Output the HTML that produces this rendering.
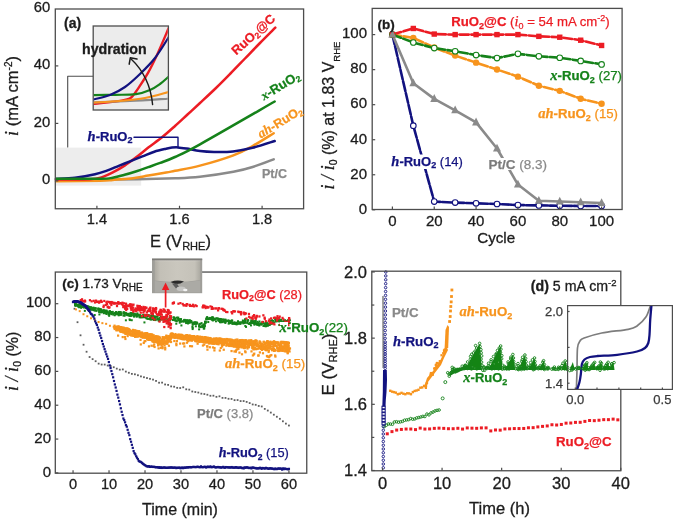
<!DOCTYPE html>
<html><head><meta charset="utf-8"><style>html,body{margin:0;padding:0;background:#fff;overflow:hidden}svg{display:block;will-change:transform} </style></head>
<body><svg width="675" height="521" viewBox="0 0 675 521">
<rect width="675" height="521" fill="#fff"/>
<rect x="56" y="147.6" width="85.2" height="38" fill="#ededed"/>
<path d="M67.7,147 V76.2 H93" fill="none" stroke="#4d4d4d" stroke-width="1.1" stroke-linejoin="round" stroke-linecap="round" stroke-linecap="butt"/>
<path d="M56,180 C65.33,179.93 92.17,179.88 112,179.6 C131.83,179.32 160.33,178.77 175,178.3 C189.67,177.83 190.27,177.88 200,176.8 C209.73,175.72 224.63,173.43 233.4,171.8 C242.17,170.17 245.88,169.08 252.6,167 C259.32,164.92 270.18,160.58 273.7,159.3" fill="none" stroke="#8a8a8a" stroke-width="2.5" stroke-linejoin="round" stroke-linecap="round" />
<path d="M56,181.2 C63.33,181.13 90.53,181.02 100,180.8 C109.47,180.58 107.7,180.3 112.8,179.9 C117.9,179.5 124.68,179.12 130.6,178.4 C136.52,177.68 142.38,176.57 148.3,175.6 C154.22,174.63 161.65,173.4 166.1,172.6 C170.55,171.8 169.35,171.97 175,170.8 C180.65,169.63 190.27,168.18 200,165.6 C209.73,163.02 224.63,158.57 233.4,155.3 C242.17,152.03 245.88,149.68 252.6,146 C259.32,142.32 270.18,135.33 273.7,133.2" fill="none" stroke="#f7941d" stroke-width="2.5" stroke-linejoin="round" stroke-linecap="round" />
<path d="M56,179.4 C61.67,179.37 82.32,179.58 90,179.2 C97.68,178.82 98.3,178.23 102.1,177.1 C105.9,175.97 109.05,174.32 112.8,172.4 C116.55,170.48 120.65,168.17 124.6,165.6 C128.55,163.03 132.55,160 136.5,157 C140.45,154 143.95,150.97 148.3,147.6 C152.65,144.23 158.15,140.4 162.6,136.8 C167.05,133.2 170.85,129.72 175,126 C179.15,122.28 183.33,118.33 187.5,114.5 C191.67,110.67 195.25,107.42 200,103 C204.75,98.58 211,92.83 216,88 C221,83.17 225.17,78.92 230,74 C234.83,69.08 240,63.67 245,58.5 C250,53.33 254.95,48.13 260,43 C265.05,37.87 272.75,30.25 275.3,27.7" fill="none" stroke="#ec1c24" stroke-width="2.5" stroke-linejoin="round" stroke-linecap="round" />
<path d="M56,179 C59.17,178.8 68.5,178.6 75,177.8 C81.5,177 89.68,175.4 95,174.2 C100.32,173 102.95,171.98 106.9,170.6 C110.85,169.22 114.75,167.48 118.7,165.9 C122.65,164.32 126.65,162.68 130.6,161.1 C134.55,159.52 138.45,157.97 142.4,156.4 C146.35,154.83 150.35,152.98 154.3,151.7 C158.25,150.42 163.15,149.38 166.1,148.7 C169.05,148.02 170.02,147.82 172,147.6 C173.98,147.38 175.55,147.23 178,147.4 C180.45,147.57 183.03,148 186.7,148.6 C190.37,149.2 195.45,150.45 200,151 C204.55,151.55 208.5,151.83 214,151.9 C219.5,151.97 226.57,152.08 233,151.4 C239.43,150.72 245.65,149.53 252.6,147.8 C259.55,146.07 271.02,142.13 274.7,141" fill="none" stroke="#12127f" stroke-width="2.5" stroke-linejoin="round" stroke-linecap="round" />
<path d="M56,178.8 C63.5,178.8 91.53,178.98 101,178.8 C110.47,178.62 108.87,178.37 112.8,177.7 C116.73,177.03 120.65,175.88 124.6,174.8 C128.55,173.72 132.55,172.48 136.5,171.2 C140.45,169.92 144.35,168.48 148.3,167.1 C152.25,165.72 155.75,164.58 160.2,162.9 C164.65,161.22 168.37,160.1 175,157 C181.63,153.9 183.38,153.55 200,144.3 C216.62,135.05 262.25,108.63 274.7,101.5" fill="none" stroke="#15821a" stroke-width="2.5" stroke-linejoin="round" stroke-linecap="round" />
<path d="M134,137.3 H178 V147" fill="none" stroke="#12127f" stroke-width="1.4" stroke-linejoin="round" stroke-linecap="round" stroke-linecap="butt"/>
<rect x="93.2" y="26" width="75.2" height="84" fill="#ececec" stroke="#4d4d4d" stroke-width="1.3"/>
<clipPath id="ci"><rect x="93.8" y="26.6" width="74" height="82.8"/></clipPath>
<g clip-path="url(#ci)">
<path d="M93,103.9 C96.67,103.52 109.33,102.35 115,101.6 C120.67,100.85 124.23,100.13 127,99.4 C129.77,98.67 129.62,99.22 131.6,97.2 C133.58,95.18 136.17,91.35 138.9,87.3 C141.63,83.25 144.97,78.33 148,72.9 C151.03,67.47 153.68,62.1 157.1,54.7 C160.52,47.3 166.6,32.87 168.5,28.5" fill="none" stroke="#ec1c24" stroke-width="2.4" stroke-linejoin="round" stroke-linecap="round" />
<path d="M93,102.3 C99.17,102.08 117.42,101.6 130,101 C142.58,100.4 162.08,99.08 168.5,98.7" fill="none" stroke="#8a8a8a" stroke-width="2.2" stroke-linejoin="round" stroke-linecap="round" />
<path d="M93,102.5 C97.5,102.25 111.33,101.75 120,101 C128.67,100.25 136.92,99.5 145,98 C153.08,96.5 164.58,93 168.5,92" fill="none" stroke="#f7941d" stroke-width="2.2" stroke-linejoin="round" stroke-linecap="round" />
<path d="M93,95.2 C96.67,95.13 107.83,94.97 115,94.8 C122.17,94.63 130.17,95 136,94.2 C141.83,93.4 146,91.7 150,90 C154,88.3 156.92,86.2 160,84 C163.08,81.8 167.08,78 168.5,76.8" fill="none" stroke="#15821a" stroke-width="2.2" stroke-linejoin="round" stroke-linecap="round" />
<path d="M93,99.5 C95.83,98.75 104.67,97.08 110,95 C115.33,92.92 120,90.5 125,87 C130,83.5 135,78.83 140,74 C145,69.17 150.25,64.08 155,58 C159.75,51.92 166.25,40.92 168.5,37.5" fill="none" stroke="#12127f" stroke-width="2.2" stroke-linejoin="round" stroke-linecap="round" />
</g>
<path d="M152.6,104.6 C151,88 145,72 130.6,58.6" fill="none" stroke="#1c1c1c" stroke-width="1.4" stroke-linejoin="round" stroke-linecap="round" />
<path d="M129.2,64.2 L130.3,57.8 L137,59" fill="none" stroke="#1c1c1c" stroke-width="1.5" stroke-linejoin="round" stroke-linecap="round" />
<text x="82" y="53.5" font-size="14.2" text-anchor="start" fill="#1c1c1c" stroke="#1c1c1c" stroke-width="0.3" font-weight="bold" font-family="Liberation Sans, sans-serif" >hydration</text>
<rect x="55.3" y="9" width="248.3" height="199.75" fill="none" stroke="#4d4d4d" stroke-width="1.3"/>
<line x1="96.9" y1="208.75" x2="96.9" y2="205.75" stroke="#4d4d4d" stroke-width="1.2" />
<line x1="179.5" y1="208.75" x2="179.5" y2="205.75" stroke="#4d4d4d" stroke-width="1.2" />
<line x1="262.1" y1="208.75" x2="262.1" y2="205.75" stroke="#4d4d4d" stroke-width="1.2" />
<line x1="55.3" y1="180.9" x2="58.3" y2="180.9" stroke="#4d4d4d" stroke-width="1.2" />
<line x1="55.3" y1="123.4" x2="58.3" y2="123.4" stroke="#4d4d4d" stroke-width="1.2" />
<line x1="55.3" y1="65.9" x2="58.3" y2="65.9" stroke="#4d4d4d" stroke-width="1.2" />
<text x="96.9" y="224.4" font-size="14.6" text-anchor="middle" fill="#1c1c1c" stroke="#1c1c1c" stroke-width="0.3" font-weight="normal" font-family="Liberation Sans, sans-serif" >1.4</text>
<text x="179.5" y="224.4" font-size="14.6" text-anchor="middle" fill="#1c1c1c" stroke="#1c1c1c" stroke-width="0.3" font-weight="normal" font-family="Liberation Sans, sans-serif" >1.6</text>
<text x="262.1" y="224.4" font-size="14.6" text-anchor="middle" fill="#1c1c1c" stroke="#1c1c1c" stroke-width="0.3" font-weight="normal" font-family="Liberation Sans, sans-serif" >1.8</text>
<text x="50.2" y="184.3" font-size="14.8" text-anchor="end" fill="#1c1c1c" stroke="#1c1c1c" stroke-width="0.3" font-weight="normal" font-family="Liberation Sans, sans-serif" >0</text>
<text x="50.2" y="126.8" font-size="14.8" text-anchor="end" fill="#1c1c1c" stroke="#1c1c1c" stroke-width="0.3" font-weight="normal" font-family="Liberation Sans, sans-serif" >20</text>
<text x="50.2" y="69.3" font-size="14.8" text-anchor="end" fill="#1c1c1c" stroke="#1c1c1c" stroke-width="0.3" font-weight="normal" font-family="Liberation Sans, sans-serif" >40</text>
<text x="50.2" y="11.8" font-size="14.8" text-anchor="end" fill="#1c1c1c" stroke="#1c1c1c" stroke-width="0.3" font-weight="normal" font-family="Liberation Sans, sans-serif" >60</text>
<text x="64" y="28" font-size="14" text-anchor="start" fill="#1c1c1c" stroke="#1c1c1c" stroke-width="0.3" font-weight="bold" font-family="Liberation Sans, sans-serif" >(a)</text>
<text transform="translate(17.5,96) rotate(-90)" font-size="16.5" text-anchor="middle" fill="#1c1c1c" stroke="#1c1c1c" stroke-width="0.3" font-family="Liberation Sans, sans-serif"><tspan font-family="Liberation Serif, serif" font-style="italic" font-weight="normal" font-size="18">i</tspan> (mA cm<tspan font-size="10" dy="-6">-2</tspan><tspan dy="6">)</tspan></text>
<text x="180.5" y="246.5" font-size="16.5" text-anchor="middle" fill="#1c1c1c" stroke="#1c1c1c" stroke-width="0.3" font-family="Liberation Sans, sans-serif">E (V<tspan font-size="11" dy="3">RHE</tspan><tspan dy="-3">)</tspan></text>
<text transform="translate(236.3,55.6) rotate(-42)" font-size="12.8" text-anchor="start" fill="#ec1c24" stroke="#ec1c24" stroke-width="0.25" font-weight="bold" font-family="Liberation Sans, sans-serif"><tspan font-weight="bold">RuO</tspan><tspan font-weight="bold" font-size="8.5" dy="2.2">2</tspan><tspan font-weight="bold" dy="-2.2">@C</tspan></text>
<text transform="translate(264,100.5) rotate(-31)" font-size="13" text-anchor="start" fill="#15821a" stroke="#15821a" stroke-width="0.25" font-weight="bold" font-family="Liberation Sans, sans-serif"><tspan font-family="Liberation Serif, serif" font-style="italic" font-weight="bold" font-size="13">x</tspan>-<tspan font-weight="bold">RuO</tspan><tspan font-weight="bold" font-size="8.5" dy="2.2">2</tspan></text>
<text transform="translate(260.8,138.5) rotate(-31)" font-size="12.6" text-anchor="start" fill="#f7941d" stroke="#f7941d" stroke-width="0.25" font-weight="bold" font-family="Liberation Sans, sans-serif"><tspan font-family="Liberation Serif, serif" font-style="italic" font-weight="bold" font-size="13.5">ah</tspan>-<tspan font-weight="bold">RuO</tspan><tspan font-weight="bold" font-size="8.5" dy="2.2">2</tspan></text>
<text transform="translate(132.5,140.6)" font-size="13" text-anchor="end" fill="#12127f" stroke="#12127f" stroke-width="0.25" font-weight="bold" font-family="Liberation Sans, sans-serif"><tspan font-family="Liberation Serif, serif" font-style="italic" font-weight="bold" font-size="14.5">h</tspan>-<tspan font-weight="bold">RuO</tspan><tspan font-weight="bold" font-size="9" dy="2.5">2</tspan></text>
<text transform="translate(262,178.3)" font-size="12.5" text-anchor="start" fill="#8a8a8a" stroke="#8a8a8a" stroke-width="0.25" font-weight="bold" font-family="Liberation Sans, sans-serif">Pt/C</text>
<path d="M392.4,34.6 L413.32,125.7 L434.24,201.57 L455.16,202.62 L476.08,203.32 L497,204.02 L517.92,205.07 L538.84,205.42 L559.76,205.77 L580.68,205.95 L601.6,205.95" fill="none" stroke="#12127f" stroke-width="2.6" stroke-linejoin="round" stroke-linecap="round" stroke-dasharray="10 2"/>
<circle cx="392.4" cy="34.6" r="2.8" fill="#fff" stroke="#12127f" stroke-width="1.1"/>
<circle cx="413.32" cy="125.7" r="2.8" fill="#fff" stroke="#12127f" stroke-width="1.1"/>
<circle cx="434.24" cy="201.57" r="2.8" fill="#fff" stroke="#12127f" stroke-width="1.1"/>
<circle cx="455.16" cy="202.62" r="2.8" fill="#fff" stroke="#12127f" stroke-width="1.1"/>
<circle cx="476.08" cy="203.32" r="2.8" fill="#fff" stroke="#12127f" stroke-width="1.1"/>
<circle cx="497" cy="204.02" r="2.8" fill="#fff" stroke="#12127f" stroke-width="1.1"/>
<circle cx="517.92" cy="205.07" r="2.8" fill="#fff" stroke="#12127f" stroke-width="1.1"/>
<circle cx="538.84" cy="205.42" r="2.8" fill="#fff" stroke="#12127f" stroke-width="1.1"/>
<circle cx="559.76" cy="205.77" r="2.8" fill="#fff" stroke="#12127f" stroke-width="1.1"/>
<circle cx="580.68" cy="205.95" r="2.8" fill="#fff" stroke="#12127f" stroke-width="1.1"/>
<circle cx="601.6" cy="205.95" r="2.8" fill="#fff" stroke="#12127f" stroke-width="1.1"/>
<path d="M392.4,34.6 L413.32,83.31 L434.24,98.9 L455.16,110.29 L476.08,122.38 L497,148.48 L517.92,184.57 L538.84,200.69 L559.76,201.57 L580.68,202.27 L601.6,202.97" fill="none" stroke="#8a8a8a" stroke-width="2.6" stroke-linejoin="round" stroke-linecap="round" />
<path d="M392.4,29.8 L388.4,37.6 L396.4,37.6 Z" fill="#8a8a8a"/>
<path d="M413.32,78.51 L409.32,86.31 L417.32,86.31 Z" fill="#8a8a8a"/>
<path d="M434.24,94.1 L430.24,101.9 L438.24,101.9 Z" fill="#8a8a8a"/>
<path d="M455.16,105.49 L451.16,113.29 L459.16,113.29 Z" fill="#8a8a8a"/>
<path d="M476.08,117.58 L472.08,125.38 L480.08,125.38 Z" fill="#8a8a8a"/>
<path d="M497,143.68 L493,151.48 L501,151.48 Z" fill="#8a8a8a"/>
<path d="M517.92,179.77 L513.92,187.57 L521.92,187.57 Z" fill="#8a8a8a"/>
<path d="M538.84,195.89 L534.84,203.69 L542.84,203.69 Z" fill="#8a8a8a"/>
<path d="M559.76,196.77 L555.76,204.57 L563.76,204.57 Z" fill="#8a8a8a"/>
<path d="M580.68,197.47 L576.68,205.27 L584.68,205.27 Z" fill="#8a8a8a"/>
<path d="M601.6,198.17 L597.6,205.97 L605.6,205.97 Z" fill="#8a8a8a"/>
<path d="M392.4,34.6 L413.32,37.93 L434.24,47.56 L455.16,55.62 L476.08,62.63 L497,69.46 L517.92,76.65 L538.84,85.76 L559.76,90.84 L580.68,98.72 L601.6,103.8" fill="none" stroke="#f7941d" stroke-width="2.6" stroke-linejoin="round" stroke-linecap="round" stroke-dasharray="9 2.5"/>
<path d="M392.4,34.6 L413.32,42.48 L434.24,48.09 L455.16,51.24 L476.08,55.1 L497,58.08 L517.92,53.87 L538.84,56.32 L559.76,57.73 L580.68,60.88 L601.6,64.38" fill="none" stroke="#15821a" stroke-width="2.6" stroke-linejoin="round" stroke-linecap="round" stroke-dasharray="9 2.5"/>
<path d="M392.4,34.6 L413.32,28.47 L434.24,34.07 L455.16,34.6 L476.08,34.6 L497,34.6 L517.92,34.6 L538.84,36.35 L559.76,37.23 L580.68,40.21 L601.6,45.46" fill="none" stroke="#ec1c24" stroke-width="2.6" stroke-linejoin="round" stroke-linecap="round" stroke-dasharray="9 2.5"/>
<circle cx="392.4" cy="34.6" r="3.2" fill="#f7941d"/>
<circle cx="413.32" cy="37.93" r="3.2" fill="#f7941d"/>
<circle cx="434.24" cy="47.56" r="3.2" fill="#f7941d"/>
<circle cx="455.16" cy="55.62" r="3.2" fill="#f7941d"/>
<circle cx="476.08" cy="62.63" r="3.2" fill="#f7941d"/>
<circle cx="497" cy="69.46" r="3.2" fill="#f7941d"/>
<circle cx="517.92" cy="76.65" r="3.2" fill="#f7941d"/>
<circle cx="538.84" cy="85.76" r="3.2" fill="#f7941d"/>
<circle cx="559.76" cy="90.84" r="3.2" fill="#f7941d"/>
<circle cx="580.68" cy="98.72" r="3.2" fill="#f7941d"/>
<circle cx="601.6" cy="103.8" r="3.2" fill="#f7941d"/>
<circle cx="392.4" cy="34.6" r="2.8" fill="#fff" stroke="#15821a" stroke-width="1.1"/>
<circle cx="413.32" cy="42.48" r="2.8" fill="#fff" stroke="#15821a" stroke-width="1.1"/>
<circle cx="434.24" cy="48.09" r="2.8" fill="#fff" stroke="#15821a" stroke-width="1.1"/>
<circle cx="455.16" cy="51.24" r="2.8" fill="#fff" stroke="#15821a" stroke-width="1.1"/>
<circle cx="476.08" cy="55.1" r="2.8" fill="#fff" stroke="#15821a" stroke-width="1.1"/>
<circle cx="497" cy="58.08" r="2.8" fill="#fff" stroke="#15821a" stroke-width="1.1"/>
<circle cx="517.92" cy="53.87" r="2.8" fill="#fff" stroke="#15821a" stroke-width="1.1"/>
<circle cx="538.84" cy="56.32" r="2.8" fill="#fff" stroke="#15821a" stroke-width="1.1"/>
<circle cx="559.76" cy="57.73" r="2.8" fill="#fff" stroke="#15821a" stroke-width="1.1"/>
<circle cx="580.68" cy="60.88" r="2.8" fill="#fff" stroke="#15821a" stroke-width="1.1"/>
<circle cx="601.6" cy="64.38" r="2.8" fill="#fff" stroke="#15821a" stroke-width="1.1"/>
<rect x="389.7" y="31.9" width="5.4" height="5.4" fill="#ec1c24"/>
<rect x="410.62" y="25.77" width="5.4" height="5.4" fill="#ec1c24"/>
<rect x="431.54" y="31.37" width="5.4" height="5.4" fill="#ec1c24"/>
<rect x="452.46" y="31.9" width="5.4" height="5.4" fill="#ec1c24"/>
<rect x="473.38" y="31.9" width="5.4" height="5.4" fill="#ec1c24"/>
<rect x="494.3" y="31.9" width="5.4" height="5.4" fill="#ec1c24"/>
<rect x="515.22" y="31.9" width="5.4" height="5.4" fill="#ec1c24"/>
<rect x="536.14" y="33.65" width="5.4" height="5.4" fill="#ec1c24"/>
<rect x="557.06" y="34.53" width="5.4" height="5.4" fill="#ec1c24"/>
<rect x="577.98" y="37.51" width="5.4" height="5.4" fill="#ec1c24"/>
<rect x="598.9" y="42.76" width="5.4" height="5.4" fill="#ec1c24"/>
<path d="M392.4,30 L388.6,37.6 L396.2,37.6 Z" fill="#8a8a8a"/>
<rect x="372.2" y="8.4" width="249.9" height="201.1" fill="none" stroke="#4d4d4d" stroke-width="1.3"/>
<line x1="392.4" y1="209.5" x2="392.4" y2="206.5" stroke="#4d4d4d" stroke-width="1.2" />
<text x="392.4" y="225.5" font-size="15" text-anchor="middle" fill="#1c1c1c" stroke="#1c1c1c" stroke-width="0.3" font-weight="normal" font-family="Liberation Sans, sans-serif" >0</text>
<line x1="434.24" y1="209.5" x2="434.24" y2="206.5" stroke="#4d4d4d" stroke-width="1.2" />
<text x="434.24" y="225.5" font-size="15" text-anchor="middle" fill="#1c1c1c" stroke="#1c1c1c" stroke-width="0.3" font-weight="normal" font-family="Liberation Sans, sans-serif" >20</text>
<line x1="476.08" y1="209.5" x2="476.08" y2="206.5" stroke="#4d4d4d" stroke-width="1.2" />
<text x="476.08" y="225.5" font-size="15" text-anchor="middle" fill="#1c1c1c" stroke="#1c1c1c" stroke-width="0.3" font-weight="normal" font-family="Liberation Sans, sans-serif" >40</text>
<line x1="517.92" y1="209.5" x2="517.92" y2="206.5" stroke="#4d4d4d" stroke-width="1.2" />
<text x="517.92" y="225.5" font-size="15" text-anchor="middle" fill="#1c1c1c" stroke="#1c1c1c" stroke-width="0.3" font-weight="normal" font-family="Liberation Sans, sans-serif" >60</text>
<line x1="559.76" y1="209.5" x2="559.76" y2="206.5" stroke="#4d4d4d" stroke-width="1.2" />
<text x="559.76" y="225.5" font-size="15" text-anchor="middle" fill="#1c1c1c" stroke="#1c1c1c" stroke-width="0.3" font-weight="normal" font-family="Liberation Sans, sans-serif" >80</text>
<line x1="601.6" y1="209.5" x2="601.6" y2="206.5" stroke="#4d4d4d" stroke-width="1.2" />
<text x="601.6" y="225.5" font-size="15" text-anchor="middle" fill="#1c1c1c" stroke="#1c1c1c" stroke-width="0.3" font-weight="normal" font-family="Liberation Sans, sans-serif" >100</text>
<line x1="372.2" y1="209.8" x2="375.2" y2="209.8" stroke="#4d4d4d" stroke-width="1.2" />
<text x="367" y="213.6" font-size="15" text-anchor="end" fill="#1c1c1c" stroke="#1c1c1c" stroke-width="0.3" font-weight="normal" font-family="Liberation Sans, sans-serif" >0</text>
<line x1="372.2" y1="174.76" x2="375.2" y2="174.76" stroke="#4d4d4d" stroke-width="1.2" />
<text x="367" y="178.56" font-size="15" text-anchor="end" fill="#1c1c1c" stroke="#1c1c1c" stroke-width="0.3" font-weight="normal" font-family="Liberation Sans, sans-serif" >20</text>
<line x1="372.2" y1="139.72" x2="375.2" y2="139.72" stroke="#4d4d4d" stroke-width="1.2" />
<text x="367" y="143.52" font-size="15" text-anchor="end" fill="#1c1c1c" stroke="#1c1c1c" stroke-width="0.3" font-weight="normal" font-family="Liberation Sans, sans-serif" >40</text>
<line x1="372.2" y1="104.68" x2="375.2" y2="104.68" stroke="#4d4d4d" stroke-width="1.2" />
<text x="367" y="108.48" font-size="15" text-anchor="end" fill="#1c1c1c" stroke="#1c1c1c" stroke-width="0.3" font-weight="normal" font-family="Liberation Sans, sans-serif" >60</text>
<line x1="372.2" y1="69.64" x2="375.2" y2="69.64" stroke="#4d4d4d" stroke-width="1.2" />
<text x="367" y="73.44" font-size="15" text-anchor="end" fill="#1c1c1c" stroke="#1c1c1c" stroke-width="0.3" font-weight="normal" font-family="Liberation Sans, sans-serif" >80</text>
<line x1="372.2" y1="34.6" x2="375.2" y2="34.6" stroke="#4d4d4d" stroke-width="1.2" />
<text x="367" y="38.4" font-size="15" text-anchor="end" fill="#1c1c1c" stroke="#1c1c1c" stroke-width="0.3" font-weight="normal" font-family="Liberation Sans, sans-serif" >100</text>
<text x="377.5" y="28.5" font-size="13.5" text-anchor="start" fill="#1c1c1c" stroke="#1c1c1c" stroke-width="0.3" font-weight="bold" font-family="Liberation Sans, sans-serif" >(b)</text>
<text x="496.2" y="243" font-size="15.2" text-anchor="middle" fill="#1c1c1c" stroke="#1c1c1c" stroke-width="0.3" font-weight="normal" font-family="Liberation Sans, sans-serif" >Cycle</text>
<text transform="translate(333.5,115.5) rotate(-90)" font-size="16" text-anchor="middle" fill="#1c1c1c" stroke="#1c1c1c" stroke-width="0.3" font-family="Liberation Sans, sans-serif"><tspan font-family="Liberation Serif, serif" font-style="italic" font-weight="normal" font-size="18">i</tspan><tspan font-family="Liberation Serif, serif" font-style="italic" font-size="18"> / </tspan><tspan font-family="Liberation Serif, serif" font-style="italic" font-weight="normal" font-size="18">i</tspan><tspan font-size="10.5" dy="3">0</tspan><tspan dy="-3"> (%) at 1.83 V</tspan><tspan font-size="9.5" dy="6">RHE</tspan></text>
<text transform="translate(451.2,26.3)" font-size="13.2" text-anchor="start" fill="#ec1c24" stroke="#ec1c24" stroke-width="0.25" font-weight="normal" font-family="Liberation Sans, sans-serif"><tspan font-weight="bold">RuO</tspan><tspan font-weight="bold" font-size="9" dy="2.5">2</tspan><tspan font-weight="bold" dy="-2.5">@C</tspan> (<tspan font-family="Liberation Serif, serif" font-style="italic" font-weight="normal" font-size="14.5">i</tspan><tspan font-size="9" dy="2.5">0</tspan><tspan dy="-2.5"> = 54 mA cm</tspan><tspan font-size="9" dy="-5">-2</tspan><tspan dy="5">)</tspan></text>
<text transform="translate(622,80)" font-size="13.2" text-anchor="end" fill="#15821a" stroke="#15821a" stroke-width="0.25" font-weight="normal" font-family="Liberation Sans, sans-serif"><tspan font-family="Liberation Serif, serif" font-style="italic" font-weight="bold" font-size="14.5">x</tspan><tspan font-weight="bold">-</tspan><tspan font-weight="bold">RuO</tspan><tspan font-weight="bold" font-size="9" dy="2.5">2</tspan><tspan dy="-2.5"> (27)</tspan></text>
<text transform="translate(618,118)" font-size="13.2" text-anchor="end" fill="#f7941d" stroke="#f7941d" stroke-width="0.25" font-weight="normal" font-family="Liberation Sans, sans-serif"><tspan font-family="Liberation Serif, serif" font-style="italic" font-weight="bold" font-size="14.5">ah</tspan><tspan font-weight="bold">-</tspan><tspan font-weight="bold">RuO</tspan><tspan font-weight="bold" font-size="9" dy="2.5">2</tspan><tspan dy="-2.5"> (15)</tspan></text>
<rect x="391" y="154.5" width="70" height="14.5" fill="#fff"/>
<text transform="translate(391.3,165.5)" font-size="13" text-anchor="start" fill="#12127f" stroke="#12127f" stroke-width="0.25" font-weight="normal" font-family="Liberation Sans, sans-serif"><tspan font-family="Liberation Serif, serif" font-style="italic" font-weight="bold" font-size="14.5">h</tspan><tspan font-weight="bold">-</tspan><tspan font-weight="bold">RuO</tspan><tspan font-weight="bold" font-size="9" dy="2.5">2</tspan><tspan dy="-2.5"> (14)</tspan></text>
<rect x="489" y="158" width="31" height="12" fill="#fff"/>
<text transform="translate(488.5,169)" font-size="13.5" text-anchor="start" fill="#8a8a8a" stroke="#8a8a8a" stroke-width="0.25" font-weight="normal" font-family="Liberation Sans, sans-serif"><tspan font-weight="bold" fill="#7a7a7a">Pt/C</tspan> (8.3)</text>
<rect x="73.59" y="307.83" width="1.8" height="1.8" fill="#5e5e5e"/>
<rect x="76.61" y="321.31" width="1.8" height="1.8" fill="#5e5e5e"/>
<rect x="79.63" y="334.41" width="1.8" height="1.8" fill="#5e5e5e"/>
<rect x="82.65" y="343.83" width="1.8" height="1.8" fill="#5e5e5e"/>
<rect x="85.67" y="350.85" width="1.8" height="1.8" fill="#5e5e5e"/>
<rect x="88.69" y="356.11" width="1.8" height="1.8" fill="#5e5e5e"/>
<rect x="91.71" y="358.23" width="1.8" height="1.8" fill="#5e5e5e"/>
<rect x="94.73" y="360.31" width="1.8" height="1.8" fill="#5e5e5e"/>
<rect x="97.75" y="362.73" width="1.8" height="1.8" fill="#5e5e5e"/>
<rect x="100.77" y="363.64" width="1.8" height="1.8" fill="#5e5e5e"/>
<rect x="103.79" y="363.68" width="1.8" height="1.8" fill="#5e5e5e"/>
<rect x="106.81" y="364.65" width="1.8" height="1.8" fill="#5e5e5e"/>
<rect x="109.83" y="365.13" width="1.8" height="1.8" fill="#5e5e5e"/>
<rect x="112.85" y="366.32" width="1.8" height="1.8" fill="#5e5e5e"/>
<rect x="115.87" y="367.74" width="1.8" height="1.8" fill="#5e5e5e"/>
<rect x="118.89" y="368.77" width="1.8" height="1.8" fill="#5e5e5e"/>
<rect x="121.91" y="368.52" width="1.8" height="1.8" fill="#5e5e5e"/>
<rect x="124.93" y="370.69" width="1.8" height="1.8" fill="#5e5e5e"/>
<rect x="127.95" y="371.86" width="1.8" height="1.8" fill="#5e5e5e"/>
<rect x="130.97" y="372.97" width="1.8" height="1.8" fill="#5e5e5e"/>
<rect x="134" y="373.4" width="1.8" height="1.8" fill="#5e5e5e"/>
<rect x="137.02" y="374.34" width="1.8" height="1.8" fill="#5e5e5e"/>
<rect x="140.04" y="375.5" width="1.8" height="1.8" fill="#5e5e5e"/>
<rect x="143.06" y="376.33" width="1.8" height="1.8" fill="#5e5e5e"/>
<rect x="146.08" y="377.14" width="1.8" height="1.8" fill="#5e5e5e"/>
<rect x="149.1" y="377.92" width="1.8" height="1.8" fill="#5e5e5e"/>
<rect x="152.12" y="378.7" width="1.8" height="1.8" fill="#5e5e5e"/>
<rect x="155.14" y="380.02" width="1.8" height="1.8" fill="#5e5e5e"/>
<rect x="158.16" y="381.82" width="1.8" height="1.8" fill="#5e5e5e"/>
<rect x="161.18" y="381.72" width="1.8" height="1.8" fill="#5e5e5e"/>
<rect x="164.2" y="383.57" width="1.8" height="1.8" fill="#5e5e5e"/>
<rect x="167.22" y="383.99" width="1.8" height="1.8" fill="#5e5e5e"/>
<rect x="170.24" y="385.49" width="1.8" height="1.8" fill="#5e5e5e"/>
<rect x="173.26" y="385.82" width="1.8" height="1.8" fill="#5e5e5e"/>
<rect x="176.28" y="386.95" width="1.8" height="1.8" fill="#5e5e5e"/>
<rect x="179.3" y="387.12" width="1.8" height="1.8" fill="#5e5e5e"/>
<rect x="182.32" y="386.4" width="1.8" height="1.8" fill="#5e5e5e"/>
<rect x="185.34" y="388.4" width="1.8" height="1.8" fill="#5e5e5e"/>
<rect x="188.36" y="388.73" width="1.8" height="1.8" fill="#5e5e5e"/>
<rect x="191.38" y="390.6" width="1.8" height="1.8" fill="#5e5e5e"/>
<rect x="194.4" y="391.11" width="1.8" height="1.8" fill="#5e5e5e"/>
<rect x="197.42" y="391.65" width="1.8" height="1.8" fill="#5e5e5e"/>
<rect x="200.44" y="392.76" width="1.8" height="1.8" fill="#5e5e5e"/>
<rect x="203.46" y="393.14" width="1.8" height="1.8" fill="#5e5e5e"/>
<rect x="206.48" y="393.83" width="1.8" height="1.8" fill="#5e5e5e"/>
<rect x="209.5" y="394.88" width="1.8" height="1.8" fill="#5e5e5e"/>
<rect x="212.52" y="394.79" width="1.8" height="1.8" fill="#5e5e5e"/>
<rect x="215.54" y="395.95" width="1.8" height="1.8" fill="#5e5e5e"/>
<rect x="218.56" y="395.39" width="1.8" height="1.8" fill="#5e5e5e"/>
<rect x="221.58" y="396.97" width="1.8" height="1.8" fill="#5e5e5e"/>
<rect x="224.6" y="397.04" width="1.8" height="1.8" fill="#5e5e5e"/>
<rect x="227.62" y="397.89" width="1.8" height="1.8" fill="#5e5e5e"/>
<rect x="230.64" y="398.04" width="1.8" height="1.8" fill="#5e5e5e"/>
<rect x="233.66" y="399.26" width="1.8" height="1.8" fill="#5e5e5e"/>
<rect x="236.69" y="399.14" width="1.8" height="1.8" fill="#5e5e5e"/>
<rect x="239.71" y="400.17" width="1.8" height="1.8" fill="#5e5e5e"/>
<rect x="242.73" y="400.15" width="1.8" height="1.8" fill="#5e5e5e"/>
<rect x="245.75" y="400.98" width="1.8" height="1.8" fill="#5e5e5e"/>
<rect x="248.77" y="402.16" width="1.8" height="1.8" fill="#5e5e5e"/>
<rect x="251.79" y="403.56" width="1.8" height="1.8" fill="#5e5e5e"/>
<rect x="254.81" y="403.92" width="1.8" height="1.8" fill="#5e5e5e"/>
<rect x="257.83" y="405.05" width="1.8" height="1.8" fill="#5e5e5e"/>
<rect x="260.85" y="405.57" width="1.8" height="1.8" fill="#5e5e5e"/>
<rect x="263.87" y="408.01" width="1.8" height="1.8" fill="#5e5e5e"/>
<rect x="266.89" y="409.64" width="1.8" height="1.8" fill="#5e5e5e"/>
<rect x="269.91" y="411.68" width="1.8" height="1.8" fill="#5e5e5e"/>
<rect x="272.93" y="413.8" width="1.8" height="1.8" fill="#5e5e5e"/>
<rect x="275.95" y="415.85" width="1.8" height="1.8" fill="#5e5e5e"/>
<rect x="278.97" y="417.91" width="1.8" height="1.8" fill="#5e5e5e"/>
<rect x="281.99" y="420.39" width="1.8" height="1.8" fill="#5e5e5e"/>
<rect x="285.01" y="422.73" width="1.8" height="1.8" fill="#5e5e5e"/>
<rect x="288.03" y="424.62" width="1.8" height="1.8" fill="#5e5e5e"/>
<rect x="74.93" y="308.41" width="2" height="2" fill="#f7941d"/>
<rect x="78.71" y="310.13" width="2" height="2" fill="#f7941d"/>
<rect x="82.48" y="313.25" width="2" height="2" fill="#f7941d"/>
<rect x="86.26" y="315.27" width="2" height="2" fill="#f7941d"/>
<rect x="90.04" y="317.27" width="2" height="2" fill="#f7941d"/>
<rect x="93.82" y="319.16" width="2" height="2" fill="#f7941d"/>
<rect x="97.6" y="320.98" width="2" height="2" fill="#f7941d"/>
<rect x="101.37" y="322.15" width="2" height="2" fill="#f7941d"/>
<rect x="105.15" y="322.82" width="2" height="2" fill="#f7941d"/>
<rect x="108.93" y="324.78" width="2" height="2" fill="#f7941d"/>
<rect x="112.71" y="325.75" width="2" height="2" fill="#f7941d"/>
<rect x="150.32" y="335.71" width="2.2" height="2.2" fill="#f7941d"/>
<rect x="263.34" y="345.7" width="2.2" height="2.2" fill="#f7941d"/>
<rect x="130.94" y="334.24" width="2.2" height="2.2" fill="#f7941d"/>
<rect x="150.77" y="334.94" width="2.2" height="2.2" fill="#f7941d"/>
<rect x="249" y="341.82" width="2.2" height="2.2" fill="#f7941d"/>
<rect x="165.36" y="334.98" width="2.2" height="2.2" fill="#f7941d"/>
<rect x="129.15" y="331.32" width="2.2" height="2.2" fill="#f7941d"/>
<rect x="156" y="339.2" width="2.2" height="2.2" fill="#f7941d"/>
<rect x="178.59" y="335.41" width="2.2" height="2.2" fill="#f7941d"/>
<rect x="281.73" y="345.39" width="2.2" height="2.2" fill="#f7941d"/>
<rect x="214.21" y="342.19" width="2.2" height="2.2" fill="#f7941d"/>
<rect x="145.43" y="332.86" width="2.2" height="2.2" fill="#f7941d"/>
<rect x="272.83" y="347.99" width="2.2" height="2.2" fill="#f7941d"/>
<rect x="157.13" y="336.74" width="2.2" height="2.2" fill="#f7941d"/>
<rect x="243.16" y="346.55" width="2.2" height="2.2" fill="#f7941d"/>
<rect x="147.84" y="338.77" width="2.2" height="2.2" fill="#f7941d"/>
<rect x="268.22" y="345.66" width="2.2" height="2.2" fill="#f7941d"/>
<rect x="187.33" y="334.75" width="2.2" height="2.2" fill="#f7941d"/>
<rect x="120.12" y="330.62" width="2.2" height="2.2" fill="#f7941d"/>
<rect x="155.19" y="339.61" width="2.2" height="2.2" fill="#f7941d"/>
<rect x="158.45" y="341.67" width="2.2" height="2.2" fill="#f7941d"/>
<rect x="218.06" y="339.19" width="2.2" height="2.2" fill="#f7941d"/>
<rect x="144.13" y="336.23" width="2.2" height="2.2" fill="#f7941d"/>
<rect x="125.4" y="328.28" width="2.2" height="2.2" fill="#f7941d"/>
<rect x="211.54" y="341.75" width="2.2" height="2.2" fill="#f7941d"/>
<rect x="221.19" y="339.34" width="2.2" height="2.2" fill="#f7941d"/>
<rect x="274.4" y="342.26" width="2.2" height="2.2" fill="#f7941d"/>
<rect x="116.24" y="326.12" width="2.2" height="2.2" fill="#f7941d"/>
<rect x="191.59" y="335" width="2.2" height="2.2" fill="#f7941d"/>
<rect x="144.27" y="333.97" width="2.2" height="2.2" fill="#f7941d"/>
<rect x="213.79" y="337.83" width="2.2" height="2.2" fill="#f7941d"/>
<rect x="176.91" y="337.21" width="2.2" height="2.2" fill="#f7941d"/>
<rect x="285.48" y="347.29" width="2.2" height="2.2" fill="#f7941d"/>
<rect x="234.69" y="342.67" width="2.2" height="2.2" fill="#f7941d"/>
<rect x="137.97" y="330.26" width="2.2" height="2.2" fill="#f7941d"/>
<rect x="116.47" y="329.18" width="2.2" height="2.2" fill="#f7941d"/>
<rect x="236.4" y="345.81" width="2.2" height="2.2" fill="#f7941d"/>
<rect x="117.06" y="328.07" width="2.2" height="2.2" fill="#f7941d"/>
<rect x="198" y="339.26" width="2.2" height="2.2" fill="#f7941d"/>
<rect x="169.32" y="338.6" width="2.2" height="2.2" fill="#f7941d"/>
<rect x="126.54" y="330.36" width="2.2" height="2.2" fill="#f7941d"/>
<rect x="242.73" y="346.15" width="2.2" height="2.2" fill="#f7941d"/>
<rect x="242.75" y="344.5" width="2.2" height="2.2" fill="#f7941d"/>
<rect x="252.61" y="347.54" width="2.2" height="2.2" fill="#f7941d"/>
<rect x="175.1" y="335.95" width="2.2" height="2.2" fill="#f7941d"/>
<rect x="271.5" y="348.41" width="2.2" height="2.2" fill="#f7941d"/>
<rect x="186.57" y="338.04" width="2.2" height="2.2" fill="#f7941d"/>
<rect x="264.94" y="345.15" width="2.2" height="2.2" fill="#f7941d"/>
<rect x="223.06" y="340.15" width="2.2" height="2.2" fill="#f7941d"/>
<rect x="215.64" y="340.86" width="2.2" height="2.2" fill="#f7941d"/>
<rect x="127.41" y="331.14" width="2.2" height="2.2" fill="#f7941d"/>
<rect x="287.74" y="349.58" width="2.2" height="2.2" fill="#f7941d"/>
<rect x="241.19" y="341.7" width="2.2" height="2.2" fill="#f7941d"/>
<rect x="242.39" y="343.42" width="2.2" height="2.2" fill="#f7941d"/>
<rect x="190.67" y="338.84" width="2.2" height="2.2" fill="#f7941d"/>
<rect x="128.04" y="331.97" width="2.2" height="2.2" fill="#f7941d"/>
<rect x="118.56" y="328.34" width="2.2" height="2.2" fill="#f7941d"/>
<rect x="197.77" y="336.57" width="2.2" height="2.2" fill="#f7941d"/>
<rect x="235.94" y="342.11" width="2.2" height="2.2" fill="#f7941d"/>
<rect x="221.22" y="343.45" width="2.2" height="2.2" fill="#f7941d"/>
<rect x="158.25" y="335.87" width="2.2" height="2.2" fill="#f7941d"/>
<rect x="166.18" y="339.74" width="2.2" height="2.2" fill="#f7941d"/>
<rect x="148.9" y="333.83" width="2.2" height="2.2" fill="#f7941d"/>
<rect x="272.36" y="346.46" width="2.2" height="2.2" fill="#f7941d"/>
<rect x="190.92" y="339.14" width="2.2" height="2.2" fill="#f7941d"/>
<rect x="170.74" y="335.19" width="2.2" height="2.2" fill="#f7941d"/>
<rect x="148.18" y="335.4" width="2.2" height="2.2" fill="#f7941d"/>
<rect x="254.84" y="347.69" width="2.2" height="2.2" fill="#f7941d"/>
<rect x="267.89" y="343.56" width="2.2" height="2.2" fill="#f7941d"/>
<rect x="215.71" y="339.14" width="2.2" height="2.2" fill="#f7941d"/>
<rect x="137.24" y="332.95" width="2.2" height="2.2" fill="#f7941d"/>
<rect x="260.31" y="347.44" width="2.2" height="2.2" fill="#f7941d"/>
<rect x="238.2" y="345.96" width="2.2" height="2.2" fill="#f7941d"/>
<rect x="161.93" y="336.99" width="2.2" height="2.2" fill="#f7941d"/>
<rect x="192.45" y="336.19" width="2.2" height="2.2" fill="#f7941d"/>
<rect x="150.92" y="336.05" width="2.2" height="2.2" fill="#f7941d"/>
<rect x="223.19" y="340.9" width="2.2" height="2.2" fill="#f7941d"/>
<rect x="168.7" y="338.42" width="2.2" height="2.2" fill="#f7941d"/>
<rect x="285.76" y="345.34" width="2.2" height="2.2" fill="#f7941d"/>
<rect x="126.44" y="327.43" width="2.2" height="2.2" fill="#f7941d"/>
<rect x="266.58" y="340.24" width="2.2" height="2.2" fill="#f7941d"/>
<rect x="237.75" y="342.87" width="2.2" height="2.2" fill="#f7941d"/>
<rect x="167.59" y="339.42" width="2.2" height="2.2" fill="#f7941d"/>
<rect x="116.68" y="325.6" width="2.2" height="2.2" fill="#f7941d"/>
<rect x="193.19" y="334.99" width="2.2" height="2.2" fill="#f7941d"/>
<rect x="259" y="341.63" width="2.2" height="2.2" fill="#f7941d"/>
<rect x="138.06" y="330.35" width="2.2" height="2.2" fill="#f7941d"/>
<rect x="223.8" y="340.64" width="2.2" height="2.2" fill="#f7941d"/>
<rect x="223.94" y="342.04" width="2.2" height="2.2" fill="#f7941d"/>
<rect x="255.09" y="348.12" width="2.2" height="2.2" fill="#f7941d"/>
<rect x="233.51" y="339.63" width="2.2" height="2.2" fill="#f7941d"/>
<rect x="196.75" y="336.18" width="2.2" height="2.2" fill="#f7941d"/>
<rect x="115.22" y="326.78" width="2.2" height="2.2" fill="#f7941d"/>
<rect x="238.72" y="339.81" width="2.2" height="2.2" fill="#f7941d"/>
<rect x="161.15" y="338.56" width="2.2" height="2.2" fill="#f7941d"/>
<rect x="235.76" y="342.28" width="2.2" height="2.2" fill="#f7941d"/>
<rect x="221.21" y="342.4" width="2.2" height="2.2" fill="#f7941d"/>
<rect x="182.42" y="337.49" width="2.2" height="2.2" fill="#f7941d"/>
<rect x="272.45" y="341.03" width="2.2" height="2.2" fill="#f7941d"/>
<rect x="277.08" y="347.36" width="2.2" height="2.2" fill="#f7941d"/>
<rect x="136.14" y="332.4" width="2.2" height="2.2" fill="#f7941d"/>
<rect x="223.16" y="343.64" width="2.2" height="2.2" fill="#f7941d"/>
<rect x="179.49" y="336.06" width="2.2" height="2.2" fill="#f7941d"/>
<rect x="267.72" y="347.45" width="2.2" height="2.2" fill="#f7941d"/>
<rect x="279.12" y="345.03" width="2.2" height="2.2" fill="#f7941d"/>
<rect x="227.69" y="339.28" width="2.2" height="2.2" fill="#f7941d"/>
<rect x="240.09" y="345.13" width="2.2" height="2.2" fill="#f7941d"/>
<rect x="225.98" y="342.69" width="2.2" height="2.2" fill="#f7941d"/>
<rect x="150.78" y="339.3" width="2.2" height="2.2" fill="#f7941d"/>
<rect x="285.48" y="350.37" width="2.2" height="2.2" fill="#f7941d"/>
<rect x="207.61" y="340.86" width="2.2" height="2.2" fill="#f7941d"/>
<rect x="169.58" y="337.74" width="2.2" height="2.2" fill="#f7941d"/>
<rect x="263.59" y="342.96" width="2.2" height="2.2" fill="#f7941d"/>
<rect x="127.86" y="330.13" width="2.2" height="2.2" fill="#f7941d"/>
<rect x="209.95" y="341.05" width="2.2" height="2.2" fill="#f7941d"/>
<rect x="198.91" y="335.63" width="2.2" height="2.2" fill="#f7941d"/>
<rect x="255.4" y="339.79" width="2.2" height="2.2" fill="#f7941d"/>
<rect x="253.77" y="340.7" width="2.2" height="2.2" fill="#f7941d"/>
<rect x="172.15" y="335.8" width="2.2" height="2.2" fill="#f7941d"/>
<rect x="138" y="330.97" width="2.2" height="2.2" fill="#f7941d"/>
<rect x="204.02" y="340.01" width="2.2" height="2.2" fill="#f7941d"/>
<rect x="260.81" y="345.98" width="2.2" height="2.2" fill="#f7941d"/>
<rect x="279.38" y="345.32" width="2.2" height="2.2" fill="#f7941d"/>
<rect x="279.98" y="341.47" width="2.2" height="2.2" fill="#f7941d"/>
<rect x="152.2" y="337.29" width="2.2" height="2.2" fill="#f7941d"/>
<rect x="164.28" y="340.62" width="2.2" height="2.2" fill="#f7941d"/>
<rect x="225.5" y="341.31" width="2.2" height="2.2" fill="#f7941d"/>
<rect x="261.45" y="344.81" width="2.2" height="2.2" fill="#f7941d"/>
<rect x="168.06" y="336" width="2.2" height="2.2" fill="#f7941d"/>
<rect x="261.74" y="348.03" width="2.2" height="2.2" fill="#f7941d"/>
<rect x="149.89" y="338.68" width="2.2" height="2.2" fill="#f7941d"/>
<rect x="283.37" y="345.88" width="2.2" height="2.2" fill="#f7941d"/>
<rect x="213.93" y="338.26" width="2.2" height="2.2" fill="#f7941d"/>
<rect x="207.42" y="339.22" width="2.2" height="2.2" fill="#f7941d"/>
<rect x="219.59" y="337.64" width="2.2" height="2.2" fill="#f7941d"/>
<rect x="283.54" y="345.81" width="2.2" height="2.2" fill="#f7941d"/>
<rect x="183.66" y="337.71" width="2.2" height="2.2" fill="#f7941d"/>
<rect x="212.16" y="339.73" width="2.2" height="2.2" fill="#f7941d"/>
<rect x="234.65" y="338.68" width="2.2" height="2.2" fill="#f7941d"/>
<rect x="207.92" y="338.77" width="2.2" height="2.2" fill="#f7941d"/>
<rect x="281.34" y="349.57" width="2.2" height="2.2" fill="#f7941d"/>
<rect x="160.6" y="339.66" width="2.2" height="2.2" fill="#f7941d"/>
<rect x="135.62" y="332.14" width="2.2" height="2.2" fill="#f7941d"/>
<rect x="256.55" y="347.68" width="2.2" height="2.2" fill="#f7941d"/>
<rect x="197" y="336.94" width="2.2" height="2.2" fill="#f7941d"/>
<rect x="146.94" y="336.31" width="2.2" height="2.2" fill="#f7941d"/>
<rect x="275.79" y="341.63" width="2.2" height="2.2" fill="#f7941d"/>
<rect x="250.16" y="339.11" width="2.2" height="2.2" fill="#f7941d"/>
<rect x="147.41" y="333.84" width="2.2" height="2.2" fill="#f7941d"/>
<rect x="233.96" y="340.59" width="2.2" height="2.2" fill="#f7941d"/>
<rect x="175.72" y="335.78" width="2.2" height="2.2" fill="#f7941d"/>
<rect x="131.74" y="332.92" width="2.2" height="2.2" fill="#f7941d"/>
<rect x="134.89" y="332.42" width="2.2" height="2.2" fill="#f7941d"/>
<rect x="157.32" y="336.86" width="2.2" height="2.2" fill="#f7941d"/>
<rect x="206.45" y="338.72" width="2.2" height="2.2" fill="#f7941d"/>
<rect x="179.3" y="335.31" width="2.2" height="2.2" fill="#f7941d"/>
<rect x="206.27" y="337.15" width="2.2" height="2.2" fill="#f7941d"/>
<rect x="149.19" y="337.01" width="2.2" height="2.2" fill="#f7941d"/>
<rect x="225.43" y="341.35" width="2.2" height="2.2" fill="#f7941d"/>
<rect x="262.79" y="345.38" width="2.2" height="2.2" fill="#f7941d"/>
<rect x="263.76" y="341.88" width="2.2" height="2.2" fill="#f7941d"/>
<rect x="243.39" y="345.48" width="2.2" height="2.2" fill="#f7941d"/>
<rect x="271.82" y="343.16" width="2.2" height="2.2" fill="#f7941d"/>
<rect x="168.63" y="339.04" width="2.2" height="2.2" fill="#f7941d"/>
<rect x="151.63" y="340.29" width="2.2" height="2.2" fill="#f7941d"/>
<rect x="269.16" y="341.27" width="2.2" height="2.2" fill="#f7941d"/>
<rect x="155.35" y="339.83" width="2.2" height="2.2" fill="#f7941d"/>
<rect x="158.89" y="336.7" width="2.2" height="2.2" fill="#f7941d"/>
<rect x="259.44" y="343.38" width="2.2" height="2.2" fill="#f7941d"/>
<rect x="252.03" y="340.16" width="2.2" height="2.2" fill="#f7941d"/>
<rect x="184.05" y="337.2" width="2.2" height="2.2" fill="#f7941d"/>
<rect x="116.45" y="325.85" width="2.2" height="2.2" fill="#f7941d"/>
<rect x="233.14" y="344.98" width="2.2" height="2.2" fill="#f7941d"/>
<rect x="283.36" y="341.96" width="2.2" height="2.2" fill="#f7941d"/>
<rect x="202.12" y="339.95" width="2.2" height="2.2" fill="#f7941d"/>
<rect x="201.61" y="339.49" width="2.2" height="2.2" fill="#f7941d"/>
<rect x="146.51" y="332.58" width="2.2" height="2.2" fill="#f7941d"/>
<rect x="131.97" y="328.8" width="2.2" height="2.2" fill="#f7941d"/>
<rect x="210.19" y="339.63" width="2.2" height="2.2" fill="#f7941d"/>
<rect x="213.19" y="337.85" width="2.2" height="2.2" fill="#f7941d"/>
<rect x="145.73" y="333.26" width="2.2" height="2.2" fill="#f7941d"/>
<rect x="260.85" y="348.81" width="2.2" height="2.2" fill="#f7941d"/>
<rect x="276.07" y="341.32" width="2.2" height="2.2" fill="#f7941d"/>
<rect x="124.2" y="331.89" width="2.2" height="2.2" fill="#f7941d"/>
<rect x="194.46" y="338.97" width="2.2" height="2.2" fill="#f7941d"/>
<rect x="170.71" y="334.34" width="2.2" height="2.2" fill="#f7941d"/>
<rect x="203.8" y="338.37" width="2.2" height="2.2" fill="#f7941d"/>
<rect x="218.84" y="337.51" width="2.2" height="2.2" fill="#f7941d"/>
<rect x="236.42" y="344.88" width="2.2" height="2.2" fill="#f7941d"/>
<rect x="145.15" y="334.76" width="2.2" height="2.2" fill="#f7941d"/>
<rect x="243.14" y="342.01" width="2.2" height="2.2" fill="#f7941d"/>
<rect x="147.59" y="333.47" width="2.2" height="2.2" fill="#f7941d"/>
<rect x="203.32" y="336.03" width="2.2" height="2.2" fill="#f7941d"/>
<rect x="270.15" y="347.66" width="2.2" height="2.2" fill="#f7941d"/>
<rect x="237.05" y="345.09" width="2.2" height="2.2" fill="#f7941d"/>
<rect x="223.84" y="340.36" width="2.2" height="2.2" fill="#f7941d"/>
<rect x="218.61" y="340.53" width="2.2" height="2.2" fill="#f7941d"/>
<rect x="285.87" y="348.74" width="2.2" height="2.2" fill="#f7941d"/>
<rect x="158.67" y="342.37" width="2.2" height="2.2" fill="#f7941d"/>
<rect x="244.04" y="345.28" width="2.2" height="2.2" fill="#f7941d"/>
<rect x="256.36" y="343.04" width="2.2" height="2.2" fill="#f7941d"/>
<rect x="270.74" y="348.44" width="2.2" height="2.2" fill="#f7941d"/>
<rect x="235.32" y="344.15" width="2.2" height="2.2" fill="#f7941d"/>
<rect x="247.69" y="342.4" width="2.2" height="2.2" fill="#f7941d"/>
<rect x="240.21" y="339.01" width="2.2" height="2.2" fill="#f7941d"/>
<rect x="173.33" y="334.65" width="2.2" height="2.2" fill="#f7941d"/>
<rect x="115.19" y="326.24" width="2.2" height="2.2" fill="#f7941d"/>
<rect x="225.47" y="342" width="2.2" height="2.2" fill="#f7941d"/>
<rect x="154.08" y="340.86" width="2.2" height="2.2" fill="#f7941d"/>
<rect x="230.28" y="340.42" width="2.2" height="2.2" fill="#f7941d"/>
<rect x="229.17" y="342" width="2.2" height="2.2" fill="#f7941d"/>
<rect x="206.93" y="338.52" width="2.2" height="2.2" fill="#f7941d"/>
<rect x="288.89" y="347.37" width="2.2" height="2.2" fill="#f7941d"/>
<rect x="236.45" y="344.24" width="2.2" height="2.2" fill="#f7941d"/>
<rect x="285.41" y="341.19" width="2.2" height="2.2" fill="#f7941d"/>
<rect x="221.38" y="342.3" width="2.2" height="2.2" fill="#f7941d"/>
<rect x="158.39" y="338.67" width="2.2" height="2.2" fill="#f7941d"/>
<rect x="122.19" y="327.28" width="2.2" height="2.2" fill="#f7941d"/>
<rect x="179.29" y="333.84" width="2.2" height="2.2" fill="#f7941d"/>
<rect x="157.38" y="341.84" width="2.2" height="2.2" fill="#f7941d"/>
<rect x="209.91" y="339.55" width="2.2" height="2.2" fill="#f7941d"/>
<rect x="283.14" y="346.28" width="2.2" height="2.2" fill="#f7941d"/>
<rect x="288.05" y="347.27" width="2.2" height="2.2" fill="#f7941d"/>
<rect x="255.47" y="339.9" width="2.2" height="2.2" fill="#f7941d"/>
<rect x="218.24" y="342.06" width="2.2" height="2.2" fill="#f7941d"/>
<rect x="121.25" y="330.82" width="2.2" height="2.2" fill="#f7941d"/>
<rect x="141.41" y="333.89" width="2.2" height="2.2" fill="#f7941d"/>
<rect x="143.02" y="334.47" width="2.2" height="2.2" fill="#f7941d"/>
<rect x="220.64" y="337.88" width="2.2" height="2.2" fill="#f7941d"/>
<rect x="279.3" y="344.63" width="2.2" height="2.2" fill="#f7941d"/>
<rect x="205.82" y="339.55" width="2.2" height="2.2" fill="#f7941d"/>
<rect x="177.52" y="334.5" width="2.2" height="2.2" fill="#f7941d"/>
<rect x="228.35" y="341.85" width="2.2" height="2.2" fill="#f7941d"/>
<rect x="163.11" y="340.8" width="2.2" height="2.2" fill="#f7941d"/>
<rect x="165.31" y="334.51" width="2.2" height="2.2" fill="#f7941d"/>
<rect x="156.35" y="335.43" width="2.2" height="2.2" fill="#f7941d"/>
<rect x="140.82" y="335.54" width="2.2" height="2.2" fill="#f7941d"/>
<rect x="181.8" y="337.91" width="2.2" height="2.2" fill="#f7941d"/>
<rect x="244.73" y="339.08" width="2.2" height="2.2" fill="#f7941d"/>
<rect x="286.94" y="350.15" width="2.2" height="2.2" fill="#f7941d"/>
<rect x="126.23" y="332.29" width="2.2" height="2.2" fill="#f7941d"/>
<rect x="188.74" y="336.77" width="2.2" height="2.2" fill="#f7941d"/>
<rect x="284.2" y="343.24" width="2.2" height="2.2" fill="#f7941d"/>
<rect x="205.22" y="341.36" width="2.2" height="2.2" fill="#f7941d"/>
<rect x="240.23" y="342.28" width="2.2" height="2.2" fill="#f7941d"/>
<rect x="285.19" y="348.81" width="2.2" height="2.2" fill="#f7941d"/>
<rect x="219.31" y="338.17" width="2.2" height="2.2" fill="#f7941d"/>
<rect x="222.93" y="340.62" width="2.2" height="2.2" fill="#f7941d"/>
<rect x="149.09" y="333.09" width="2.2" height="2.2" fill="#f7941d"/>
<rect x="206.05" y="336.93" width="2.2" height="2.2" fill="#f7941d"/>
<rect x="191.09" y="338.03" width="2.2" height="2.2" fill="#f7941d"/>
<rect x="193.31" y="336.23" width="2.2" height="2.2" fill="#f7941d"/>
<rect x="215.56" y="339.73" width="2.2" height="2.2" fill="#f7941d"/>
<rect x="249.92" y="343.73" width="2.2" height="2.2" fill="#f7941d"/>
<rect x="288.49" y="350.34" width="2.2" height="2.2" fill="#f7941d"/>
<rect x="242.25" y="340.53" width="2.2" height="2.2" fill="#f7941d"/>
<rect x="133.32" y="334.33" width="2.2" height="2.2" fill="#f7941d"/>
<rect x="251.04" y="344.71" width="2.2" height="2.2" fill="#f7941d"/>
<rect x="176.39" y="334.31" width="2.2" height="2.2" fill="#f7941d"/>
<rect x="233.61" y="342.41" width="2.2" height="2.2" fill="#f7941d"/>
<rect x="217.21" y="341.18" width="2.2" height="2.2" fill="#f7941d"/>
<rect x="245.6" y="340.34" width="2.2" height="2.2" fill="#f7941d"/>
<rect x="157.04" y="342.23" width="2.2" height="2.2" fill="#f7941d"/>
<rect x="274.11" y="348.66" width="2.2" height="2.2" fill="#f7941d"/>
<rect x="120.26" y="326.11" width="2.2" height="2.2" fill="#f7941d"/>
<rect x="160.9" y="339.22" width="2.2" height="2.2" fill="#f7941d"/>
<rect x="222.78" y="338.28" width="2.2" height="2.2" fill="#f7941d"/>
<rect x="208.43" y="336.9" width="2.2" height="2.2" fill="#f7941d"/>
<rect x="128.5" y="331.68" width="2.2" height="2.2" fill="#f7941d"/>
<rect x="210.01" y="340.27" width="2.2" height="2.2" fill="#f7941d"/>
<rect x="178.85" y="335.56" width="2.2" height="2.2" fill="#f7941d"/>
<rect x="150.31" y="335.36" width="2.2" height="2.2" fill="#f7941d"/>
<rect x="244.11" y="345.81" width="2.2" height="2.2" fill="#f7941d"/>
<rect x="126.38" y="327.92" width="2.2" height="2.2" fill="#f7941d"/>
<rect x="255.41" y="345.01" width="2.2" height="2.2" fill="#f7941d"/>
<rect x="248.31" y="340.72" width="2.2" height="2.2" fill="#f7941d"/>
<rect x="187.84" y="335.57" width="2.2" height="2.2" fill="#f7941d"/>
<rect x="255.53" y="342.64" width="2.2" height="2.2" fill="#f7941d"/>
<rect x="228.1" y="344.86" width="2.2" height="2.2" fill="#f7941d"/>
<rect x="170.46" y="334.94" width="2.2" height="2.2" fill="#f7941d"/>
<rect x="244.33" y="346.54" width="2.2" height="2.2" fill="#f7941d"/>
<rect x="188.42" y="336.19" width="2.2" height="2.2" fill="#f7941d"/>
<rect x="130.36" y="333.4" width="2.2" height="2.2" fill="#f7941d"/>
<rect x="127.11" y="327.89" width="2.2" height="2.2" fill="#f7941d"/>
<rect x="212.39" y="339.73" width="2.2" height="2.2" fill="#f7941d"/>
<rect x="233.66" y="340.39" width="2.2" height="2.2" fill="#f7941d"/>
<rect x="249.49" y="339.56" width="2.2" height="2.2" fill="#f7941d"/>
<rect x="150.77" y="337.68" width="2.2" height="2.2" fill="#f7941d"/>
<rect x="127.67" y="329.29" width="2.2" height="2.2" fill="#f7941d"/>
<rect x="240.62" y="344.18" width="2.2" height="2.2" fill="#f7941d"/>
<rect x="163" y="336.41" width="2.2" height="2.2" fill="#f7941d"/>
<rect x="176.15" y="336.34" width="2.2" height="2.2" fill="#f7941d"/>
<rect x="177.66" y="333.74" width="2.2" height="2.2" fill="#f7941d"/>
<rect x="237.86" y="342.87" width="2.2" height="2.2" fill="#f7941d"/>
<rect x="274.61" y="349.27" width="2.2" height="2.2" fill="#f7941d"/>
<rect x="273.7" y="344.44" width="2.2" height="2.2" fill="#f7941d"/>
<rect x="254.33" y="341.97" width="2.2" height="2.2" fill="#f7941d"/>
<rect x="169.1" y="335.31" width="2.2" height="2.2" fill="#f7941d"/>
<rect x="277.44" y="349.03" width="2.2" height="2.2" fill="#f7941d"/>
<rect x="156.93" y="337.86" width="2.2" height="2.2" fill="#f7941d"/>
<rect x="177.51" y="334.86" width="2.2" height="2.2" fill="#f7941d"/>
<rect x="182.79" y="335.61" width="2.2" height="2.2" fill="#f7941d"/>
<rect x="147.56" y="336.12" width="2.2" height="2.2" fill="#f7941d"/>
<rect x="253.28" y="344.1" width="2.2" height="2.2" fill="#f7941d"/>
<rect x="260.18" y="344.75" width="2.2" height="2.2" fill="#f7941d"/>
<rect x="144.33" y="336.53" width="2.2" height="2.2" fill="#f7941d"/>
<rect x="268" y="342.6" width="2.2" height="2.2" fill="#f7941d"/>
<rect x="117.23" y="327.55" width="2.2" height="2.2" fill="#f7941d"/>
<rect x="208.87" y="339.76" width="2.2" height="2.2" fill="#f7941d"/>
<rect x="283.01" y="347.07" width="2.2" height="2.2" fill="#f7941d"/>
<rect x="254.55" y="339.74" width="2.2" height="2.2" fill="#f7941d"/>
<rect x="209.34" y="341.08" width="2.2" height="2.2" fill="#f7941d"/>
<rect x="128.08" y="328.12" width="2.2" height="2.2" fill="#f7941d"/>
<rect x="242.74" y="346.15" width="2.2" height="2.2" fill="#f7941d"/>
<rect x="128.2" y="331.35" width="2.2" height="2.2" fill="#f7941d"/>
<rect x="138.59" y="334.88" width="2.2" height="2.2" fill="#f7941d"/>
<rect x="227.28" y="339.54" width="2.2" height="2.2" fill="#f7941d"/>
<rect x="152.03" y="338.85" width="2.2" height="2.2" fill="#f7941d"/>
<rect x="204.9" y="340.36" width="2.2" height="2.2" fill="#f7941d"/>
<rect x="182.57" y="335.34" width="2.2" height="2.2" fill="#f7941d"/>
<rect x="283.34" y="347.3" width="2.2" height="2.2" fill="#f7941d"/>
<rect x="200.01" y="338.48" width="2.2" height="2.2" fill="#f7941d"/>
<rect x="239.91" y="344.21" width="2.2" height="2.2" fill="#f7941d"/>
<rect x="273.98" y="344.2" width="2.2" height="2.2" fill="#f7941d"/>
<rect x="258.4" y="345.61" width="2.2" height="2.2" fill="#f7941d"/>
<rect x="263.19" y="347.23" width="2.2" height="2.2" fill="#f7941d"/>
<rect x="259.73" y="347.78" width="2.2" height="2.2" fill="#f7941d"/>
<rect x="281.5" y="346.87" width="2.2" height="2.2" fill="#f7941d"/>
<rect x="205.31" y="340.11" width="2.2" height="2.2" fill="#f7941d"/>
<rect x="254.19" y="343.05" width="2.2" height="2.2" fill="#f7941d"/>
<rect x="187.15" y="334.94" width="2.2" height="2.2" fill="#f7941d"/>
<rect x="243.47" y="347.03" width="2.2" height="2.2" fill="#f7941d"/>
<rect x="179.26" y="334.16" width="2.2" height="2.2" fill="#f7941d"/>
<rect x="149.21" y="335.63" width="2.2" height="2.2" fill="#f7941d"/>
<rect x="164.6" y="342.48" width="2.2" height="2.2" fill="#f7941d"/>
<rect x="123.72" y="328.28" width="2.2" height="2.2" fill="#f7941d"/>
<rect x="133.49" y="332.89" width="2.2" height="2.2" fill="#f7941d"/>
<rect x="249.57" y="340.5" width="2.2" height="2.2" fill="#f7941d"/>
<rect x="124.27" y="329.24" width="2.2" height="2.2" fill="#f7941d"/>
<rect x="215.88" y="342.67" width="2.2" height="2.2" fill="#f7941d"/>
<rect x="119.71" y="326.22" width="2.2" height="2.2" fill="#f7941d"/>
<rect x="145.73" y="333.35" width="2.2" height="2.2" fill="#f7941d"/>
<rect x="154.66" y="339.51" width="2.2" height="2.2" fill="#f7941d"/>
<rect x="217.76" y="338.74" width="2.2" height="2.2" fill="#f7941d"/>
<rect x="145.81" y="333.79" width="2.2" height="2.2" fill="#f7941d"/>
<rect x="143.62" y="336.33" width="2.2" height="2.2" fill="#f7941d"/>
<rect x="168.06" y="337.16" width="2.2" height="2.2" fill="#f7941d"/>
<rect x="256.8" y="343.76" width="2.2" height="2.2" fill="#f7941d"/>
<rect x="159.06" y="342.35" width="2.2" height="2.2" fill="#f7941d"/>
<rect x="273.85" y="343.54" width="2.2" height="2.2" fill="#f7941d"/>
<rect x="209.43" y="342.05" width="2.2" height="2.2" fill="#f7941d"/>
<rect x="198.07" y="336.56" width="2.2" height="2.2" fill="#f7941d"/>
<rect x="122.05" y="331.17" width="2.2" height="2.2" fill="#f7941d"/>
<rect x="254.04" y="342.7" width="2.2" height="2.2" fill="#f7941d"/>
<rect x="205.96" y="339.11" width="2.2" height="2.2" fill="#f7941d"/>
<rect x="161.53" y="343.21" width="2.2" height="2.2" fill="#f7941d"/>
<rect x="228.78" y="339.59" width="2.2" height="2.2" fill="#f7941d"/>
<rect x="115.24" y="326.79" width="2.2" height="2.2" fill="#f7941d"/>
<rect x="178.57" y="337" width="2.2" height="2.2" fill="#f7941d"/>
<rect x="238.57" y="343.24" width="2.2" height="2.2" fill="#f7941d"/>
<rect x="140.94" y="331.76" width="2.2" height="2.2" fill="#f7941d"/>
<rect x="169.83" y="334" width="2.2" height="2.2" fill="#f7941d"/>
<rect x="265.95" y="344.68" width="2.2" height="2.2" fill="#f7941d"/>
<rect x="225.17" y="344.47" width="2.2" height="2.2" fill="#f7941d"/>
<rect x="160.12" y="340.23" width="2.2" height="2.2" fill="#f7941d"/>
<rect x="139.78" y="335.36" width="2.2" height="2.2" fill="#f7941d"/>
<rect x="113.57" y="327.89" width="2.2" height="2.2" fill="#f7941d"/>
<rect x="261.9" y="347.3" width="2.2" height="2.2" fill="#f7941d"/>
<rect x="127.8" y="329.13" width="2.2" height="2.2" fill="#f7941d"/>
<rect x="239.14" y="339.17" width="2.2" height="2.2" fill="#f7941d"/>
<rect x="197.62" y="337.82" width="2.2" height="2.2" fill="#f7941d"/>
<rect x="281.09" y="346.33" width="2.2" height="2.2" fill="#f7941d"/>
<rect x="263.86" y="342.55" width="2.2" height="2.2" fill="#f7941d"/>
<rect x="251.92" y="342.86" width="2.2" height="2.2" fill="#f7941d"/>
<rect x="274.29" y="341.18" width="2.2" height="2.2" fill="#f7941d"/>
<rect x="258.42" y="341.32" width="2.2" height="2.2" fill="#f7941d"/>
<rect x="208.73" y="339.51" width="2.2" height="2.2" fill="#f7941d"/>
<rect x="140.99" y="336.08" width="2.2" height="2.2" fill="#f7941d"/>
<rect x="168" y="335.54" width="2.2" height="2.2" fill="#f7941d"/>
<rect x="126.68" y="329.04" width="2.2" height="2.2" fill="#f7941d"/>
<rect x="195.36" y="338.83" width="2.2" height="2.2" fill="#f7941d"/>
<rect x="176.49" y="336.22" width="2.2" height="2.2" fill="#f7941d"/>
<rect x="131.9" y="330.93" width="2.2" height="2.2" fill="#f7941d"/>
<rect x="194.4" y="340.01" width="2.2" height="2.2" fill="#f7941d"/>
<rect x="259.01" y="345.53" width="2.2" height="2.2" fill="#f7941d"/>
<rect x="115.5" y="326.42" width="2.2" height="2.2" fill="#f7941d"/>
<rect x="237.99" y="340.23" width="2.2" height="2.2" fill="#f7941d"/>
<rect x="212.38" y="339.57" width="2.2" height="2.2" fill="#f7941d"/>
<rect x="115.17" y="329.14" width="2.2" height="2.2" fill="#f7941d"/>
<rect x="253.7" y="341.01" width="2.2" height="2.2" fill="#f7941d"/>
<rect x="221.5" y="339.42" width="2.2" height="2.2" fill="#f7941d"/>
<rect x="179.34" y="335.9" width="2.2" height="2.2" fill="#f7941d"/>
<rect x="165.69" y="337.04" width="2.2" height="2.2" fill="#f7941d"/>
<rect x="182.19" y="336.87" width="2.2" height="2.2" fill="#f7941d"/>
<rect x="158.35" y="337.24" width="2.2" height="2.2" fill="#f7941d"/>
<rect x="241.76" y="341.26" width="2.2" height="2.2" fill="#f7941d"/>
<rect x="279.26" y="345.98" width="2.2" height="2.2" fill="#f7941d"/>
<rect x="240.41" y="341.17" width="2.2" height="2.2" fill="#f7941d"/>
<rect x="258.51" y="340.24" width="2.2" height="2.2" fill="#f7941d"/>
<rect x="138.05" y="330.65" width="2.2" height="2.2" fill="#f7941d"/>
<rect x="232.32" y="343.35" width="2.2" height="2.2" fill="#f7941d"/>
<rect x="144.91" y="334.36" width="2.2" height="2.2" fill="#f7941d"/>
<rect x="260.28" y="345.04" width="2.2" height="2.2" fill="#f7941d"/>
<rect x="129.15" y="329.23" width="2.2" height="2.2" fill="#f7941d"/>
<rect x="140.91" y="331.54" width="2.2" height="2.2" fill="#f7941d"/>
<rect x="184.76" y="334.31" width="2.2" height="2.2" fill="#f7941d"/>
<rect x="274.97" y="344.41" width="2.2" height="2.2" fill="#f7941d"/>
<rect x="203.15" y="339.48" width="2.2" height="2.2" fill="#f7941d"/>
<rect x="247.97" y="346.14" width="2.2" height="2.2" fill="#f7941d"/>
<rect x="181.09" y="335.14" width="2.2" height="2.2" fill="#f7941d"/>
<rect x="185.69" y="334.14" width="2.2" height="2.2" fill="#f7941d"/>
<rect x="183.68" y="337.22" width="2.2" height="2.2" fill="#f7941d"/>
<rect x="285.74" y="348.58" width="2.2" height="2.2" fill="#f7941d"/>
<rect x="229.25" y="342.29" width="2.2" height="2.2" fill="#f7941d"/>
<rect x="116.58" y="326.5" width="2.2" height="2.2" fill="#f7941d"/>
<rect x="173.42" y="335.46" width="2.2" height="2.2" fill="#f7941d"/>
<rect x="131.99" y="330.85" width="2.2" height="2.2" fill="#f7941d"/>
<rect x="202.76" y="340.2" width="2.2" height="2.2" fill="#f7941d"/>
<rect x="258.22" y="345.08" width="2.2" height="2.2" fill="#f7941d"/>
<rect x="141.13" y="335.7" width="2.2" height="2.2" fill="#f7941d"/>
<rect x="271.88" y="345.37" width="2.2" height="2.2" fill="#f7941d"/>
<rect x="175.23" y="335.14" width="2.2" height="2.2" fill="#f7941d"/>
<rect x="138.22" y="334.57" width="2.2" height="2.2" fill="#f7941d"/>
<rect x="286.59" y="346.01" width="2.2" height="2.2" fill="#f7941d"/>
<rect x="238.94" y="345.13" width="2.2" height="2.2" fill="#f7941d"/>
<rect x="147.95" y="338.77" width="2.2" height="2.2" fill="#f7941d"/>
<rect x="223.44" y="338.95" width="2.2" height="2.2" fill="#f7941d"/>
<rect x="127.94" y="329.02" width="2.2" height="2.2" fill="#f7941d"/>
<rect x="214.55" y="341.24" width="2.2" height="2.2" fill="#f7941d"/>
<rect x="171.13" y="336.19" width="2.2" height="2.2" fill="#f7941d"/>
<rect x="176.75" y="335.23" width="2.2" height="2.2" fill="#f7941d"/>
<rect x="135.1" y="335.32" width="2.2" height="2.2" fill="#f7941d"/>
<rect x="137.14" y="335.47" width="2.2" height="2.2" fill="#f7941d"/>
<rect x="208.74" y="339.71" width="2.2" height="2.2" fill="#f7941d"/>
<rect x="211.71" y="338.37" width="2.2" height="2.2" fill="#f7941d"/>
<rect x="272.99" y="349.66" width="2.2" height="2.2" fill="#f7941d"/>
<rect x="256.87" y="344.9" width="2.2" height="2.2" fill="#f7941d"/>
<rect x="134.86" y="334.34" width="2.2" height="2.2" fill="#f7941d"/>
<rect x="164" y="342.02" width="2.2" height="2.2" fill="#f7941d"/>
<rect x="155.62" y="338.86" width="2.2" height="2.2" fill="#f7941d"/>
<rect x="259.19" y="341.15" width="2.2" height="2.2" fill="#f7941d"/>
<rect x="209.52" y="337.04" width="2.2" height="2.2" fill="#f7941d"/>
<rect x="118.95" y="326.38" width="2.2" height="2.2" fill="#f7941d"/>
<rect x="286.63" y="350.08" width="2.2" height="2.2" fill="#f7941d"/>
<rect x="228.93" y="340.1" width="2.2" height="2.2" fill="#f7941d"/>
<rect x="231.18" y="343.44" width="2.2" height="2.2" fill="#f7941d"/>
<rect x="180.34" y="336.27" width="2.2" height="2.2" fill="#f7941d"/>
<rect x="254.46" y="339.29" width="2.2" height="2.2" fill="#f7941d"/>
<rect x="148.36" y="335.69" width="2.2" height="2.2" fill="#f7941d"/>
<rect x="138.43" y="332.58" width="2.2" height="2.2" fill="#f7941d"/>
<rect x="213.32" y="338.03" width="2.2" height="2.2" fill="#f7941d"/>
<rect x="204.59" y="337.54" width="2.2" height="2.2" fill="#f7941d"/>
<rect x="213.06" y="338.92" width="2.2" height="2.2" fill="#f7941d"/>
<rect x="226" y="338.02" width="2.2" height="2.2" fill="#f7941d"/>
<rect x="231.14" y="339.07" width="2.2" height="2.2" fill="#f7941d"/>
<rect x="281.77" y="346.5" width="2.2" height="2.2" fill="#f7941d"/>
<rect x="195.83" y="337.3" width="2.2" height="2.2" fill="#f7941d"/>
<rect x="222.86" y="342.15" width="2.2" height="2.2" fill="#f7941d"/>
<rect x="246.42" y="345.33" width="2.2" height="2.2" fill="#f7941d"/>
<rect x="198.62" y="340.75" width="2.2" height="2.2" fill="#f7941d"/>
<rect x="260.51" y="347.52" width="2.2" height="2.2" fill="#f7941d"/>
<rect x="185.14" y="336.12" width="2.2" height="2.2" fill="#f7941d"/>
<rect x="212.7" y="342.21" width="2.2" height="2.2" fill="#f7941d"/>
<rect x="205.68" y="339.12" width="2.2" height="2.2" fill="#f7941d"/>
<rect x="189.22" y="338.97" width="2.2" height="2.2" fill="#f7941d"/>
<rect x="169.63" y="333" width="2.2" height="2.2" fill="#f7941d"/>
<rect x="240.73" y="345.89" width="2.2" height="2.2" fill="#f7941d"/>
<rect x="241.85" y="343.51" width="2.2" height="2.2" fill="#f7941d"/>
<rect x="245.34" y="341.32" width="2.2" height="2.2" fill="#f7941d"/>
<rect x="217.52" y="337.79" width="2.2" height="2.2" fill="#f7941d"/>
<rect x="135.18" y="332.11" width="2.2" height="2.2" fill="#f7941d"/>
<rect x="201.58" y="337.91" width="2.2" height="2.2" fill="#f7941d"/>
<rect x="122.45" y="329.97" width="2.2" height="2.2" fill="#f7941d"/>
<rect x="205.72" y="337.53" width="2.2" height="2.2" fill="#f7941d"/>
<rect x="167.11" y="336.83" width="2.2" height="2.2" fill="#f7941d"/>
<rect x="154.74" y="335.05" width="2.2" height="2.2" fill="#f7941d"/>
<rect x="273.33" y="349.44" width="2.2" height="2.2" fill="#f7941d"/>
<rect x="230.21" y="344.26" width="2.2" height="2.2" fill="#f7941d"/>
<rect x="187.32" y="338.22" width="2.2" height="2.2" fill="#f7941d"/>
<rect x="152.27" y="338.81" width="2.2" height="2.2" fill="#f7941d"/>
<rect x="212.85" y="342.22" width="2.2" height="2.2" fill="#f7941d"/>
<rect x="130.63" y="332.98" width="2.2" height="2.2" fill="#f7941d"/>
<rect x="135.06" y="332.63" width="2.2" height="2.2" fill="#f7941d"/>
<rect x="280.3" y="340.67" width="2.2" height="2.2" fill="#f7941d"/>
<rect x="156.16" y="337.15" width="2.2" height="2.2" fill="#f7941d"/>
<rect x="170.35" y="332.72" width="2.2" height="2.2" fill="#f7941d"/>
<rect x="270.5" y="347.81" width="2.2" height="2.2" fill="#f7941d"/>
<rect x="183.08" y="335.49" width="2.2" height="2.2" fill="#f7941d"/>
<rect x="216.13" y="337.57" width="2.2" height="2.2" fill="#f7941d"/>
<rect x="118.79" y="329.87" width="2.2" height="2.2" fill="#f7941d"/>
<rect x="167.38" y="337.41" width="2.2" height="2.2" fill="#f7941d"/>
<rect x="277.31" y="349.81" width="2.2" height="2.2" fill="#f7941d"/>
<rect x="196.31" y="336.28" width="2.2" height="2.2" fill="#f7941d"/>
<rect x="165.18" y="341.98" width="2.2" height="2.2" fill="#f7941d"/>
<rect x="270.79" y="341.96" width="2.2" height="2.2" fill="#f7941d"/>
<rect x="260.45" y="342.81" width="2.2" height="2.2" fill="#f7941d"/>
<rect x="196.29" y="336.1" width="2.2" height="2.2" fill="#f7941d"/>
<rect x="267.79" y="349.33" width="2.2" height="2.2" fill="#f7941d"/>
<rect x="148.8" y="336.91" width="2.2" height="2.2" fill="#f7941d"/>
<rect x="146.95" y="338.06" width="2.2" height="2.2" fill="#f7941d"/>
<rect x="122.11" y="326.79" width="2.2" height="2.2" fill="#f7941d"/>
<rect x="240.76" y="341.04" width="2.2" height="2.2" fill="#f7941d"/>
<rect x="271.4" y="348.39" width="2.2" height="2.2" fill="#f7941d"/>
<rect x="238.54" y="339.44" width="2.2" height="2.2" fill="#f7941d"/>
<rect x="235.52" y="345.5" width="2.2" height="2.2" fill="#f7941d"/>
<rect x="191.49" y="335.08" width="2.2" height="2.2" fill="#f7941d"/>
<rect x="152.52" y="335.9" width="2.2" height="2.2" fill="#f7941d"/>
<rect x="238.08" y="339.9" width="2.2" height="2.2" fill="#f7941d"/>
<rect x="145.11" y="333.32" width="2.2" height="2.2" fill="#f7941d"/>
<rect x="230.02" y="343.68" width="2.2" height="2.2" fill="#f7941d"/>
<rect x="178.73" y="336.4" width="2.2" height="2.2" fill="#f7941d"/>
<rect x="268.62" y="345.55" width="2.2" height="2.2" fill="#f7941d"/>
<rect x="153.53" y="336.22" width="2.2" height="2.2" fill="#f7941d"/>
<rect x="276.05" y="346.77" width="2.2" height="2.2" fill="#f7941d"/>
<rect x="161.93" y="340.51" width="2.2" height="2.2" fill="#f7941d"/>
<rect x="129.13" y="333.67" width="2.2" height="2.2" fill="#f7941d"/>
<rect x="190.64" y="337.26" width="2.2" height="2.2" fill="#f7941d"/>
<rect x="206.53" y="336.54" width="2.2" height="2.2" fill="#f7941d"/>
<rect x="218.62" y="339.17" width="2.2" height="2.2" fill="#f7941d"/>
<rect x="157.38" y="341.12" width="2.2" height="2.2" fill="#f7941d"/>
<rect x="128.63" y="329.44" width="2.2" height="2.2" fill="#f7941d"/>
<rect x="246.01" y="340.86" width="2.2" height="2.2" fill="#f7941d"/>
<rect x="162.33" y="339.72" width="2.2" height="2.2" fill="#f7941d"/>
<rect x="146.05" y="337.91" width="2.2" height="2.2" fill="#f7941d"/>
<rect x="286.76" y="341.37" width="2.2" height="2.2" fill="#f7941d"/>
<rect x="194.38" y="338.88" width="2.2" height="2.2" fill="#f7941d"/>
<rect x="180.88" y="337.94" width="2.2" height="2.2" fill="#f7941d"/>
<rect x="201.1" y="336.68" width="2.2" height="2.2" fill="#f7941d"/>
<rect x="210.95" y="340.47" width="2.2" height="2.2" fill="#f7941d"/>
<rect x="176.47" y="336.09" width="2.2" height="2.2" fill="#f7941d"/>
<rect x="250.81" y="343.69" width="2.2" height="2.2" fill="#f7941d"/>
<rect x="202.11" y="340.42" width="2.2" height="2.2" fill="#f7941d"/>
<rect x="233.47" y="342.06" width="2.2" height="2.2" fill="#f7941d"/>
<rect x="280.4" y="342.34" width="2.2" height="2.2" fill="#f7941d"/>
<rect x="250.22" y="340.41" width="2.2" height="2.2" fill="#f7941d"/>
<rect x="220.09" y="338.97" width="2.2" height="2.2" fill="#f7941d"/>
<rect x="190.66" y="338.5" width="2.2" height="2.2" fill="#f7941d"/>
<rect x="251.43" y="346.29" width="2.2" height="2.2" fill="#f7941d"/>
<rect x="154.75" y="337.96" width="2.2" height="2.2" fill="#f7941d"/>
<rect x="152.17" y="337.64" width="2.2" height="2.2" fill="#f7941d"/>
<rect x="200.94" y="335.88" width="2.2" height="2.2" fill="#f7941d"/>
<rect x="218.12" y="341.78" width="2.2" height="2.2" fill="#f7941d"/>
<rect x="213.87" y="342.18" width="2.2" height="2.2" fill="#f7941d"/>
<rect x="144.94" y="332.72" width="2.2" height="2.2" fill="#f7941d"/>
<rect x="116.45" y="327.24" width="2.2" height="2.2" fill="#f7941d"/>
<rect x="189.64" y="336.7" width="2.2" height="2.2" fill="#f7941d"/>
<rect x="159.5" y="341.89" width="2.2" height="2.2" fill="#f7941d"/>
<rect x="126.06" y="332.25" width="2.2" height="2.2" fill="#f7941d"/>
<rect x="213.22" y="340.17" width="2.2" height="2.2" fill="#f7941d"/>
<rect x="252.32" y="341.22" width="2.2" height="2.2" fill="#f7941d"/>
<rect x="139" y="332.25" width="2.2" height="2.2" fill="#f7941d"/>
<rect x="120.76" y="327.52" width="2.2" height="2.2" fill="#f7941d"/>
<rect x="222.4" y="341.03" width="2.2" height="2.2" fill="#f7941d"/>
<rect x="159.81" y="340.52" width="2.2" height="2.2" fill="#f7941d"/>
<rect x="128.86" y="332.63" width="2.2" height="2.2" fill="#f7941d"/>
<rect x="143.46" y="333.02" width="2.2" height="2.2" fill="#f7941d"/>
<rect x="141.39" y="335.29" width="2.2" height="2.2" fill="#f7941d"/>
<rect x="259.22" y="346.79" width="2.2" height="2.2" fill="#f7941d"/>
<rect x="124.06" y="328.92" width="2.2" height="2.2" fill="#f7941d"/>
<rect x="177.31" y="334.16" width="2.2" height="2.2" fill="#f7941d"/>
<rect x="283.74" y="341.27" width="2.2" height="2.2" fill="#f7941d"/>
<rect x="199.28" y="339.59" width="2.2" height="2.2" fill="#f7941d"/>
<rect x="286.48" y="342.42" width="2.2" height="2.2" fill="#f7941d"/>
<rect x="193.27" y="338.71" width="2.2" height="2.2" fill="#f7941d"/>
<rect x="120.21" y="327.01" width="2.2" height="2.2" fill="#f7941d"/>
<rect x="269.61" y="341.37" width="2.2" height="2.2" fill="#f7941d"/>
<rect x="182.32" y="335.12" width="2.2" height="2.2" fill="#f7941d"/>
<rect x="187.85" y="334.67" width="2.2" height="2.2" fill="#f7941d"/>
<rect x="119.34" y="330.53" width="2.2" height="2.2" fill="#f7941d"/>
<rect x="247.35" y="345.29" width="2.2" height="2.2" fill="#f7941d"/>
<rect x="153.69" y="335.95" width="2.2" height="2.2" fill="#f7941d"/>
<rect x="210.23" y="338.07" width="2.2" height="2.2" fill="#f7941d"/>
<rect x="194.37" y="339.82" width="2.2" height="2.2" fill="#f7941d"/>
<rect x="177.24" y="334.71" width="2.2" height="2.2" fill="#f7941d"/>
<rect x="285.62" y="346.86" width="2.2" height="2.2" fill="#f7941d"/>
<rect x="120.29" y="327.85" width="2.2" height="2.2" fill="#f7941d"/>
<rect x="227.42" y="338.24" width="2.2" height="2.2" fill="#f7941d"/>
<rect x="173.59" y="335.69" width="2.2" height="2.2" fill="#f7941d"/>
<rect x="265.1" y="345.33" width="2.2" height="2.2" fill="#f7941d"/>
<rect x="268.96" y="344.37" width="2.2" height="2.2" fill="#f7941d"/>
<rect x="182.32" y="337.73" width="2.2" height="2.2" fill="#f7941d"/>
<rect x="180.25" y="337.15" width="2.2" height="2.2" fill="#f7941d"/>
<rect x="151.15" y="335.68" width="2.2" height="2.2" fill="#f7941d"/>
<rect x="145.57" y="335.5" width="2.2" height="2.2" fill="#f7941d"/>
<rect x="142.1" y="332.35" width="2.2" height="2.2" fill="#f7941d"/>
<rect x="150.98" y="336.44" width="2.2" height="2.2" fill="#f7941d"/>
<rect x="167.5" y="336.92" width="2.2" height="2.2" fill="#f7941d"/>
<rect x="287.74" y="347.65" width="2.2" height="2.2" fill="#f7941d"/>
<rect x="264.81" y="341.68" width="2.2" height="2.2" fill="#f7941d"/>
<rect x="180.57" y="333.86" width="2.2" height="2.2" fill="#f7941d"/>
<rect x="234.72" y="340.96" width="2.2" height="2.2" fill="#f7941d"/>
<rect x="161.53" y="336.02" width="2.2" height="2.2" fill="#f7941d"/>
<rect x="145.29" y="333.54" width="2.2" height="2.2" fill="#f7941d"/>
<rect x="182.32" y="338.11" width="2.2" height="2.2" fill="#f7941d"/>
<rect x="238.9" y="340.54" width="2.2" height="2.2" fill="#f7941d"/>
<rect x="176.73" y="333.81" width="2.2" height="2.2" fill="#f7941d"/>
<rect x="277.78" y="343.95" width="2.2" height="2.2" fill="#f7941d"/>
<rect x="247.77" y="345.24" width="2.2" height="2.2" fill="#f7941d"/>
<rect x="272.59" y="340.4" width="2.2" height="2.2" fill="#f7941d"/>
<rect x="169.88" y="334.62" width="2.2" height="2.2" fill="#f7941d"/>
<rect x="127.93" y="332.7" width="2.2" height="2.2" fill="#f7941d"/>
<rect x="170.44" y="336" width="2.2" height="2.2" fill="#f7941d"/>
<rect x="204.51" y="336.38" width="2.2" height="2.2" fill="#f7941d"/>
<rect x="182.5" y="334.86" width="2.2" height="2.2" fill="#f7941d"/>
<rect x="120.49" y="326.62" width="2.2" height="2.2" fill="#f7941d"/>
<rect x="217.87" y="337.57" width="2.2" height="2.2" fill="#f7941d"/>
<rect x="168.16" y="336.21" width="2.2" height="2.2" fill="#f7941d"/>
<rect x="208.84" y="337.31" width="2.2" height="2.2" fill="#f7941d"/>
<rect x="237.39" y="340.37" width="2.2" height="2.2" fill="#f7941d"/>
<rect x="240.71" y="343.96" width="2.2" height="2.2" fill="#f7941d"/>
<rect x="139.17" y="331.62" width="2.2" height="2.2" fill="#f7941d"/>
<rect x="162.55" y="340.91" width="2.2" height="2.2" fill="#f7941d"/>
<rect x="184.49" y="335.81" width="2.2" height="2.2" fill="#f7941d"/>
<rect x="265.38" y="341.91" width="2.2" height="2.2" fill="#f7941d"/>
<rect x="164.61" y="337.45" width="2.2" height="2.2" fill="#f7941d"/>
<rect x="151.21" y="333.62" width="2.2" height="2.2" fill="#f7941d"/>
<rect x="117.63" y="328.21" width="2.2" height="2.2" fill="#f7941d"/>
<rect x="212.7" y="341.65" width="2.2" height="2.2" fill="#f7941d"/>
<rect x="284.63" y="343.79" width="2.2" height="2.2" fill="#f7941d"/>
<rect x="231.05" y="344.76" width="2.2" height="2.2" fill="#f7941d"/>
<rect x="151.29" y="338.06" width="2.2" height="2.2" fill="#f7941d"/>
<rect x="230.37" y="344.93" width="2.2" height="2.2" fill="#f7941d"/>
<rect x="265.8" y="342.02" width="2.2" height="2.2" fill="#f7941d"/>
<rect x="224.39" y="338.29" width="2.2" height="2.2" fill="#f7941d"/>
<rect x="188.42" y="336.31" width="2.2" height="2.2" fill="#f7941d"/>
<rect x="123.88" y="328.72" width="2.2" height="2.2" fill="#f7941d"/>
<rect x="170.95" y="334.32" width="2.2" height="2.2" fill="#f7941d"/>
<rect x="162.46" y="336.72" width="2.2" height="2.2" fill="#f7941d"/>
<rect x="183.99" y="336.17" width="2.2" height="2.2" fill="#f7941d"/>
<rect x="142.6" y="335.45" width="2.2" height="2.2" fill="#f7941d"/>
<rect x="155.43" y="335.46" width="2.2" height="2.2" fill="#f7941d"/>
<rect x="173.35" y="334.45" width="2.2" height="2.2" fill="#f7941d"/>
<rect x="139.8" y="334.18" width="2.2" height="2.2" fill="#f7941d"/>
<rect x="236.48" y="342.6" width="2.2" height="2.2" fill="#f7941d"/>
<rect x="236.27" y="338.43" width="2.2" height="2.2" fill="#f7941d"/>
<rect x="182.04" y="335.41" width="2.2" height="2.2" fill="#f7941d"/>
<rect x="124.38" y="328.97" width="2.2" height="2.2" fill="#f7941d"/>
<rect x="122.92" y="329.05" width="2.2" height="2.2" fill="#f7941d"/>
<rect x="216.2" y="340.09" width="2.2" height="2.2" fill="#f7941d"/>
<rect x="170.48" y="333.54" width="2.2" height="2.2" fill="#f7941d"/>
<rect x="117.46" y="326.81" width="2.2" height="2.2" fill="#f7941d"/>
<rect x="269.9" y="345.41" width="2.2" height="2.2" fill="#f7941d"/>
<rect x="159.31" y="340.89" width="2.2" height="2.2" fill="#f7941d"/>
<rect x="145.99" y="335.08" width="2.2" height="2.2" fill="#f7941d"/>
<rect x="221.36" y="343.69" width="2.2" height="2.2" fill="#f7941d"/>
<rect x="177" y="335.78" width="2.2" height="2.2" fill="#f7941d"/>
<rect x="278.79" y="347.95" width="2.2" height="2.2" fill="#f7941d"/>
<rect x="223.48" y="341.76" width="2.2" height="2.2" fill="#f7941d"/>
<rect x="185.48" y="336.07" width="2.2" height="2.2" fill="#f7941d"/>
<rect x="161.82" y="341.96" width="2.2" height="2.2" fill="#f7941d"/>
<rect x="267.79" y="343.53" width="2.2" height="2.2" fill="#f7941d"/>
<rect x="273.04" y="340.6" width="2.2" height="2.2" fill="#f7941d"/>
<rect x="137.18" y="333" width="2.2" height="2.2" fill="#f7941d"/>
<rect x="167.51" y="336.25" width="2.2" height="2.2" fill="#f7941d"/>
<rect x="284.87" y="342.38" width="2.2" height="2.2" fill="#f7941d"/>
<rect x="147.12" y="333.78" width="2.2" height="2.2" fill="#f7941d"/>
<rect x="232.75" y="339.84" width="2.2" height="2.2" fill="#f7941d"/>
<rect x="113.49" y="326.66" width="2.2" height="2.2" fill="#f7941d"/>
<rect x="182.49" y="334.86" width="2.2" height="2.2" fill="#f7941d"/>
<rect x="200" y="339.09" width="2.2" height="2.2" fill="#f7941d"/>
<rect x="209.57" y="340.18" width="2.2" height="2.2" fill="#f7941d"/>
<rect x="211.79" y="341.66" width="2.2" height="2.2" fill="#f7941d"/>
<rect x="283.44" y="344.05" width="2.2" height="2.2" fill="#f7941d"/>
<rect x="174.2" y="336.66" width="2.2" height="2.2" fill="#f7941d"/>
<rect x="168.35" y="338.02" width="2.2" height="2.2" fill="#f7941d"/>
<rect x="235.42" y="343.53" width="2.2" height="2.2" fill="#f7941d"/>
<rect x="282.57" y="348.7" width="2.2" height="2.2" fill="#f7941d"/>
<rect x="141.33" y="334.83" width="2.2" height="2.2" fill="#f7941d"/>
<rect x="199.48" y="338.56" width="2.2" height="2.2" fill="#f7941d"/>
<rect x="178.21" y="334.58" width="2.2" height="2.2" fill="#f7941d"/>
<rect x="244.83" y="343.26" width="2.2" height="2.2" fill="#f7941d"/>
<rect x="154.95" y="336.37" width="2.2" height="2.2" fill="#f7941d"/>
<rect x="170.39" y="333.25" width="2.2" height="2.2" fill="#f7941d"/>
<rect x="203.53" y="336.66" width="2.2" height="2.2" fill="#f7941d"/>
<rect x="124.43" y="327.16" width="2.2" height="2.2" fill="#f7941d"/>
<rect x="131.28" y="332.63" width="2.2" height="2.2" fill="#f7941d"/>
<rect x="133.13" y="331.6" width="2.2" height="2.2" fill="#f7941d"/>
<rect x="248.9" y="343.18" width="2.2" height="2.2" fill="#f7941d"/>
<rect x="141.87" y="336.55" width="2.2" height="2.2" fill="#f7941d"/>
<rect x="266.05" y="340.33" width="2.2" height="2.2" fill="#f7941d"/>
<rect x="157.91" y="339.24" width="2.2" height="2.2" fill="#f7941d"/>
<rect x="253.17" y="342.71" width="2.2" height="2.2" fill="#f7941d"/>
<rect x="239.04" y="340.42" width="2.2" height="2.2" fill="#f7941d"/>
<rect x="239" y="341.02" width="2.2" height="2.2" fill="#f7941d"/>
<rect x="171.94" y="335.64" width="2.2" height="2.2" fill="#f7941d"/>
<rect x="261.29" y="347.32" width="2.2" height="2.2" fill="#f7941d"/>
<rect x="212.96" y="339.42" width="2.2" height="2.2" fill="#f7941d"/>
<rect x="237.45" y="343.25" width="2.2" height="2.2" fill="#f7941d"/>
<rect x="259.24" y="346.93" width="2.2" height="2.2" fill="#f7941d"/>
<rect x="135.31" y="331.71" width="2.2" height="2.2" fill="#f7941d"/>
<rect x="230.85" y="339.68" width="2.2" height="2.2" fill="#f7941d"/>
<rect x="145.75" y="332.02" width="2.2" height="2.2" fill="#f7941d"/>
<rect x="216.14" y="342.89" width="2.2" height="2.2" fill="#f7941d"/>
<rect x="283.72" y="342.15" width="2.2" height="2.2" fill="#f7941d"/>
<rect x="234.06" y="341.34" width="2.2" height="2.2" fill="#f7941d"/>
<rect x="224.2" y="340.34" width="2.2" height="2.2" fill="#f7941d"/>
<rect x="277.21" y="349.91" width="2.2" height="2.2" fill="#f7941d"/>
<rect x="121.88" y="329.9" width="2.2" height="2.2" fill="#f7941d"/>
<rect x="134.11" y="329.36" width="2.2" height="2.2" fill="#f7941d"/>
<rect x="163.55" y="340.81" width="2.2" height="2.2" fill="#f7941d"/>
<rect x="287.79" y="342.27" width="2.2" height="2.2" fill="#f7941d"/>
<rect x="171.28" y="332.38" width="2.2" height="2.2" fill="#f7941d"/>
<rect x="208.59" y="339.25" width="2.2" height="2.2" fill="#f7941d"/>
<rect x="178.89" y="334.77" width="2.2" height="2.2" fill="#f7941d"/>
<rect x="253.88" y="346.92" width="2.2" height="2.2" fill="#f7941d"/>
<rect x="163.15" y="338.28" width="2.2" height="2.2" fill="#f7941d"/>
<rect x="221.8" y="342.52" width="2.2" height="2.2" fill="#f7941d"/>
<rect x="285.57" y="344.72" width="2.2" height="2.2" fill="#f7941d"/>
<rect x="235.19" y="342.42" width="2.2" height="2.2" fill="#f7941d"/>
<rect x="253.82" y="340.46" width="2.2" height="2.2" fill="#f7941d"/>
<rect x="144.07" y="332.22" width="2.2" height="2.2" fill="#f7941d"/>
<rect x="277.24" y="342.88" width="2.2" height="2.2" fill="#f7941d"/>
<rect x="199.06" y="336.13" width="2.2" height="2.2" fill="#f7941d"/>
<rect x="170.16" y="332.6" width="2.2" height="2.2" fill="#f7941d"/>
<rect x="212.69" y="337.78" width="2.2" height="2.2" fill="#f7941d"/>
<rect x="223.12" y="339.44" width="2.2" height="2.2" fill="#f7941d"/>
<rect x="153.28" y="337.38" width="2.2" height="2.2" fill="#f7941d"/>
<rect x="177.56" y="334.39" width="2.2" height="2.2" fill="#f7941d"/>
<rect x="122.32" y="326.63" width="2.2" height="2.2" fill="#f7941d"/>
<rect x="270.06" y="342.99" width="2.2" height="2.2" fill="#f7941d"/>
<rect x="127.1" y="328.45" width="2.2" height="2.2" fill="#f7941d"/>
<rect x="198.21" y="340.7" width="2.2" height="2.2" fill="#f7941d"/>
<rect x="148.83" y="338.49" width="2.2" height="2.2" fill="#f7941d"/>
<rect x="198.35" y="337.62" width="2.2" height="2.2" fill="#f7941d"/>
<rect x="255.02" y="342.86" width="2.2" height="2.2" fill="#f7941d"/>
<rect x="123.45" y="329.5" width="2.2" height="2.2" fill="#f7941d"/>
<rect x="228.66" y="342.33" width="2.2" height="2.2" fill="#f7941d"/>
<rect x="161.98" y="342.74" width="2.2" height="2.2" fill="#f7941d"/>
<rect x="265.14" y="349.14" width="2.2" height="2.2" fill="#f7941d"/>
<rect x="191.15" y="338.88" width="2.2" height="2.2" fill="#f7941d"/>
<rect x="240.62" y="339.9" width="2.2" height="2.2" fill="#f7941d"/>
<rect x="118.03" y="326.1" width="2.2" height="2.2" fill="#f7941d"/>
<rect x="134.18" y="329.57" width="2.2" height="2.2" fill="#f7941d"/>
<rect x="176.35" y="336.51" width="2.2" height="2.2" fill="#f7941d"/>
<rect x="167.76" y="337.19" width="2.2" height="2.2" fill="#f7941d"/>
<rect x="115.17" y="325.57" width="2.2" height="2.2" fill="#f7941d"/>
<rect x="281.76" y="340.86" width="2.2" height="2.2" fill="#f7941d"/>
<rect x="205.9" y="340.74" width="2.2" height="2.2" fill="#f7941d"/>
<rect x="252.44" y="345.86" width="2.2" height="2.2" fill="#f7941d"/>
<rect x="183.43" y="337.68" width="2.2" height="2.2" fill="#f7941d"/>
<rect x="258.65" y="346.57" width="2.2" height="2.2" fill="#f7941d"/>
<rect x="286.44" y="342" width="2.2" height="2.2" fill="#f7941d"/>
<rect x="280.2" y="344.51" width="2.2" height="2.2" fill="#f7941d"/>
<rect x="237.16" y="340.27" width="2.2" height="2.2" fill="#f7941d"/>
<rect x="273.04" y="340.46" width="2.2" height="2.2" fill="#f7941d"/>
<rect x="214.6" y="338.49" width="2.2" height="2.2" fill="#f7941d"/>
<rect x="181.52" y="335.37" width="2.2" height="2.2" fill="#f7941d"/>
<rect x="228.68" y="343.67" width="2.2" height="2.2" fill="#f7941d"/>
<rect x="177.36" y="336.11" width="2.2" height="2.2" fill="#f7941d"/>
<rect x="175.49" y="334.19" width="2.2" height="2.2" fill="#f7941d"/>
<rect x="272.25" y="343.24" width="2.2" height="2.2" fill="#f7941d"/>
<rect x="129.86" y="330.05" width="2.2" height="2.2" fill="#f7941d"/>
<rect x="243.54" y="340.39" width="2.2" height="2.2" fill="#f7941d"/>
<rect x="243.82" y="343.27" width="2.2" height="2.2" fill="#f7941d"/>
<rect x="232.76" y="339.41" width="2.2" height="2.2" fill="#f7941d"/>
<rect x="131.91" y="329.42" width="2.2" height="2.2" fill="#f7941d"/>
<rect x="174.84" y="334.76" width="2.2" height="2.2" fill="#f7941d"/>
<rect x="114.98" y="326.86" width="2.2" height="2.2" fill="#f7941d"/>
<rect x="184.15" y="335.45" width="2.2" height="2.2" fill="#f7941d"/>
<rect x="207.64" y="341.78" width="2.2" height="2.2" fill="#f7941d"/>
<rect x="149.27" y="338.7" width="2.2" height="2.2" fill="#f7941d"/>
<rect x="169.67" y="336.78" width="2.2" height="2.2" fill="#f7941d"/>
<rect x="132.35" y="334.63" width="2.2" height="2.2" fill="#f7941d"/>
<rect x="188.85" y="339.21" width="2.2" height="2.2" fill="#f7941d"/>
<rect x="151.89" y="336.36" width="2.2" height="2.2" fill="#f7941d"/>
<rect x="237.3" y="339.7" width="2.2" height="2.2" fill="#f7941d"/>
<rect x="161.33" y="340.95" width="2.2" height="2.2" fill="#f7941d"/>
<rect x="279.72" y="343.71" width="2.2" height="2.2" fill="#f7941d"/>
<rect x="145.54" y="334.22" width="2.2" height="2.2" fill="#f7941d"/>
<rect x="287.06" y="342.49" width="2.2" height="2.2" fill="#f7941d"/>
<rect x="224.77" y="340.26" width="2.2" height="2.2" fill="#f7941d"/>
<rect x="226.38" y="339.25" width="2.2" height="2.2" fill="#f7941d"/>
<rect x="221.53" y="343.28" width="2.2" height="2.2" fill="#f7941d"/>
<rect x="263.69" y="345.6" width="2.2" height="2.2" fill="#f7941d"/>
<rect x="201.97" y="338.89" width="2.2" height="2.2" fill="#f7941d"/>
<rect x="133.37" y="334.01" width="2.2" height="2.2" fill="#f7941d"/>
<rect x="234.45" y="341.64" width="2.2" height="2.2" fill="#f7941d"/>
<rect x="230.17" y="341.01" width="2.2" height="2.2" fill="#f7941d"/>
<rect x="180.86" y="334.63" width="2.2" height="2.2" fill="#f7941d"/>
<rect x="218.79" y="340.97" width="2.2" height="2.2" fill="#f7941d"/>
<rect x="203.79" y="336.17" width="2.2" height="2.2" fill="#f7941d"/>
<rect x="223.48" y="340.61" width="2.2" height="2.2" fill="#f7941d"/>
<rect x="217.51" y="340.98" width="2.2" height="2.2" fill="#f7941d"/>
<rect x="276.9" y="341.91" width="2.2" height="2.2" fill="#f7941d"/>
<rect x="195.62" y="340.31" width="2.2" height="2.2" fill="#f7941d"/>
<rect x="242.91" y="341.21" width="2.2" height="2.2" fill="#f7941d"/>
<rect x="242.69" y="346.9" width="2.2" height="2.2" fill="#f7941d"/>
<rect x="183.93" y="338.06" width="2.2" height="2.2" fill="#f7941d"/>
<rect x="135.57" y="335.56" width="2.2" height="2.2" fill="#f7941d"/>
<rect x="199.55" y="336.8" width="2.2" height="2.2" fill="#f7941d"/>
<rect x="260.85" y="345.61" width="2.2" height="2.2" fill="#f7941d"/>
<rect x="277.97" y="348.44" width="2.2" height="2.2" fill="#f7941d"/>
<rect x="253.38" y="343.84" width="2.2" height="2.2" fill="#f7941d"/>
<rect x="287.8" y="341.74" width="2.2" height="2.2" fill="#f7941d"/>
<rect x="266.1" y="346.54" width="2.2" height="2.2" fill="#f7941d"/>
<rect x="157.35" y="341.14" width="2.2" height="2.2" fill="#f7941d"/>
<rect x="193.05" y="337.6" width="2.2" height="2.2" fill="#f7941d"/>
<rect x="265.3" y="341.62" width="2.2" height="2.2" fill="#f7941d"/>
<rect x="162.42" y="340.42" width="2.2" height="2.2" fill="#f7941d"/>
<rect x="126.24" y="330.33" width="2.2" height="2.2" fill="#f7941d"/>
<rect x="251.53" y="343.52" width="2.2" height="2.2" fill="#f7941d"/>
<rect x="155.78" y="340.5" width="2.2" height="2.2" fill="#f7941d"/>
<rect x="263.46" y="346.92" width="2.2" height="2.2" fill="#f7941d"/>
<rect x="209.77" y="341.81" width="2.2" height="2.2" fill="#f7941d"/>
<rect x="253.22" y="340.47" width="2.2" height="2.2" fill="#f7941d"/>
<rect x="177.56" y="333.65" width="2.2" height="2.2" fill="#f7941d"/>
<rect x="119.79" y="327.42" width="2.2" height="2.2" fill="#f7941d"/>
<rect x="265.18" y="347.63" width="2.2" height="2.2" fill="#f7941d"/>
<rect x="133.94" y="330.16" width="2.2" height="2.2" fill="#f7941d"/>
<rect x="181.56" y="337.65" width="2.2" height="2.2" fill="#f7941d"/>
<rect x="221.67" y="343.39" width="2.2" height="2.2" fill="#f7941d"/>
<rect x="125.95" y="332.66" width="2.2" height="2.2" fill="#f7941d"/>
<rect x="149.63" y="337.11" width="2.2" height="2.2" fill="#f7941d"/>
<rect x="267.24" y="346.77" width="2.2" height="2.2" fill="#f7941d"/>
<rect x="147.93" y="336.92" width="2.2" height="2.2" fill="#f7941d"/>
<rect x="188.96" y="334.49" width="2.2" height="2.2" fill="#f7941d"/>
<rect x="172.95" y="333.91" width="2.2" height="2.2" fill="#f7941d"/>
<rect x="223.89" y="339.52" width="2.2" height="2.2" fill="#f7941d"/>
<rect x="219.22" y="341.78" width="2.2" height="2.2" fill="#f7941d"/>
<rect x="145.05" y="332.6" width="2.2" height="2.2" fill="#f7941d"/>
<rect x="235.14" y="341.8" width="2.2" height="2.2" fill="#f7941d"/>
<rect x="136" y="330.27" width="2.2" height="2.2" fill="#f7941d"/>
<rect x="278.56" y="346.39" width="2.2" height="2.2" fill="#f7941d"/>
<rect x="176.1" y="333.92" width="2.2" height="2.2" fill="#f7941d"/>
<rect x="288" y="347.79" width="2.2" height="2.2" fill="#f7941d"/>
<rect x="242.6" y="341.58" width="2.2" height="2.2" fill="#f7941d"/>
<rect x="167.8" y="336.38" width="2.2" height="2.2" fill="#f7941d"/>
<rect x="139.01" y="334.27" width="2.2" height="2.2" fill="#f7941d"/>
<rect x="187.9" y="338.37" width="2.2" height="2.2" fill="#f7941d"/>
<rect x="185.14" y="336.23" width="2.2" height="2.2" fill="#f7941d"/>
<rect x="202.26" y="340.97" width="2.2" height="2.2" fill="#f7941d"/>
<rect x="174.14" y="335.84" width="2.2" height="2.2" fill="#f7941d"/>
<rect x="154.6" y="338.53" width="2.2" height="2.2" fill="#f7941d"/>
<rect x="163.35" y="341.96" width="2.2" height="2.2" fill="#f7941d"/>
<rect x="163.63" y="341.76" width="2.2" height="2.2" fill="#f7941d"/>
<rect x="232.14" y="341.44" width="2.2" height="2.2" fill="#f7941d"/>
<rect x="277.27" y="344.18" width="2.2" height="2.2" fill="#f7941d"/>
<rect x="243.84" y="343.74" width="2.2" height="2.2" fill="#f7941d"/>
<rect x="192.06" y="335.07" width="2.2" height="2.2" fill="#f7941d"/>
<rect x="186.91" y="335.58" width="2.2" height="2.2" fill="#f7941d"/>
<rect x="190.74" y="339.43" width="2.2" height="2.2" fill="#f7941d"/>
<rect x="164.76" y="340.23" width="2.2" height="2.2" fill="#f7941d"/>
<rect x="231.33" y="339.82" width="2.2" height="2.2" fill="#f7941d"/>
<rect x="185.58" y="334.69" width="2.2" height="2.2" fill="#f7941d"/>
<rect x="270.54" y="342.47" width="2.2" height="2.2" fill="#f7941d"/>
<rect x="187.18" y="335.91" width="2.2" height="2.2" fill="#f7941d"/>
<rect x="257.4" y="347.26" width="2.2" height="2.2" fill="#f7941d"/>
<rect x="217.05" y="340.63" width="2.2" height="2.2" fill="#f7941d"/>
<rect x="130.78" y="333.64" width="2.2" height="2.2" fill="#f7941d"/>
<rect x="128.85" y="329.95" width="2.2" height="2.2" fill="#f7941d"/>
<rect x="179.08" y="336.73" width="2.2" height="2.2" fill="#f7941d"/>
<rect x="230.82" y="340.51" width="2.2" height="2.2" fill="#f7941d"/>
<rect x="270.98" y="349.12" width="2.2" height="2.2" fill="#f7941d"/>
<rect x="117.41" y="328.16" width="2.2" height="2.2" fill="#f7941d"/>
<rect x="195.71" y="337.02" width="2.2" height="2.2" fill="#f7941d"/>
<rect x="194.94" y="336.69" width="2.2" height="2.2" fill="#f7941d"/>
<rect x="231.12" y="342.46" width="2.2" height="2.2" fill="#f7941d"/>
<rect x="283.71" y="350.24" width="2.2" height="2.2" fill="#f7941d"/>
<rect x="287.61" y="344.91" width="2.2" height="2.2" fill="#f7941d"/>
<rect x="258.83" y="345.48" width="2.2" height="2.2" fill="#f7941d"/>
<rect x="236.42" y="346.09" width="2.2" height="2.2" fill="#f7941d"/>
<rect x="125.01" y="329.46" width="2.2" height="2.2" fill="#f7941d"/>
<rect x="183.79" y="337.02" width="2.2" height="2.2" fill="#f7941d"/>
<rect x="151.62" y="340.23" width="2.2" height="2.2" fill="#f7941d"/>
<rect x="150.1" y="335.49" width="2.2" height="2.2" fill="#f7941d"/>
<rect x="138.43" y="332.63" width="2.2" height="2.2" fill="#f7941d"/>
<rect x="243.58" y="339.3" width="2.2" height="2.2" fill="#f7941d"/>
<rect x="142.62" y="335.36" width="2.2" height="2.2" fill="#f7941d"/>
<rect x="222.71" y="342.48" width="2.2" height="2.2" fill="#f7941d"/>
<rect x="157.82" y="341.35" width="2.2" height="2.2" fill="#f7941d"/>
<rect x="241.66" y="344.98" width="2.2" height="2.2" fill="#f7941d"/>
<rect x="134.34" y="332.02" width="2.2" height="2.2" fill="#f7941d"/>
<rect x="116.1" y="328.83" width="2.2" height="2.2" fill="#f7941d"/>
<rect x="279.17" y="349.16" width="2.2" height="2.2" fill="#f7941d"/>
<rect x="117.57" y="326.86" width="2.2" height="2.2" fill="#f7941d"/>
<rect x="207.42" y="339.39" width="2.2" height="2.2" fill="#f7941d"/>
<rect x="132.86" y="333.57" width="2.2" height="2.2" fill="#f7941d"/>
<rect x="166.28" y="338.28" width="2.2" height="2.2" fill="#f7941d"/>
<rect x="135.2" y="332.86" width="2.2" height="2.2" fill="#f7941d"/>
<rect x="136.1" y="330.13" width="2.2" height="2.2" fill="#f7941d"/>
<rect x="203.26" y="337.55" width="2.2" height="2.2" fill="#f7941d"/>
<rect x="249.84" y="341.13" width="2.2" height="2.2" fill="#f7941d"/>
<rect x="186" y="334.36" width="2.2" height="2.2" fill="#f7941d"/>
<rect x="151.54" y="336.53" width="2.2" height="2.2" fill="#f7941d"/>
<rect x="211.32" y="339.45" width="2.2" height="2.2" fill="#f7941d"/>
<rect x="262.7" y="340.6" width="2.2" height="2.2" fill="#f7941d"/>
<rect x="262.59" y="341.07" width="2.2" height="2.2" fill="#f7941d"/>
<rect x="283.7" y="345.91" width="2.2" height="2.2" fill="#f7941d"/>
<rect x="184.69" y="336.93" width="2.2" height="2.2" fill="#f7941d"/>
<rect x="265" y="348.84" width="2.2" height="2.2" fill="#f7941d"/>
<rect x="185.91" y="334.14" width="2.2" height="2.2" fill="#f7941d"/>
<rect x="140.32" y="335.81" width="2.2" height="2.2" fill="#f7941d"/>
<rect x="242.28" y="344.52" width="2.2" height="2.2" fill="#f7941d"/>
<rect x="140.82" y="334.12" width="2.2" height="2.2" fill="#f7941d"/>
<rect x="118.34" y="325.89" width="2.2" height="2.2" fill="#f7941d"/>
<rect x="166.13" y="342.16" width="2.2" height="2.2" fill="#f7941d"/>
<rect x="226.24" y="343.62" width="2.2" height="2.2" fill="#f7941d"/>
<rect x="121.42" y="328.22" width="2.2" height="2.2" fill="#f7941d"/>
<rect x="127.08" y="328.89" width="2.2" height="2.2" fill="#f7941d"/>
<rect x="132.95" y="334.38" width="2.2" height="2.2" fill="#f7941d"/>
<rect x="171.06" y="334.31" width="2.2" height="2.2" fill="#f7941d"/>
<rect x="228.16" y="344.14" width="2.2" height="2.2" fill="#f7941d"/>
<rect x="279.51" y="346.05" width="2.2" height="2.2" fill="#f7941d"/>
<rect x="201.28" y="340.63" width="2.2" height="2.2" fill="#f7941d"/>
<rect x="182.58" y="335.16" width="2.2" height="2.2" fill="#f7941d"/>
<rect x="243.14" y="340.76" width="2.2" height="2.2" fill="#f7941d"/>
<rect x="177.92" y="335.21" width="2.2" height="2.2" fill="#f7941d"/>
<rect x="197.06" y="337.17" width="2.2" height="2.2" fill="#f7941d"/>
<rect x="188.91" y="336.66" width="2.2" height="2.2" fill="#f7941d"/>
<rect x="122.03" y="330.58" width="2.2" height="2.2" fill="#f7941d"/>
<rect x="124.17" y="329.58" width="2.2" height="2.2" fill="#f7941d"/>
<rect x="209.47" y="338.88" width="2.2" height="2.2" fill="#f7941d"/>
<rect x="152.42" y="334.44" width="2.2" height="2.2" fill="#f7941d"/>
<rect x="178.63" y="334.77" width="2.2" height="2.2" fill="#f7941d"/>
<rect x="198.31" y="336.64" width="2.2" height="2.2" fill="#f7941d"/>
<rect x="244.92" y="342.87" width="2.2" height="2.2" fill="#f7941d"/>
<rect x="114.9" y="326.4" width="2.2" height="2.2" fill="#f7941d"/>
<rect x="282.99" y="340.89" width="2.2" height="2.2" fill="#f7941d"/>
<rect x="217.51" y="343.2" width="2.2" height="2.2" fill="#f7941d"/>
<rect x="177.53" y="335.95" width="2.2" height="2.2" fill="#f7941d"/>
<rect x="178.1" y="334.64" width="2.2" height="2.2" fill="#f7941d"/>
<rect x="220.29" y="341.23" width="2.2" height="2.2" fill="#f7941d"/>
<rect x="168.66" y="336.28" width="2.2" height="2.2" fill="#f7941d"/>
<rect x="203.96" y="340.17" width="2.2" height="2.2" fill="#f7941d"/>
<rect x="122.64" y="326.85" width="2.2" height="2.2" fill="#f7941d"/>
<rect x="157.57" y="337.45" width="2.2" height="2.2" fill="#f7941d"/>
<rect x="253.03" y="343.01" width="2.2" height="2.2" fill="#f7941d"/>
<rect x="264.34" y="343.51" width="2.2" height="2.2" fill="#f7941d"/>
<rect x="163.5" y="340.42" width="2.2" height="2.2" fill="#f7941d"/>
<rect x="128.33" y="333.42" width="2.2" height="2.2" fill="#f7941d"/>
<rect x="259.33" y="342.5" width="2.2" height="2.2" fill="#f7941d"/>
<rect x="169.05" y="337.88" width="2.2" height="2.2" fill="#f7941d"/>
<rect x="251.74" y="344.94" width="2.2" height="2.2" fill="#f7941d"/>
<rect x="123.29" y="330.59" width="2.2" height="2.2" fill="#f7941d"/>
<rect x="121.75" y="329.4" width="2.2" height="2.2" fill="#f7941d"/>
<rect x="210.26" y="342" width="2.2" height="2.2" fill="#f7941d"/>
<rect x="225.47" y="337.89" width="2.2" height="2.2" fill="#f7941d"/>
<rect x="277.38" y="347.67" width="2.2" height="2.2" fill="#f7941d"/>
<rect x="215.13" y="337.24" width="2.2" height="2.2" fill="#f7941d"/>
<rect x="242.72" y="342.08" width="2.2" height="2.2" fill="#f7941d"/>
<rect x="232.66" y="345.45" width="2.2" height="2.2" fill="#f7941d"/>
<rect x="274.29" y="341.02" width="2.2" height="2.2" fill="#f7941d"/>
<rect x="250.53" y="342.96" width="2.2" height="2.2" fill="#f7941d"/>
<rect x="245.29" y="341.95" width="2.2" height="2.2" fill="#f7941d"/>
<rect x="191.93" y="336.96" width="2.2" height="2.2" fill="#f7941d"/>
<rect x="134.04" y="331.03" width="2.2" height="2.2" fill="#f7941d"/>
<rect x="242.33" y="339.13" width="2.2" height="2.2" fill="#f7941d"/>
<rect x="133.67" y="334.07" width="2.2" height="2.2" fill="#f7941d"/>
<rect x="230.31" y="341.96" width="2.2" height="2.2" fill="#f7941d"/>
<rect x="133.21" y="329.6" width="2.2" height="2.2" fill="#f7941d"/>
<rect x="167.77" y="340.39" width="2.2" height="2.2" fill="#f7941d"/>
<rect x="211.69" y="342.17" width="2.2" height="2.2" fill="#f7941d"/>
<rect x="150.4" y="335.87" width="2.2" height="2.2" fill="#f7941d"/>
<rect x="207.5" y="341.12" width="2.2" height="2.2" fill="#f7941d"/>
<rect x="134.99" y="334.68" width="2.2" height="2.2" fill="#f7941d"/>
<rect x="196.27" y="335.36" width="2.2" height="2.2" fill="#f7941d"/>
<rect x="189.17" y="336.32" width="2.2" height="2.2" fill="#f7941d"/>
<rect x="231.73" y="344.91" width="2.2" height="2.2" fill="#f7941d"/>
<rect x="200" y="339.3" width="2.2" height="2.2" fill="#f7941d"/>
<rect x="181.45" y="337.3" width="2.2" height="2.2" fill="#f7941d"/>
<rect x="131.8" y="333" width="2.2" height="2.2" fill="#f7941d"/>
<rect x="142.56" y="334.93" width="2.2" height="2.2" fill="#f7941d"/>
<rect x="148.82" y="335" width="2.2" height="2.2" fill="#f7941d"/>
<rect x="142.1" y="333.29" width="2.2" height="2.2" fill="#f7941d"/>
<rect x="217.17" y="340.49" width="2.2" height="2.2" fill="#f7941d"/>
<rect x="181.55" y="336.34" width="2.2" height="2.2" fill="#f7941d"/>
<rect x="261.22" y="342.9" width="2.2" height="2.2" fill="#f7941d"/>
<rect x="215.84" y="340.13" width="2.2" height="2.2" fill="#f7941d"/>
<rect x="285.5" y="344.13" width="2.2" height="2.2" fill="#f7941d"/>
<rect x="235.78" y="340.04" width="2.2" height="2.2" fill="#f7941d"/>
<rect x="159.2" y="341.29" width="2.2" height="2.2" fill="#f7941d"/>
<rect x="214.28" y="338.62" width="2.2" height="2.2" fill="#f7941d"/>
<rect x="124.6" y="331.33" width="2.2" height="2.2" fill="#f7941d"/>
<rect x="179.62" y="336.77" width="2.2" height="2.2" fill="#f7941d"/>
<rect x="189.31" y="337.54" width="2.2" height="2.2" fill="#f7941d"/>
<rect x="211.57" y="342.46" width="2.2" height="2.2" fill="#f7941d"/>
<rect x="273.04" y="344.57" width="2.2" height="2.2" fill="#f7941d"/>
<rect x="198.8" y="336.7" width="2.2" height="2.2" fill="#f7941d"/>
<rect x="245.56" y="339.57" width="2.2" height="2.2" fill="#f7941d"/>
<rect x="167.15" y="340.37" width="2.2" height="2.2" fill="#f7941d"/>
<rect x="119.48" y="329.1" width="2.2" height="2.2" fill="#f7941d"/>
<rect x="213.07" y="340.2" width="2.2" height="2.2" fill="#f7941d"/>
<rect x="171.8" y="333" width="2.2" height="2.2" fill="#f7941d"/>
<rect x="280.28" y="347.98" width="2.2" height="2.2" fill="#f7941d"/>
<rect x="254.8" y="340.06" width="2.2" height="2.2" fill="#f7941d"/>
<rect x="251" y="340.95" width="2.2" height="2.2" fill="#f7941d"/>
<rect x="148.31" y="336.13" width="2.2" height="2.2" fill="#f7941d"/>
<rect x="220.4" y="338.27" width="2.2" height="2.2" fill="#f7941d"/>
<rect x="247.63" y="343.97" width="2.2" height="2.2" fill="#f7941d"/>
<rect x="271.24" y="348.89" width="2.2" height="2.2" fill="#f7941d"/>
<rect x="234.35" y="340.94" width="2.2" height="2.2" fill="#f7941d"/>
<rect x="280.31" y="347.54" width="2.2" height="2.2" fill="#f7941d"/>
<rect x="164.4" y="341.62" width="2.2" height="2.2" fill="#f7941d"/>
<rect x="240.95" y="340.66" width="2.2" height="2.2" fill="#f7941d"/>
<rect x="157.08" y="335.53" width="2.2" height="2.2" fill="#f7941d"/>
<rect x="207.65" y="337.84" width="2.2" height="2.2" fill="#f7941d"/>
<rect x="164.78" y="336.65" width="2.2" height="2.2" fill="#f7941d"/>
<rect x="136.43" y="332.67" width="2.2" height="2.2" fill="#f7941d"/>
<rect x="161.19" y="338.1" width="2.2" height="2.2" fill="#f7941d"/>
<rect x="162.07" y="339.5" width="2.2" height="2.2" fill="#f7941d"/>
<rect x="266.75" y="341.37" width="2.2" height="2.2" fill="#f7941d"/>
<rect x="264.26" y="347.77" width="2.2" height="2.2" fill="#f7941d"/>
<rect x="220.33" y="340.94" width="2.2" height="2.2" fill="#f7941d"/>
<rect x="242.19" y="343.01" width="2.2" height="2.2" fill="#f7941d"/>
<rect x="229.2" y="344.51" width="2.2" height="2.2" fill="#f7941d"/>
<rect x="249.44" y="341.22" width="2.2" height="2.2" fill="#f7941d"/>
<rect x="122.87" y="331.38" width="2.2" height="2.2" fill="#f7941d"/>
<rect x="177.01" y="336.75" width="2.2" height="2.2" fill="#f7941d"/>
<rect x="154.31" y="337.55" width="2.2" height="2.2" fill="#f7941d"/>
<rect x="178.38" y="336.66" width="2.2" height="2.2" fill="#f7941d"/>
<rect x="279.01" y="345.42" width="2.2" height="2.2" fill="#f7941d"/>
<rect x="212.71" y="338.98" width="2.2" height="2.2" fill="#f7941d"/>
<rect x="154.09" y="340.9" width="2.2" height="2.2" fill="#f7941d"/>
<rect x="132.69" y="334.44" width="2.2" height="2.2" fill="#f7941d"/>
<rect x="228.71" y="338.4" width="2.2" height="2.2" fill="#f7941d"/>
<rect x="271.65" y="341.12" width="2.2" height="2.2" fill="#f7941d"/>
<rect x="212.61" y="337.63" width="2.2" height="2.2" fill="#f7941d"/>
<rect x="286.95" y="344.04" width="2.2" height="2.2" fill="#f7941d"/>
<rect x="266.46" y="340.42" width="2.2" height="2.2" fill="#f7941d"/>
<rect x="230.33" y="338.46" width="2.2" height="2.2" fill="#f7941d"/>
<rect x="118.54" y="328.19" width="2.2" height="2.2" fill="#f7941d"/>
<rect x="285.89" y="347.59" width="2.2" height="2.2" fill="#f7941d"/>
<rect x="263.51" y="347.06" width="2.2" height="2.2" fill="#f7941d"/>
<rect x="204.84" y="336.53" width="2.2" height="2.2" fill="#f7941d"/>
<rect x="205.86" y="337.25" width="2.2" height="2.2" fill="#f7941d"/>
<rect x="205.81" y="338.19" width="2.2" height="2.2" fill="#f7941d"/>
<rect x="200.94" y="336.76" width="2.2" height="2.2" fill="#f7941d"/>
<rect x="237.12" y="341.59" width="2.2" height="2.2" fill="#f7941d"/>
<rect x="198.64" y="335.86" width="2.2" height="2.2" fill="#f7941d"/>
<rect x="198.83" y="338.44" width="2.2" height="2.2" fill="#f7941d"/>
<rect x="284.09" y="346.28" width="2.2" height="2.2" fill="#f7941d"/>
<rect x="137.01" y="331.67" width="2.2" height="2.2" fill="#f7941d"/>
<rect x="172.26" y="335.45" width="2.2" height="2.2" fill="#f7941d"/>
<rect x="278.18" y="349.86" width="2.2" height="2.2" fill="#f7941d"/>
<rect x="280.12" y="349.51" width="2.2" height="2.2" fill="#f7941d"/>
<rect x="264.09" y="348.51" width="2.2" height="2.2" fill="#f7941d"/>
<rect x="116.87" y="327.32" width="2.2" height="2.2" fill="#f7941d"/>
<rect x="217.03" y="341.48" width="2.2" height="2.2" fill="#f7941d"/>
<rect x="220.91" y="341.45" width="2.2" height="2.2" fill="#f7941d"/>
<rect x="277.19" y="341.31" width="2.2" height="2.2" fill="#f7941d"/>
<rect x="204.5" y="341.38" width="2.2" height="2.2" fill="#f7941d"/>
<rect x="118.92" y="326.04" width="2.2" height="2.2" fill="#f7941d"/>
<rect x="265.92" y="348.84" width="2.2" height="2.2" fill="#f7941d"/>
<rect x="117.55" y="325.32" width="2.2" height="2.2" fill="#f7941d"/>
<rect x="259.02" y="345.86" width="2.2" height="2.2" fill="#f7941d"/>
<rect x="204.59" y="339.29" width="2.2" height="2.2" fill="#f7941d"/>
<rect x="246.31" y="345.81" width="2.2" height="2.2" fill="#f7941d"/>
<rect x="113.45" y="324.58" width="2.2" height="2.2" fill="#f7941d"/>
<rect x="252.77" y="348.12" width="2.2" height="2.2" fill="#f7941d"/>
<rect x="259.65" y="343.26" width="2.2" height="2.2" fill="#f7941d"/>
<rect x="172.24" y="333.92" width="2.2" height="2.2" fill="#f7941d"/>
<rect x="115.95" y="328.37" width="2.2" height="2.2" fill="#f7941d"/>
<rect x="159.38" y="340.33" width="2.2" height="2.2" fill="#f7941d"/>
<rect x="205.7" y="338.07" width="2.2" height="2.2" fill="#f7941d"/>
<rect x="231.83" y="341.41" width="2.2" height="2.2" fill="#f7941d"/>
<rect x="154.48" y="340.58" width="2.2" height="2.2" fill="#f7941d"/>
<rect x="144.18" y="332.52" width="2.2" height="2.2" fill="#f7941d"/>
<rect x="157.82" y="339.01" width="2.2" height="2.2" fill="#f7941d"/>
<rect x="250.92" y="342" width="2.2" height="2.2" fill="#f7941d"/>
<rect x="155.16" y="339.26" width="2.2" height="2.2" fill="#f7941d"/>
<rect x="159.02" y="339.76" width="2.2" height="2.2" fill="#f7941d"/>
<rect x="158.09" y="341.91" width="2.2" height="2.2" fill="#f7941d"/>
<rect x="145.73" y="333.45" width="2.2" height="2.2" fill="#f7941d"/>
<rect x="166.26" y="336.79" width="2.2" height="2.2" fill="#f7941d"/>
<rect x="240.88" y="344.04" width="2.2" height="2.2" fill="#f7941d"/>
<rect x="252.09" y="344.02" width="2.2" height="2.2" fill="#f7941d"/>
<rect x="127.12" y="331.77" width="2.2" height="2.2" fill="#f7941d"/>
<rect x="156.25" y="336.62" width="2.2" height="2.2" fill="#f7941d"/>
<rect x="186.08" y="338.96" width="2.2" height="2.2" fill="#f7941d"/>
<rect x="178.42" y="334.94" width="2.2" height="2.2" fill="#f7941d"/>
<rect x="273.28" y="349.66" width="2.2" height="2.2" fill="#f7941d"/>
<rect x="181.31" y="334.23" width="2.2" height="2.2" fill="#f7941d"/>
<rect x="251.97" y="346.27" width="2.2" height="2.2" fill="#f7941d"/>
<rect x="172.7" y="335.93" width="2.2" height="2.2" fill="#f7941d"/>
<rect x="179.96" y="334.79" width="2.2" height="2.2" fill="#f7941d"/>
<rect x="217.5" y="341.87" width="2.2" height="2.2" fill="#f7941d"/>
<rect x="196.88" y="339.57" width="2.2" height="2.2" fill="#f7941d"/>
<rect x="115.76" y="327.05" width="2.2" height="2.2" fill="#f7941d"/>
<rect x="180.12" y="333.77" width="2.2" height="2.2" fill="#f7941d"/>
<rect x="273.9" y="341.65" width="2.2" height="2.2" fill="#f7941d"/>
<rect x="149.42" y="338.73" width="2.2" height="2.2" fill="#f7941d"/>
<rect x="281.97" y="349.69" width="2.2" height="2.2" fill="#f7941d"/>
<rect x="173.36" y="336.68" width="2.2" height="2.2" fill="#f7941d"/>
<rect x="138.22" y="334.58" width="2.2" height="2.2" fill="#f7941d"/>
<rect x="279.36" y="342.45" width="2.2" height="2.2" fill="#f7941d"/>
<rect x="137.15" y="334.06" width="2.2" height="2.2" fill="#f7941d"/>
<rect x="268.28" y="346.82" width="2.2" height="2.2" fill="#f7941d"/>
<rect x="280" y="344.99" width="2.2" height="2.2" fill="#f7941d"/>
<rect x="178.7" y="333.87" width="2.2" height="2.2" fill="#f7941d"/>
<rect x="161.26" y="342.88" width="2.2" height="2.2" fill="#f7941d"/>
<rect x="125.91" y="328.16" width="2.2" height="2.2" fill="#f7941d"/>
<rect x="174.35" y="332.97" width="2.2" height="2.2" fill="#f7941d"/>
<rect x="167.22" y="335.08" width="2.2" height="2.2" fill="#f7941d"/>
<rect x="134.89" y="332.52" width="2.2" height="2.2" fill="#f7941d"/>
<rect x="208.2" y="339.68" width="2.2" height="2.2" fill="#f7941d"/>
<rect x="247.17" y="343.43" width="2.2" height="2.2" fill="#f7941d"/>
<rect x="279.63" y="341.41" width="2.2" height="2.2" fill="#f7941d"/>
<rect x="152.47" y="334.31" width="2.2" height="2.2" fill="#f7941d"/>
<rect x="167.65" y="339.11" width="2.2" height="2.2" fill="#f7941d"/>
<rect x="275.6" y="345.19" width="2.2" height="2.2" fill="#f7941d"/>
<rect x="141.48" y="333.01" width="2.2" height="2.2" fill="#f7941d"/>
<rect x="213.13" y="338.71" width="2.2" height="2.2" fill="#f7941d"/>
<rect x="252.53" y="348.08" width="2.2" height="2.2" fill="#f7941d"/>
<rect x="194.05" y="338.08" width="2.2" height="2.2" fill="#f7941d"/>
<rect x="261.87" y="343.94" width="2.2" height="2.2" fill="#f7941d"/>
<rect x="146.83" y="338.44" width="2.2" height="2.2" fill="#f7941d"/>
<rect x="285.03" y="341.18" width="2.2" height="2.2" fill="#f7941d"/>
<rect x="247.24" y="342.32" width="2.2" height="2.2" fill="#f7941d"/>
<rect x="122.44" y="327.17" width="2.2" height="2.2" fill="#f7941d"/>
<rect x="143.71" y="336.22" width="2.2" height="2.2" fill="#f7941d"/>
<rect x="150.48" y="333.22" width="2.2" height="2.2" fill="#f7941d"/>
<rect x="151.91" y="339.04" width="2.2" height="2.2" fill="#f7941d"/>
<rect x="200.97" y="339.23" width="2.2" height="2.2" fill="#f7941d"/>
<rect x="194.99" y="336.01" width="2.2" height="2.2" fill="#f7941d"/>
<rect x="115.99" y="326.21" width="2.2" height="2.2" fill="#f7941d"/>
<rect x="120.62" y="327.21" width="2.2" height="2.2" fill="#f7941d"/>
<rect x="221.97" y="339.97" width="2.2" height="2.2" fill="#f7941d"/>
<rect x="196.37" y="338.48" width="2.2" height="2.2" fill="#f7941d"/>
<rect x="169" y="335.12" width="2.2" height="2.2" fill="#f7941d"/>
<rect x="268.52" y="345.46" width="2.2" height="2.2" fill="#f7941d"/>
<rect x="186.54" y="336.81" width="2.2" height="2.2" fill="#f7941d"/>
<rect x="194.15" y="336.69" width="2.2" height="2.2" fill="#f7941d"/>
<rect x="273.76" y="342.5" width="2.2" height="2.2" fill="#f7941d"/>
<rect x="277.65" y="348.65" width="2.2" height="2.2" fill="#f7941d"/>
<rect x="268.19" y="341.49" width="2.2" height="2.2" fill="#f7941d"/>
<rect x="202.67" y="341.26" width="2.2" height="2.2" fill="#f7941d"/>
<rect x="164.01" y="336.26" width="2.2" height="2.2" fill="#f7941d"/>
<rect x="240.34" y="340.37" width="2.2" height="2.2" fill="#f7941d"/>
<rect x="215.8" y="338.21" width="2.2" height="2.2" fill="#f7941d"/>
<rect x="279.69" y="343.35" width="2.2" height="2.2" fill="#f7941d"/>
<rect x="130.35" y="332.27" width="2.2" height="2.2" fill="#f7941d"/>
<rect x="174.27" y="335.22" width="2.2" height="2.2" fill="#f7941d"/>
<rect x="200.63" y="340.64" width="2.2" height="2.2" fill="#f7941d"/>
<rect x="203.61" y="338.06" width="2.2" height="2.2" fill="#f7941d"/>
<rect x="113.62" y="326.48" width="2.2" height="2.2" fill="#f7941d"/>
<rect x="160.57" y="340.39" width="2.2" height="2.2" fill="#f7941d"/>
<rect x="224.28" y="340.78" width="2.2" height="2.2" fill="#f7941d"/>
<rect x="129.12" y="330.81" width="2.2" height="2.2" fill="#f7941d"/>
<rect x="197.92" y="338.77" width="2.2" height="2.2" fill="#f7941d"/>
<rect x="283.66" y="343.55" width="2.2" height="2.2" fill="#f7941d"/>
<rect x="191.06" y="335.06" width="2.2" height="2.2" fill="#f7941d"/>
<rect x="253.78" y="341.28" width="2.2" height="2.2" fill="#f7941d"/>
<rect x="258.9" y="346.87" width="2.2" height="2.2" fill="#f7941d"/>
<rect x="158.04" y="342.07" width="2.2" height="2.2" fill="#f7941d"/>
<rect x="201.81" y="338.1" width="2.2" height="2.2" fill="#f7941d"/>
<rect x="210.81" y="342.18" width="2.2" height="2.2" fill="#f7941d"/>
<rect x="199.34" y="338.1" width="2.2" height="2.2" fill="#f7941d"/>
<rect x="164.35" y="341.5" width="2.2" height="2.2" fill="#f7941d"/>
<rect x="201.65" y="337.63" width="2.2" height="2.2" fill="#f7941d"/>
<rect x="147.83" y="333.87" width="2.2" height="2.2" fill="#f7941d"/>
<rect x="259.79" y="346.98" width="2.2" height="2.2" fill="#f7941d"/>
<rect x="285.17" y="349.77" width="2.2" height="2.2" fill="#f7941d"/>
<rect x="233.62" y="344.17" width="2.2" height="2.2" fill="#f7941d"/>
<rect x="238.28" y="344.84" width="2.2" height="2.2" fill="#f7941d"/>
<rect x="254.02" y="340.75" width="2.2" height="2.2" fill="#f7941d"/>
<rect x="256.38" y="342.08" width="2.2" height="2.2" fill="#f7941d"/>
<rect x="156.18" y="341.48" width="2.2" height="2.2" fill="#f7941d"/>
<rect x="117.34" y="327.56" width="2.2" height="2.2" fill="#f7941d"/>
<rect x="173.58" y="336.11" width="2.2" height="2.2" fill="#f7941d"/>
<rect x="220.52" y="343.3" width="2.2" height="2.2" fill="#f7941d"/>
<rect x="277.06" y="346.62" width="2.2" height="2.2" fill="#f7941d"/>
<rect x="124.65" y="330.48" width="2.2" height="2.2" fill="#f7941d"/>
<rect x="132.53" y="334.65" width="2.2" height="2.2" fill="#f7941d"/>
<rect x="266.32" y="342.77" width="2.2" height="2.2" fill="#f7941d"/>
<rect x="145.97" y="336.56" width="2.2" height="2.2" fill="#f7941d"/>
<rect x="246.44" y="347.39" width="2.2" height="2.2" fill="#f7941d"/>
<rect x="222.69" y="338.43" width="2.2" height="2.2" fill="#f7941d"/>
<rect x="240.92" y="338.95" width="2.2" height="2.2" fill="#f7941d"/>
<rect x="265.68" y="347.05" width="2.2" height="2.2" fill="#f7941d"/>
<rect x="251.22" y="347.03" width="2.2" height="2.2" fill="#f7941d"/>
<rect x="213.26" y="342.51" width="2.2" height="2.2" fill="#f7941d"/>
<rect x="225.55" y="341.1" width="2.2" height="2.2" fill="#f7941d"/>
<rect x="180.83" y="335.21" width="2.2" height="2.2" fill="#f7941d"/>
<rect x="117.35" y="325.89" width="2.2" height="2.2" fill="#f7941d"/>
<rect x="253.03" y="341.18" width="2.2" height="2.2" fill="#f7941d"/>
<rect x="228.09" y="343.34" width="2.2" height="2.2" fill="#f7941d"/>
<rect x="235.26" y="342.19" width="2.2" height="2.2" fill="#f7941d"/>
<rect x="168.81" y="334.74" width="2.2" height="2.2" fill="#f7941d"/>
<rect x="146.22" y="336.32" width="2.2" height="2.2" fill="#f7941d"/>
<rect x="233.83" y="345.3" width="2.2" height="2.2" fill="#f7941d"/>
<rect x="171.37" y="336.23" width="2.2" height="2.2" fill="#f7941d"/>
<rect x="273.37" y="343.02" width="2.2" height="2.2" fill="#f7941d"/>
<rect x="280.49" y="346.6" width="2.2" height="2.2" fill="#f7941d"/>
<rect x="282.33" y="348.21" width="2.2" height="2.2" fill="#f7941d"/>
<rect x="171.84" y="333.56" width="2.2" height="2.2" fill="#f7941d"/>
<rect x="205.08" y="338.84" width="2.2" height="2.2" fill="#f7941d"/>
<rect x="119.54" y="329.93" width="2.2" height="2.2" fill="#f7941d"/>
<rect x="207.34" y="339.04" width="2.2" height="2.2" fill="#f7941d"/>
<rect x="244.06" y="340.75" width="2.2" height="2.2" fill="#f7941d"/>
<rect x="148.31" y="336.43" width="2.2" height="2.2" fill="#f7941d"/>
<rect x="155.7" y="337.18" width="2.2" height="2.2" fill="#f7941d"/>
<rect x="125.61" y="327.35" width="2.2" height="2.2" fill="#f7941d"/>
<rect x="175.71" y="335.35" width="2.2" height="2.2" fill="#f7941d"/>
<rect x="279.94" y="346.76" width="2.2" height="2.2" fill="#f7941d"/>
<rect x="186.09" y="336.1" width="2.2" height="2.2" fill="#f7941d"/>
<rect x="154.66" y="337.82" width="2.2" height="2.2" fill="#f7941d"/>
<rect x="281.72" y="341.92" width="2.2" height="2.2" fill="#f7941d"/>
<rect x="189.35" y="337.89" width="2.2" height="2.2" fill="#f7941d"/>
<rect x="247.19" y="343.68" width="2.2" height="2.2" fill="#f7941d"/>
<rect x="225.9" y="344.2" width="2.2" height="2.2" fill="#f7941d"/>
<rect x="271.8" y="342.55" width="2.2" height="2.2" fill="#f7941d"/>
<rect x="208.35" y="342.13" width="2.2" height="2.2" fill="#f7941d"/>
<rect x="205.99" y="337.29" width="2.2" height="2.2" fill="#f7941d"/>
<rect x="247.84" y="339.3" width="2.2" height="2.2" fill="#f7941d"/>
<rect x="139.72" y="333.95" width="2.2" height="2.2" fill="#f7941d"/>
<rect x="161.19" y="341.29" width="2.2" height="2.2" fill="#f7941d"/>
<rect x="240.94" y="341.11" width="2.2" height="2.2" fill="#f7941d"/>
<rect x="247.99" y="344.59" width="2.2" height="2.2" fill="#f7941d"/>
<rect x="237.28" y="341.92" width="2.2" height="2.2" fill="#f7941d"/>
<rect x="189.26" y="334.98" width="2.2" height="2.2" fill="#f7941d"/>
<rect x="196.7" y="340.27" width="2.2" height="2.2" fill="#f7941d"/>
<rect x="269.32" y="340.55" width="2.2" height="2.2" fill="#f7941d"/>
<rect x="125.8" y="328.61" width="2.2" height="2.2" fill="#f7941d"/>
<rect x="235.27" y="341.59" width="2.2" height="2.2" fill="#f7941d"/>
<rect x="135.77" y="332.13" width="2.2" height="2.2" fill="#f7941d"/>
<rect x="213.97" y="341.44" width="2.2" height="2.2" fill="#f7941d"/>
<rect x="184.09" y="337.03" width="2.2" height="2.2" fill="#f7941d"/>
<rect x="232.95" y="342.72" width="2.2" height="2.2" fill="#f7941d"/>
<rect x="121.48" y="329.76" width="2.2" height="2.2" fill="#f7941d"/>
<rect x="135.9" y="329.87" width="2.2" height="2.2" fill="#f7941d"/>
<rect x="196.49" y="335.3" width="2.2" height="2.2" fill="#f7941d"/>
<rect x="126.12" y="329.37" width="2.2" height="2.2" fill="#f7941d"/>
<rect x="195.6" y="335.67" width="2.2" height="2.2" fill="#f7941d"/>
<rect x="280.78" y="348.85" width="2.2" height="2.2" fill="#f7941d"/>
<rect x="198.77" y="338.6" width="2.2" height="2.2" fill="#f7941d"/>
<rect x="168.74" y="339.29" width="2.2" height="2.2" fill="#f7941d"/>
<rect x="134.38" y="331.02" width="2.2" height="2.2" fill="#f7941d"/>
<rect x="152.12" y="339.57" width="2.2" height="2.2" fill="#f7941d"/>
<rect x="202.67" y="338.12" width="2.2" height="2.2" fill="#f7941d"/>
<rect x="183.35" y="338.08" width="2.2" height="2.2" fill="#f7941d"/>
<rect x="158.53" y="341.47" width="2.2" height="2.2" fill="#f7941d"/>
<rect x="237.65" y="341.88" width="2.2" height="2.2" fill="#f7941d"/>
<rect x="177.55" y="335.21" width="2.2" height="2.2" fill="#f7941d"/>
<rect x="192.87" y="336.45" width="2.2" height="2.2" fill="#f7941d"/>
<rect x="222.86" y="340.32" width="2.2" height="2.2" fill="#f7941d"/>
<rect x="166.65" y="340.35" width="2.2" height="2.2" fill="#f7941d"/>
<rect x="193.24" y="337.31" width="2.2" height="2.2" fill="#f7941d"/>
<rect x="267.76" y="344.22" width="2.2" height="2.2" fill="#f7941d"/>
<rect x="179.35" y="337.58" width="2.2" height="2.2" fill="#f7941d"/>
<rect x="284.76" y="348.48" width="2.2" height="2.2" fill="#f7941d"/>
<rect x="183.81" y="337.1" width="2.2" height="2.2" fill="#f7941d"/>
<rect x="243.42" y="341.1" width="2.2" height="2.2" fill="#f7941d"/>
<rect x="240.45" y="346.26" width="2.2" height="2.2" fill="#f7941d"/>
<rect x="228.47" y="342.63" width="2.2" height="2.2" fill="#f7941d"/>
<rect x="189.72" y="337.78" width="2.2" height="2.2" fill="#f7941d"/>
<rect x="153.01" y="339.25" width="2.2" height="2.2" fill="#f7941d"/>
<rect x="207.99" y="341.98" width="2.2" height="2.2" fill="#f7941d"/>
<rect x="173.32" y="335.71" width="2.2" height="2.2" fill="#f7941d"/>
<rect x="116.26" y="326.81" width="2.2" height="2.2" fill="#f7941d"/>
<rect x="247.89" y="341.11" width="2.2" height="2.2" fill="#f7941d"/>
<rect x="221.05" y="345.43" width="2.2" height="2.2" fill="#f7941d"/>
<rect x="183.27" y="345.33" width="2.2" height="2.2" fill="#f7941d"/>
<rect x="147.85" y="345.28" width="2.2" height="2.2" fill="#f7941d"/>
<rect x="123.82" y="335.97" width="2.2" height="2.2" fill="#f7941d"/>
<rect x="257.53" y="354.34" width="2.2" height="2.2" fill="#f7941d"/>
<rect x="182.02" y="342.43" width="2.2" height="2.2" fill="#f7941d"/>
<rect x="238.36" y="351.54" width="2.2" height="2.2" fill="#f7941d"/>
<rect x="244.42" y="351.15" width="2.2" height="2.2" fill="#f7941d"/>
<rect x="157.5" y="347.32" width="2.2" height="2.2" fill="#f7941d"/>
<rect x="211.88" y="346.33" width="2.2" height="2.2" fill="#f7941d"/>
<rect x="286.64" y="351.59" width="2.2" height="2.2" fill="#f7941d"/>
<rect x="250.4" y="350.28" width="2.2" height="2.2" fill="#f7941d"/>
<rect x="240.9" y="353.17" width="2.2" height="2.2" fill="#f7941d"/>
<rect x="161.51" y="347.13" width="2.2" height="2.2" fill="#f7941d"/>
<rect x="206.09" y="345.18" width="2.2" height="2.2" fill="#f7941d"/>
<rect x="142.66" y="341.86" width="2.2" height="2.2" fill="#f7941d"/>
<rect x="270.2" y="354.03" width="2.2" height="2.2" fill="#f7941d"/>
<rect x="164.1" y="348.27" width="2.2" height="2.2" fill="#f7941d"/>
<rect x="187.07" y="340.13" width="2.2" height="2.2" fill="#f7941d"/>
<rect x="219.7" y="346.86" width="2.2" height="2.2" fill="#f7941d"/>
<rect x="206.35" y="348.57" width="2.2" height="2.2" fill="#f7941d"/>
<rect x="213.31" y="349.3" width="2.2" height="2.2" fill="#f7941d"/>
<rect x="175.24" y="342.53" width="2.2" height="2.2" fill="#f7941d"/>
<rect x="126.55" y="334.96" width="2.2" height="2.2" fill="#f7941d"/>
<rect x="234.82" y="350.55" width="2.2" height="2.2" fill="#f7941d"/>
<rect x="258.78" y="351.33" width="2.2" height="2.2" fill="#f7941d"/>
<rect x="161.37" y="345.74" width="2.2" height="2.2" fill="#f7941d"/>
<rect x="207.67" y="342.21" width="2.2" height="2.2" fill="#f7941d"/>
<rect x="179.09" y="342.47" width="2.2" height="2.2" fill="#f7941d"/>
<rect x="139.42" y="338.82" width="2.2" height="2.2" fill="#f7941d"/>
<rect x="266.54" y="355.61" width="2.2" height="2.2" fill="#f7941d"/>
<rect x="157.17" y="343.63" width="2.2" height="2.2" fill="#f7941d"/>
<rect x="134" y="335.75" width="2.2" height="2.2" fill="#f7941d"/>
<rect x="252.75" y="353.35" width="2.2" height="2.2" fill="#f7941d"/>
<rect x="159.75" y="346.72" width="2.2" height="2.2" fill="#f7941d"/>
<rect x="235.42" y="346.16" width="2.2" height="2.2" fill="#f7941d"/>
<rect x="257.11" y="354.46" width="2.2" height="2.2" fill="#f7941d"/>
<rect x="150.43" y="344.6" width="2.2" height="2.2" fill="#f7941d"/>
<rect x="236.11" y="348.34" width="2.2" height="2.2" fill="#f7941d"/>
<rect x="267.56" y="350.84" width="2.2" height="2.2" fill="#f7941d"/>
<rect x="196.54" y="342.6" width="2.2" height="2.2" fill="#f7941d"/>
<rect x="190.91" y="345.18" width="2.2" height="2.2" fill="#f7941d"/>
<rect x="213.4" y="346.98" width="2.2" height="2.2" fill="#f7941d"/>
<rect x="286.63" y="352.18" width="2.2" height="2.2" fill="#f7941d"/>
<rect x="152.43" y="344.8" width="2.2" height="2.2" fill="#f7941d"/>
<rect x="139.7" y="343.32" width="2.2" height="2.2" fill="#f7941d"/>
<rect x="173.24" y="339.93" width="2.2" height="2.2" fill="#f7941d"/>
<rect x="189.03" y="345.02" width="2.2" height="2.2" fill="#f7941d"/>
<rect x="274.04" y="354.39" width="2.2" height="2.2" fill="#f7941d"/>
<rect x="143.42" y="340.25" width="2.2" height="2.2" fill="#f7941d"/>
<rect x="237.36" y="347.7" width="2.2" height="2.2" fill="#f7941d"/>
<rect x="268.31" y="355.32" width="2.2" height="2.2" fill="#f7941d"/>
<rect x="153.1" y="343.33" width="2.2" height="2.2" fill="#f7941d"/>
<rect x="153.49" y="345.88" width="2.2" height="2.2" fill="#f7941d"/>
<rect x="121.6" y="336" width="2.2" height="2.2" fill="#f7941d"/>
<rect x="124.33" y="337.89" width="2.2" height="2.2" fill="#f7941d"/>
<rect x="208.71" y="346.14" width="2.2" height="2.2" fill="#f7941d"/>
<rect x="130.05" y="334.35" width="2.2" height="2.2" fill="#f7941d"/>
<rect x="175.32" y="344.08" width="2.2" height="2.2" fill="#f7941d"/>
<rect x="218.69" y="349.44" width="2.2" height="2.2" fill="#f7941d"/>
<rect x="124.33" y="332.88" width="2.2" height="2.2" fill="#f7941d"/>
<rect x="117" y="334.5" width="2.2" height="2.2" fill="#f7941d"/>
<rect x="144.3" y="339.94" width="2.2" height="2.2" fill="#f7941d"/>
<rect x="230.45" y="349.97" width="2.2" height="2.2" fill="#f7941d"/>
<rect x="169.94" y="340.92" width="2.2" height="2.2" fill="#f7941d"/>
<rect x="164.08" y="346.62" width="2.2" height="2.2" fill="#f7941d"/>
<rect x="175.81" y="339.96" width="2.2" height="2.2" fill="#f7941d"/>
<rect x="157.03" y="344.35" width="2.2" height="2.2" fill="#f7941d"/>
<rect x="159.14" y="343.29" width="2.2" height="2.2" fill="#f7941d"/>
<rect x="167.83" y="344.65" width="2.2" height="2.2" fill="#f7941d"/>
<rect x="160.5" y="344.24" width="2.2" height="2.2" fill="#f7941d"/>
<rect x="261.87" y="352.15" width="2.2" height="2.2" fill="#f7941d"/>
<rect x="203.19" y="343.53" width="2.2" height="2.2" fill="#f7941d"/>
<rect x="269.08" y="354.57" width="2.2" height="2.2" fill="#f7941d"/>
<rect x="222.65" y="348.63" width="2.2" height="2.2" fill="#f7941d"/>
<rect x="234.9" y="349.28" width="2.2" height="2.2" fill="#f7941d"/>
<rect x="185.87" y="341.62" width="2.2" height="2.2" fill="#f7941d"/>
<rect x="201.84" y="344.4" width="2.2" height="2.2" fill="#f7941d"/>
<rect x="206.2" y="345.45" width="2.2" height="2.2" fill="#f7941d"/>
<rect x="251.79" y="354.32" width="2.2" height="2.2" fill="#f7941d"/>
<rect x="152.65" y="340.84" width="2.2" height="2.2" fill="#f7941d"/>
<rect x="166.18" y="342.65" width="2.2" height="2.2" fill="#f7941d"/>
<rect x="253.16" y="352.57" width="2.2" height="2.2" fill="#f7941d"/>
<rect x="163.46" y="344.23" width="2.2" height="2.2" fill="#f7941d"/>
<rect x="265.84" y="354.9" width="2.2" height="2.2" fill="#f7941d"/>
<rect x="233.37" y="350.36" width="2.2" height="2.2" fill="#f7941d"/>
<rect x="244.06" y="350.26" width="2.2" height="2.2" fill="#f7941d"/>
<rect x="183.1" y="342.33" width="2.2" height="2.2" fill="#f7941d"/>
<rect x="267.92" y="356.09" width="2.2" height="2.2" fill="#f7941d"/>
<rect x="274.33" y="355.48" width="2.2" height="2.2" fill="#f7941d"/>
<rect x="89.85" y="306.6" width="2" height="2" fill="#15821a"/>
<rect x="282.77" y="320.24" width="2" height="2" fill="#15821a"/>
<rect x="184.62" y="319.37" width="2" height="2" fill="#15821a"/>
<rect x="259.31" y="322.57" width="2" height="2" fill="#15821a"/>
<rect x="286.93" y="319.38" width="2" height="2" fill="#15821a"/>
<rect x="287.56" y="319.16" width="2" height="2" fill="#15821a"/>
<rect x="105.75" y="310.92" width="2" height="2" fill="#15821a"/>
<rect x="211.45" y="316.69" width="2" height="2" fill="#15821a"/>
<rect x="194.86" y="325.29" width="2" height="2" fill="#15821a"/>
<rect x="167.55" y="319.22" width="2" height="2" fill="#15821a"/>
<rect x="201.2" y="324.46" width="2" height="2" fill="#15821a"/>
<rect x="111.12" y="312.23" width="2" height="2" fill="#15821a"/>
<rect x="267.57" y="323.27" width="2" height="2" fill="#15821a"/>
<rect x="120.49" y="312.78" width="2" height="2" fill="#15821a"/>
<rect x="190.8" y="321.3" width="2" height="2" fill="#15821a"/>
<rect x="198.16" y="324.45" width="2" height="2" fill="#15821a"/>
<rect x="77.69" y="303.84" width="2" height="2" fill="#15821a"/>
<rect x="215.14" y="317.68" width="2" height="2" fill="#15821a"/>
<rect x="89.51" y="307.99" width="2" height="2" fill="#15821a"/>
<rect x="145.68" y="317.59" width="2" height="2" fill="#15821a"/>
<rect x="194.07" y="321.21" width="2" height="2" fill="#15821a"/>
<rect x="210.87" y="317.12" width="2" height="2" fill="#15821a"/>
<rect x="249.08" y="321.94" width="2" height="2" fill="#15821a"/>
<rect x="237.01" y="320.22" width="2" height="2" fill="#15821a"/>
<rect x="81.21" y="305.91" width="2" height="2" fill="#15821a"/>
<rect x="104.08" y="309.83" width="2" height="2" fill="#15821a"/>
<rect x="80.29" y="304.24" width="2" height="2" fill="#15821a"/>
<rect x="175.75" y="320.22" width="2" height="2" fill="#15821a"/>
<rect x="142.98" y="314.4" width="2" height="2" fill="#15821a"/>
<rect x="251.99" y="320.09" width="2" height="2" fill="#15821a"/>
<rect x="210.5" y="318.29" width="2" height="2" fill="#15821a"/>
<rect x="275.09" y="317.62" width="2" height="2" fill="#15821a"/>
<rect x="195.02" y="322.78" width="2" height="2" fill="#15821a"/>
<rect x="251.07" y="320.24" width="2" height="2" fill="#15821a"/>
<rect x="227.68" y="319.69" width="2" height="2" fill="#15821a"/>
<rect x="180.38" y="320.73" width="2" height="2" fill="#15821a"/>
<rect x="125.47" y="312.48" width="2" height="2" fill="#15821a"/>
<rect x="271.26" y="321.57" width="2" height="2" fill="#15821a"/>
<rect x="88.03" y="306" width="2" height="2" fill="#15821a"/>
<rect x="124.88" y="312.48" width="2" height="2" fill="#15821a"/>
<rect x="255.57" y="322.8" width="2" height="2" fill="#15821a"/>
<rect x="284.65" y="321.06" width="2" height="2" fill="#15821a"/>
<rect x="208.94" y="317.21" width="2" height="2" fill="#15821a"/>
<rect x="228.2" y="320.97" width="2" height="2" fill="#15821a"/>
<rect x="86.52" y="306.47" width="2" height="2" fill="#15821a"/>
<rect x="156.48" y="317.66" width="2" height="2" fill="#15821a"/>
<rect x="84.34" y="304.72" width="2" height="2" fill="#15821a"/>
<rect x="285.32" y="320.14" width="2" height="2" fill="#15821a"/>
<rect x="144.86" y="314.25" width="2" height="2" fill="#15821a"/>
<rect x="201.33" y="325.92" width="2" height="2" fill="#15821a"/>
<rect x="112.66" y="312.47" width="2" height="2" fill="#15821a"/>
<rect x="181.36" y="320.21" width="2" height="2" fill="#15821a"/>
<rect x="195.43" y="322.23" width="2" height="2" fill="#15821a"/>
<rect x="114.66" y="313.47" width="2" height="2" fill="#15821a"/>
<rect x="90.66" y="308.6" width="2" height="2" fill="#15821a"/>
<rect x="81.05" y="304.45" width="2" height="2" fill="#15821a"/>
<rect x="174.5" y="319.74" width="2" height="2" fill="#15821a"/>
<rect x="207.17" y="318.14" width="2" height="2" fill="#15821a"/>
<rect x="237.59" y="322.63" width="2" height="2" fill="#15821a"/>
<rect x="84.96" y="306.96" width="2" height="2" fill="#15821a"/>
<rect x="105.63" y="310.05" width="2" height="2" fill="#15821a"/>
<rect x="81.93" y="304.23" width="2" height="2" fill="#15821a"/>
<rect x="262.53" y="322.47" width="2" height="2" fill="#15821a"/>
<rect x="92.46" y="306.62" width="2" height="2" fill="#15821a"/>
<rect x="255.96" y="322.44" width="2" height="2" fill="#15821a"/>
<rect x="271" y="319.27" width="2" height="2" fill="#15821a"/>
<rect x="98.07" y="308.69" width="2" height="2" fill="#15821a"/>
<rect x="114.95" y="311.12" width="2" height="2" fill="#15821a"/>
<rect x="117" y="313.29" width="2" height="2" fill="#15821a"/>
<rect x="110.02" y="311.01" width="2" height="2" fill="#15821a"/>
<rect x="189.07" y="320.95" width="2" height="2" fill="#15821a"/>
<rect x="106.04" y="311.65" width="2" height="2" fill="#15821a"/>
<rect x="183.14" y="319.26" width="2" height="2" fill="#15821a"/>
<rect x="175.9" y="316.61" width="2" height="2" fill="#15821a"/>
<rect x="206.19" y="316.09" width="2" height="2" fill="#15821a"/>
<rect x="146.09" y="313.89" width="2" height="2" fill="#15821a"/>
<rect x="264.85" y="323.68" width="2" height="2" fill="#15821a"/>
<rect x="158.23" y="317.99" width="2" height="2" fill="#15821a"/>
<rect x="276.07" y="317.53" width="2" height="2" fill="#15821a"/>
<rect x="156.35" y="318.38" width="2" height="2" fill="#15821a"/>
<rect x="153.91" y="317.97" width="2" height="2" fill="#15821a"/>
<rect x="269.26" y="320" width="2" height="2" fill="#15821a"/>
<rect x="135.06" y="313.27" width="2" height="2" fill="#15821a"/>
<rect x="235.27" y="322.67" width="2" height="2" fill="#15821a"/>
<rect x="224.35" y="321.93" width="2" height="2" fill="#15821a"/>
<rect x="113.81" y="312.13" width="2" height="2" fill="#15821a"/>
<rect x="257.36" y="323.34" width="2" height="2" fill="#15821a"/>
<rect x="98.09" y="310.99" width="2" height="2" fill="#15821a"/>
<rect x="233.17" y="322.82" width="2" height="2" fill="#15821a"/>
<rect x="151.76" y="317.2" width="2" height="2" fill="#15821a"/>
<rect x="280.13" y="320.94" width="2" height="2" fill="#15821a"/>
<rect x="198.02" y="325.63" width="2" height="2" fill="#15821a"/>
<rect x="288.79" y="322.09" width="2" height="2" fill="#15821a"/>
<rect x="214.96" y="320.32" width="2" height="2" fill="#15821a"/>
<rect x="104.77" y="310.73" width="2" height="2" fill="#15821a"/>
<rect x="195.22" y="321.67" width="2" height="2" fill="#15821a"/>
<rect x="241.84" y="319.5" width="2" height="2" fill="#15821a"/>
<rect x="209.13" y="316.89" width="2" height="2" fill="#15821a"/>
<rect x="143.31" y="315.81" width="2" height="2" fill="#15821a"/>
<rect x="115.04" y="312.42" width="2" height="2" fill="#15821a"/>
<rect x="258.29" y="324.41" width="2" height="2" fill="#15821a"/>
<rect x="130.34" y="313.13" width="2" height="2" fill="#15821a"/>
<rect x="223.12" y="318.93" width="2" height="2" fill="#15821a"/>
<rect x="256.55" y="320.82" width="2" height="2" fill="#15821a"/>
<rect x="193.63" y="322.16" width="2" height="2" fill="#15821a"/>
<rect x="74.08" y="302.74" width="2" height="2" fill="#15821a"/>
<rect x="74.27" y="303.34" width="2" height="2" fill="#15821a"/>
<rect x="133.06" y="315.64" width="2" height="2" fill="#15821a"/>
<rect x="211.05" y="316.46" width="2" height="2" fill="#15821a"/>
<rect x="227.91" y="319.91" width="2" height="2" fill="#15821a"/>
<rect x="177.46" y="319.34" width="2" height="2" fill="#15821a"/>
<rect x="258.17" y="324.17" width="2" height="2" fill="#15821a"/>
<rect x="164.42" y="317.29" width="2" height="2" fill="#15821a"/>
<rect x="159.37" y="317.09" width="2" height="2" fill="#15821a"/>
<rect x="233.42" y="321.35" width="2" height="2" fill="#15821a"/>
<rect x="221.34" y="318.49" width="2" height="2" fill="#15821a"/>
<rect x="242.28" y="322.4" width="2" height="2" fill="#15821a"/>
<rect x="117.53" y="313.24" width="2" height="2" fill="#15821a"/>
<rect x="108.72" y="310.28" width="2" height="2" fill="#15821a"/>
<rect x="162.92" y="316.68" width="2" height="2" fill="#15821a"/>
<rect x="231.07" y="321.55" width="2" height="2" fill="#15821a"/>
<rect x="218.98" y="321.1" width="2" height="2" fill="#15821a"/>
<rect x="86.38" y="305.37" width="2" height="2" fill="#15821a"/>
<rect x="81.54" y="305.19" width="2" height="2" fill="#15821a"/>
<rect x="251.24" y="322.09" width="2" height="2" fill="#15821a"/>
<rect x="191.72" y="323.82" width="2" height="2" fill="#15821a"/>
<rect x="153.92" y="315.51" width="2" height="2" fill="#15821a"/>
<rect x="211.9" y="316.47" width="2" height="2" fill="#15821a"/>
<rect x="123.2" y="311.38" width="2" height="2" fill="#15821a"/>
<rect x="108.62" y="310.37" width="2" height="2" fill="#15821a"/>
<rect x="188.22" y="319.7" width="2" height="2" fill="#15821a"/>
<rect x="203.68" y="324.74" width="2" height="2" fill="#15821a"/>
<rect x="147.95" y="314.62" width="2" height="2" fill="#15821a"/>
<rect x="218.27" y="320.09" width="2" height="2" fill="#15821a"/>
<rect x="264.05" y="323.42" width="2" height="2" fill="#15821a"/>
<rect x="199.08" y="325.57" width="2" height="2" fill="#15821a"/>
<rect x="219.56" y="321.23" width="2" height="2" fill="#15821a"/>
<rect x="135.6" y="315.17" width="2" height="2" fill="#15821a"/>
<rect x="210.01" y="317.69" width="2" height="2" fill="#15821a"/>
<rect x="76.16" y="304.02" width="2" height="2" fill="#15821a"/>
<rect x="130.52" y="314.02" width="2" height="2" fill="#15821a"/>
<rect x="183.46" y="319.81" width="2" height="2" fill="#15821a"/>
<rect x="86.49" y="305.49" width="2" height="2" fill="#15821a"/>
<rect x="204.44" y="321.95" width="2" height="2" fill="#15821a"/>
<rect x="286.97" y="321.93" width="2" height="2" fill="#15821a"/>
<rect x="136.26" y="314.08" width="2" height="2" fill="#15821a"/>
<rect x="182.66" y="320.7" width="2" height="2" fill="#15821a"/>
<rect x="158.73" y="319.63" width="2" height="2" fill="#15821a"/>
<rect x="177.98" y="318.09" width="2" height="2" fill="#15821a"/>
<rect x="177.08" y="317.9" width="2" height="2" fill="#15821a"/>
<rect x="288.93" y="319.28" width="2" height="2" fill="#15821a"/>
<rect x="159.84" y="316.12" width="2" height="2" fill="#15821a"/>
<rect x="219.71" y="318.21" width="2" height="2" fill="#15821a"/>
<rect x="105.94" y="311.09" width="2" height="2" fill="#15821a"/>
<rect x="203.39" y="325.35" width="2" height="2" fill="#15821a"/>
<rect x="169.49" y="317.38" width="2" height="2" fill="#15821a"/>
<rect x="153" y="318.56" width="2" height="2" fill="#15821a"/>
<rect x="119.73" y="311.07" width="2" height="2" fill="#15821a"/>
<rect x="264.44" y="323.18" width="2" height="2" fill="#15821a"/>
<rect x="102.31" y="309.18" width="2" height="2" fill="#15821a"/>
<rect x="265.43" y="324.45" width="2" height="2" fill="#15821a"/>
<rect x="87.71" y="307.28" width="2" height="2" fill="#15821a"/>
<rect x="119.86" y="312.74" width="2" height="2" fill="#15821a"/>
<rect x="204.03" y="320.61" width="2" height="2" fill="#15821a"/>
<rect x="275.13" y="318.62" width="2" height="2" fill="#15821a"/>
<rect x="104.81" y="312.11" width="2" height="2" fill="#15821a"/>
<rect x="97.33" y="307.7" width="2" height="2" fill="#15821a"/>
<rect x="214.13" y="318.42" width="2" height="2" fill="#15821a"/>
<rect x="267.62" y="323.72" width="2" height="2" fill="#15821a"/>
<rect x="118.28" y="311.1" width="2" height="2" fill="#15821a"/>
<rect x="203.68" y="323.3" width="2" height="2" fill="#15821a"/>
<rect x="138.64" y="316.22" width="2" height="2" fill="#15821a"/>
<rect x="118.7" y="313.41" width="2" height="2" fill="#15821a"/>
<rect x="89.67" y="308.5" width="2" height="2" fill="#15821a"/>
<rect x="277.98" y="319.55" width="2" height="2" fill="#15821a"/>
<rect x="142.78" y="316.18" width="2" height="2" fill="#15821a"/>
<rect x="268.24" y="323.44" width="2" height="2" fill="#15821a"/>
<rect x="82.62" y="305.54" width="2" height="2" fill="#15821a"/>
<rect x="103.96" y="311.04" width="2" height="2" fill="#15821a"/>
<rect x="278.26" y="320.45" width="2" height="2" fill="#15821a"/>
<rect x="127.38" y="313.63" width="2" height="2" fill="#15821a"/>
<rect x="142.15" y="313.91" width="2" height="2" fill="#15821a"/>
<rect x="233.87" y="322.48" width="2" height="2" fill="#15821a"/>
<rect x="146.3" y="315.56" width="2" height="2" fill="#15821a"/>
<rect x="223.7" y="321.07" width="2" height="2" fill="#15821a"/>
<rect x="173.59" y="316.83" width="2" height="2" fill="#15821a"/>
<rect x="94.43" y="307.45" width="2" height="2" fill="#15821a"/>
<rect x="251.65" y="321.36" width="2" height="2" fill="#15821a"/>
<rect x="212.51" y="317.76" width="2" height="2" fill="#15821a"/>
<rect x="153.23" y="315.67" width="2" height="2" fill="#15821a"/>
<rect x="283.55" y="320.61" width="2" height="2" fill="#15821a"/>
<rect x="101.53" y="310.97" width="2" height="2" fill="#15821a"/>
<rect x="202.5" y="324.69" width="2" height="2" fill="#15821a"/>
<rect x="239.5" y="322.39" width="2" height="2" fill="#15821a"/>
<rect x="262.43" y="324.94" width="2" height="2" fill="#15821a"/>
<rect x="161.36" y="318.56" width="2" height="2" fill="#15821a"/>
<rect x="154.4" y="316.82" width="2" height="2" fill="#15821a"/>
<rect x="152.63" y="317.51" width="2" height="2" fill="#15821a"/>
<rect x="149.69" y="315.83" width="2" height="2" fill="#15821a"/>
<rect x="256.04" y="323.29" width="2" height="2" fill="#15821a"/>
<rect x="219.35" y="320.71" width="2" height="2" fill="#15821a"/>
<rect x="156.91" y="318.2" width="2" height="2" fill="#15821a"/>
<rect x="127.91" y="312.78" width="2" height="2" fill="#15821a"/>
<rect x="95.5" y="309.7" width="2" height="2" fill="#15821a"/>
<rect x="272.07" y="319.82" width="2" height="2" fill="#15821a"/>
<rect x="155.25" y="315.74" width="2" height="2" fill="#15821a"/>
<rect x="104.45" y="311.5" width="2" height="2" fill="#15821a"/>
<rect x="265.78" y="321.6" width="2" height="2" fill="#15821a"/>
<rect x="128.63" y="314.49" width="2" height="2" fill="#15821a"/>
<rect x="122.45" y="314.55" width="2" height="2" fill="#15821a"/>
<rect x="149.76" y="316.33" width="2" height="2" fill="#15821a"/>
<rect x="117.24" y="311.97" width="2" height="2" fill="#15821a"/>
<rect x="165.19" y="317.15" width="2" height="2" fill="#15821a"/>
<rect x="230.72" y="319.46" width="2" height="2" fill="#15821a"/>
<rect x="211.29" y="319.09" width="2" height="2" fill="#15821a"/>
<rect x="144.02" y="314.29" width="2" height="2" fill="#15821a"/>
<rect x="99.65" y="308.36" width="2" height="2" fill="#15821a"/>
<rect x="244.29" y="320.73" width="2" height="2" fill="#15821a"/>
<rect x="77.1" y="304.19" width="2" height="2" fill="#15821a"/>
<rect x="202.66" y="323.44" width="2" height="2" fill="#15821a"/>
<rect x="81.34" y="305.05" width="2" height="2" fill="#15821a"/>
<rect x="149.93" y="318.38" width="2" height="2" fill="#15821a"/>
<rect x="151.25" y="318.41" width="2" height="2" fill="#15821a"/>
<rect x="260.62" y="323.01" width="2" height="2" fill="#15821a"/>
<rect x="100.95" y="311.18" width="2" height="2" fill="#15821a"/>
<rect x="93.25" y="308.36" width="2" height="2" fill="#15821a"/>
<rect x="94.78" y="307.29" width="2" height="2" fill="#15821a"/>
<rect x="162.18" y="316.54" width="2" height="2" fill="#15821a"/>
<rect x="287.28" y="321.17" width="2" height="2" fill="#15821a"/>
<rect x="266.88" y="324.75" width="2" height="2" fill="#15821a"/>
<rect x="236.92" y="322.31" width="2" height="2" fill="#15821a"/>
<rect x="175.62" y="319.51" width="2" height="2" fill="#15821a"/>
<rect x="217.87" y="317.93" width="2" height="2" fill="#15821a"/>
<rect x="187.89" y="320.74" width="2" height="2" fill="#15821a"/>
<rect x="184.76" y="320.92" width="2" height="2" fill="#15821a"/>
<rect x="222.1" y="320.19" width="2" height="2" fill="#15821a"/>
<rect x="243.57" y="321.56" width="2" height="2" fill="#15821a"/>
<rect x="93.72" y="307.21" width="2" height="2" fill="#15821a"/>
<rect x="84" y="304.99" width="2" height="2" fill="#15821a"/>
<rect x="280.18" y="318.93" width="2" height="2" fill="#15821a"/>
<rect x="168.3" y="318.03" width="2" height="2" fill="#15821a"/>
<rect x="195.29" y="322.37" width="2" height="2" fill="#15821a"/>
<rect x="241.39" y="321.22" width="2" height="2" fill="#15821a"/>
<rect x="255.79" y="323.27" width="2" height="2" fill="#15821a"/>
<rect x="74.09" y="303.68" width="2" height="2" fill="#15821a"/>
<rect x="93.88" y="309.53" width="2" height="2" fill="#15821a"/>
<rect x="88.77" y="306.4" width="2" height="2" fill="#15821a"/>
<rect x="239.25" y="322.31" width="2" height="2" fill="#15821a"/>
<rect x="217.35" y="318.78" width="2" height="2" fill="#15821a"/>
<rect x="185.85" y="319.32" width="2" height="2" fill="#15821a"/>
<rect x="173.33" y="317.37" width="2" height="2" fill="#15821a"/>
<rect x="219.19" y="317.97" width="2" height="2" fill="#15821a"/>
<rect x="103.44" y="309.66" width="2" height="2" fill="#15821a"/>
<rect x="188.51" y="321.6" width="2" height="2" fill="#15821a"/>
<rect x="74.49" y="304.54" width="2" height="2" fill="#15821a"/>
<rect x="253.59" y="321.15" width="2" height="2" fill="#15821a"/>
<rect x="108.02" y="313.14" width="2" height="2" fill="#15821a"/>
<rect x="284.05" y="319.21" width="2" height="2" fill="#15821a"/>
<rect x="236.52" y="322.89" width="2" height="2" fill="#15821a"/>
<rect x="275.5" y="318.02" width="2" height="2" fill="#15821a"/>
<rect x="99.77" y="308.69" width="2" height="2" fill="#15821a"/>
<rect x="123.61" y="314.71" width="2" height="2" fill="#15821a"/>
<rect x="269.63" y="321.54" width="2" height="2" fill="#15821a"/>
<rect x="101.28" y="309.69" width="2" height="2" fill="#15821a"/>
<rect x="125.74" y="313.89" width="2" height="2" fill="#15821a"/>
<rect x="228.77" y="322.15" width="2" height="2" fill="#15821a"/>
<rect x="167.88" y="317.98" width="2" height="2" fill="#15821a"/>
<rect x="174.52" y="317.86" width="2" height="2" fill="#15821a"/>
<rect x="171.77" y="319.03" width="2" height="2" fill="#15821a"/>
<rect x="226.89" y="320.1" width="2" height="2" fill="#15821a"/>
<rect x="195.81" y="321.9" width="2" height="2" fill="#15821a"/>
<rect x="83.58" y="305.47" width="2" height="2" fill="#15821a"/>
<rect x="151.15" y="314.76" width="2" height="2" fill="#15821a"/>
<rect x="90.95" y="307.39" width="2" height="2" fill="#15821a"/>
<rect x="276.59" y="320.02" width="2" height="2" fill="#15821a"/>
<rect x="80.35" y="304.6" width="2" height="2" fill="#15821a"/>
<rect x="153.18" y="316.22" width="2" height="2" fill="#15821a"/>
<rect x="103.34" y="311.04" width="2" height="2" fill="#15821a"/>
<rect x="254.39" y="321.28" width="2" height="2" fill="#15821a"/>
<rect x="111.79" y="310.88" width="2" height="2" fill="#15821a"/>
<rect x="77.11" y="304.81" width="2" height="2" fill="#15821a"/>
<rect x="123.51" y="314.03" width="2" height="2" fill="#15821a"/>
<rect x="243.99" y="318.49" width="2" height="2" fill="#15821a"/>
<rect x="114.5" y="311.88" width="2" height="2" fill="#15821a"/>
<rect x="239.28" y="322.81" width="2" height="2" fill="#15821a"/>
<rect x="139.01" y="314.51" width="2" height="2" fill="#15821a"/>
<rect x="150.25" y="316.4" width="2" height="2" fill="#15821a"/>
<rect x="244.6" y="319.33" width="2" height="2" fill="#15821a"/>
<rect x="248.23" y="322.65" width="2" height="2" fill="#15821a"/>
<rect x="203.16" y="326.2" width="2" height="2" fill="#15821a"/>
<rect x="275.67" y="317.82" width="2" height="2" fill="#15821a"/>
<rect x="287.17" y="319.83" width="2" height="2" fill="#15821a"/>
<rect x="246.98" y="319.08" width="2" height="2" fill="#15821a"/>
<rect x="138.98" y="314.46" width="2" height="2" fill="#15821a"/>
<rect x="254.41" y="322.54" width="2" height="2" fill="#15821a"/>
<rect x="117.71" y="314.33" width="2" height="2" fill="#15821a"/>
<rect x="260.05" y="322.65" width="2" height="2" fill="#15821a"/>
<rect x="84.74" y="305.49" width="2" height="2" fill="#15821a"/>
<rect x="136.77" y="314.02" width="2" height="2" fill="#15821a"/>
<rect x="276.66" y="319.21" width="2" height="2" fill="#15821a"/>
<rect x="250.2" y="319.35" width="2" height="2" fill="#15821a"/>
<rect x="126.67" y="314.26" width="2" height="2" fill="#15821a"/>
<rect x="147.1" y="314.92" width="2" height="2" fill="#15821a"/>
<rect x="87.41" y="305.48" width="2" height="2" fill="#15821a"/>
<rect x="162.57" y="318.17" width="2" height="2" fill="#15821a"/>
<rect x="159.89" y="318.17" width="2" height="2" fill="#15821a"/>
<rect x="136.44" y="312.45" width="2" height="2" fill="#15821a"/>
<rect x="218.95" y="318.77" width="2" height="2" fill="#15821a"/>
<rect x="179.59" y="318.23" width="2" height="2" fill="#15821a"/>
<rect x="131.94" y="312.06" width="2" height="2" fill="#15821a"/>
<rect x="137.66" y="313.71" width="2" height="2" fill="#15821a"/>
<rect x="98.57" y="307.96" width="2" height="2" fill="#15821a"/>
<rect x="177.27" y="316.58" width="2" height="2" fill="#15821a"/>
<rect x="262.96" y="322.45" width="2" height="2" fill="#15821a"/>
<rect x="169.33" y="318.31" width="2" height="2" fill="#15821a"/>
<rect x="79.03" y="303.86" width="2" height="2" fill="#15821a"/>
<rect x="242.82" y="320.32" width="2" height="2" fill="#15821a"/>
<rect x="179.98" y="318.21" width="2" height="2" fill="#15821a"/>
<rect x="235.48" y="321.67" width="2" height="2" fill="#15821a"/>
<rect x="244.33" y="321.72" width="2" height="2" fill="#15821a"/>
<rect x="266.17" y="324.13" width="2" height="2" fill="#15821a"/>
<rect x="218.85" y="319.21" width="2" height="2" fill="#15821a"/>
<rect x="188.61" y="321.63" width="2" height="2" fill="#15821a"/>
<rect x="186.86" y="321.99" width="2" height="2" fill="#15821a"/>
<rect x="258.48" y="320.48" width="2" height="2" fill="#15821a"/>
<rect x="235.66" y="322.1" width="2" height="2" fill="#15821a"/>
<rect x="202.59" y="325.96" width="2" height="2" fill="#15821a"/>
<rect x="84.52" y="305.93" width="2" height="2" fill="#15821a"/>
<rect x="154.61" y="319.09" width="2" height="2" fill="#15821a"/>
<rect x="109.27" y="312.45" width="2" height="2" fill="#15821a"/>
<rect x="104.9" y="312.04" width="2" height="2" fill="#15821a"/>
<rect x="179.08" y="319.48" width="2" height="2" fill="#15821a"/>
<rect x="139.91" y="316.31" width="2" height="2" fill="#15821a"/>
<rect x="75.36" y="303.38" width="2" height="2" fill="#15821a"/>
<rect x="231.65" y="322.75" width="2" height="2" fill="#15821a"/>
<rect x="241.09" y="321.39" width="2" height="2" fill="#15821a"/>
<rect x="91.27" y="308.3" width="2" height="2" fill="#15821a"/>
<rect x="231.23" y="319.63" width="2" height="2" fill="#15821a"/>
<rect x="274.98" y="319.35" width="2" height="2" fill="#15821a"/>
<rect x="81.06" y="305.13" width="2" height="2" fill="#15821a"/>
<rect x="146.61" y="314.35" width="2" height="2" fill="#15821a"/>
<rect x="264.34" y="325.08" width="2" height="2" fill="#15821a"/>
<rect x="100.55" y="309.83" width="2" height="2" fill="#15821a"/>
<rect x="132.67" y="314.43" width="2" height="2" fill="#15821a"/>
<rect x="97.47" y="308.7" width="2" height="2" fill="#15821a"/>
<rect x="162.13" y="317.85" width="2" height="2" fill="#15821a"/>
<rect x="167.48" y="318.53" width="2" height="2" fill="#15821a"/>
<rect x="276.14" y="320.25" width="2" height="2" fill="#15821a"/>
<rect x="269.08" y="323.18" width="2" height="2" fill="#15821a"/>
<rect x="122.98" y="312.18" width="2" height="2" fill="#15821a"/>
<rect x="172.77" y="318.89" width="2" height="2" fill="#15821a"/>
<rect x="204.3" y="321.04" width="2" height="2" fill="#15821a"/>
<rect x="287.24" y="320.22" width="2" height="2" fill="#15821a"/>
<rect x="78.02" y="303.64" width="2" height="2" fill="#15821a"/>
<rect x="118.91" y="313.76" width="2" height="2" fill="#15821a"/>
<rect x="254.75" y="319.89" width="2" height="2" fill="#15821a"/>
<rect x="124.84" y="312.29" width="2" height="2" fill="#15821a"/>
<rect x="243.08" y="321.8" width="2" height="2" fill="#15821a"/>
<rect x="130.51" y="312.15" width="2" height="2" fill="#15821a"/>
<rect x="281.88" y="321.55" width="2" height="2" fill="#15821a"/>
<rect x="228.04" y="320.86" width="2" height="2" fill="#15821a"/>
<rect x="234.53" y="322.56" width="2" height="2" fill="#15821a"/>
<rect x="183.44" y="318.9" width="2" height="2" fill="#15821a"/>
<rect x="186.84" y="321.38" width="2" height="2" fill="#15821a"/>
<rect x="143.63" y="315.99" width="2" height="2" fill="#15821a"/>
<rect x="105.42" y="312.98" width="2" height="2" fill="#15821a"/>
<rect x="119.33" y="311.86" width="2" height="2" fill="#15821a"/>
<rect x="280.47" y="321.19" width="2" height="2" fill="#15821a"/>
<rect x="272.93" y="321.41" width="2" height="2" fill="#15821a"/>
<rect x="256.43" y="323.43" width="2" height="2" fill="#15821a"/>
<rect x="195.78" y="321.55" width="2" height="2" fill="#15821a"/>
<rect x="231.29" y="322.57" width="2" height="2" fill="#15821a"/>
<rect x="254.11" y="319.8" width="2" height="2" fill="#15821a"/>
<rect x="87.04" y="307.26" width="2" height="2" fill="#15821a"/>
<rect x="178.83" y="320.05" width="2" height="2" fill="#15821a"/>
<rect x="287.01" y="320.7" width="2" height="2" fill="#15821a"/>
<rect x="219.19" y="320.02" width="2" height="2" fill="#15821a"/>
<rect x="223.1" y="319.6" width="2" height="2" fill="#15821a"/>
<rect x="211.45" y="316.54" width="2" height="2" fill="#15821a"/>
<rect x="267.51" y="323.5" width="2" height="2" fill="#15821a"/>
<rect x="246.53" y="320.46" width="2" height="2" fill="#15821a"/>
<rect x="117.98" y="312.63" width="2" height="2" fill="#15821a"/>
<rect x="220.28" y="319.78" width="2" height="2" fill="#15821a"/>
<rect x="97.23" y="307.57" width="2" height="2" fill="#15821a"/>
<rect x="159.44" y="316.8" width="2" height="2" fill="#15821a"/>
<rect x="122.64" y="312.07" width="2" height="2" fill="#15821a"/>
<rect x="163.29" y="318.81" width="2" height="2" fill="#15821a"/>
<rect x="270.3" y="322.02" width="2" height="2" fill="#15821a"/>
<rect x="78.3" y="305.32" width="2" height="2" fill="#15821a"/>
<rect x="204.86" y="320.89" width="2" height="2" fill="#15821a"/>
<rect x="205.88" y="316.62" width="2" height="2" fill="#15821a"/>
<rect x="146.84" y="314.25" width="2" height="2" fill="#15821a"/>
<rect x="216.72" y="317.36" width="2" height="2" fill="#15821a"/>
<rect x="220.39" y="321.15" width="2" height="2" fill="#15821a"/>
<rect x="217.55" y="319.51" width="2" height="2" fill="#15821a"/>
<rect x="247.72" y="322.74" width="2" height="2" fill="#15821a"/>
<rect x="248.69" y="323.01" width="2" height="2" fill="#15821a"/>
<rect x="172.74" y="316.38" width="2" height="2" fill="#15821a"/>
<rect x="206.03" y="317.57" width="2" height="2" fill="#15821a"/>
<rect x="259.54" y="323.01" width="2" height="2" fill="#15821a"/>
<rect x="152.03" y="314.78" width="2" height="2" fill="#15821a"/>
<rect x="252.57" y="322.04" width="2" height="2" fill="#15821a"/>
<rect x="285.85" y="321.02" width="2" height="2" fill="#15821a"/>
<rect x="257.32" y="323.36" width="2" height="2" fill="#15821a"/>
<rect x="287.04" y="320.76" width="2" height="2" fill="#15821a"/>
<rect x="266.89" y="322.44" width="2" height="2" fill="#15821a"/>
<rect x="76.27" y="303.76" width="2" height="2" fill="#15821a"/>
<rect x="149.43" y="318.38" width="2" height="2" fill="#15821a"/>
<rect x="158.81" y="316.91" width="2" height="2" fill="#15821a"/>
<rect x="222.47" y="318.48" width="2" height="2" fill="#15821a"/>
<rect x="139.58" y="314.38" width="2" height="2" fill="#15821a"/>
<rect x="100.6" y="310.37" width="2" height="2" fill="#15821a"/>
<rect x="164.85" y="319.3" width="2" height="2" fill="#15821a"/>
<rect x="146.89" y="317.88" width="2" height="2" fill="#15821a"/>
<rect x="115.94" y="312.8" width="2" height="2" fill="#15821a"/>
<rect x="122.53" y="311.27" width="2" height="2" fill="#15821a"/>
<rect x="138.74" y="316.16" width="2" height="2" fill="#15821a"/>
<rect x="136.58" y="314.25" width="2" height="2" fill="#15821a"/>
<rect x="186.59" y="319.78" width="2" height="2" fill="#15821a"/>
<rect x="188.93" y="319.64" width="2" height="2" fill="#15821a"/>
<rect x="149.02" y="315.45" width="2" height="2" fill="#15821a"/>
<rect x="249.3" y="322.17" width="2" height="2" fill="#15821a"/>
<rect x="224.63" y="320.73" width="2" height="2" fill="#15821a"/>
<rect x="260.28" y="323.66" width="2" height="2" fill="#15821a"/>
<rect x="85.74" y="305.31" width="2" height="2" fill="#15821a"/>
<rect x="234.77" y="322.84" width="2" height="2" fill="#15821a"/>
<rect x="286.71" y="321.84" width="2" height="2" fill="#15821a"/>
<rect x="107.8" y="312.1" width="2" height="2" fill="#15821a"/>
<rect x="208.17" y="317.84" width="2" height="2" fill="#15821a"/>
<rect x="102.78" y="312.24" width="2" height="2" fill="#15821a"/>
<rect x="183.66" y="318.95" width="2" height="2" fill="#15821a"/>
<rect x="284.91" y="320.1" width="2" height="2" fill="#15821a"/>
<rect x="88.91" y="307.57" width="2" height="2" fill="#15821a"/>
<rect x="129.73" y="312.53" width="2" height="2" fill="#15821a"/>
<rect x="138.94" y="315.09" width="2" height="2" fill="#15821a"/>
<rect x="142.66" y="315.93" width="2" height="2" fill="#15821a"/>
<rect x="268.64" y="324.04" width="2" height="2" fill="#15821a"/>
<rect x="265.12" y="325.14" width="2" height="2" fill="#15821a"/>
<rect x="128.32" y="314.72" width="2" height="2" fill="#15821a"/>
<rect x="93.16" y="308.41" width="2" height="2" fill="#15821a"/>
<rect x="90.11" y="306.24" width="2" height="2" fill="#15821a"/>
<rect x="277.98" y="317.88" width="2" height="2" fill="#15821a"/>
<rect x="228.16" y="321.09" width="2" height="2" fill="#15821a"/>
<rect x="74.11" y="304.11" width="2" height="2" fill="#15821a"/>
<rect x="86.92" y="307.65" width="2" height="2" fill="#15821a"/>
<rect x="249.97" y="321.11" width="2" height="2" fill="#15821a"/>
<rect x="169.87" y="316.31" width="2" height="2" fill="#15821a"/>
<rect x="224.46" y="318.59" width="2" height="2" fill="#15821a"/>
<rect x="187.04" y="322.46" width="2" height="2" fill="#15821a"/>
<rect x="219.74" y="318.09" width="2" height="2" fill="#15821a"/>
<rect x="228.99" y="321.88" width="2" height="2" fill="#15821a"/>
<rect x="144.69" y="316.69" width="2" height="2" fill="#15821a"/>
<rect x="198.38" y="323.47" width="2" height="2" fill="#15821a"/>
<rect x="186.98" y="319.93" width="2" height="2" fill="#15821a"/>
<rect x="135.64" y="315.6" width="2" height="2" fill="#15821a"/>
<rect x="149.05" y="317.42" width="2" height="2" fill="#15821a"/>
<rect x="152.78" y="315.66" width="2" height="2" fill="#15821a"/>
<rect x="74.15" y="304.41" width="2" height="2" fill="#15821a"/>
<rect x="235.57" y="323.41" width="2" height="2" fill="#15821a"/>
<rect x="200.58" y="322.11" width="2" height="2" fill="#15821a"/>
<rect x="108.98" y="310.39" width="2" height="2" fill="#15821a"/>
<rect x="205.59" y="318.39" width="2" height="2" fill="#15821a"/>
<rect x="279.45" y="318.74" width="2" height="2" fill="#15821a"/>
<rect x="124.04" y="312.16" width="2" height="2" fill="#15821a"/>
<rect x="105.52" y="309.53" width="2" height="2" fill="#15821a"/>
<rect x="180.08" y="318.53" width="2" height="2" fill="#15821a"/>
<rect x="153.04" y="318.83" width="2" height="2" fill="#15821a"/>
<rect x="141.35" y="316.34" width="2" height="2" fill="#15821a"/>
<rect x="188.41" y="319.65" width="2" height="2" fill="#15821a"/>
<rect x="80.22" y="305.23" width="2" height="2" fill="#15821a"/>
<rect x="261.97" y="320.99" width="2" height="2" fill="#15821a"/>
<rect x="224.9" y="319.4" width="2" height="2" fill="#15821a"/>
<rect x="221.69" y="321.1" width="2" height="2" fill="#15821a"/>
<rect x="230.31" y="320.23" width="2" height="2" fill="#15821a"/>
<rect x="107.42" y="313.51" width="2" height="2" fill="#15821a"/>
<rect x="270.87" y="322.7" width="2" height="2" fill="#15821a"/>
<rect x="190.27" y="319.95" width="2" height="2" fill="#15821a"/>
<rect x="153.2" y="318.69" width="2" height="2" fill="#15821a"/>
<rect x="88.26" y="306.36" width="2" height="2" fill="#15821a"/>
<rect x="82.95" y="306.56" width="2" height="2" fill="#15821a"/>
<rect x="149.94" y="314.77" width="2" height="2" fill="#15821a"/>
<rect x="150.48" y="315.35" width="2" height="2" fill="#15821a"/>
<rect x="167.09" y="318.6" width="2" height="2" fill="#15821a"/>
<rect x="215.42" y="317.3" width="2" height="2" fill="#15821a"/>
<rect x="188.83" y="319.58" width="2" height="2" fill="#15821a"/>
<rect x="168.85" y="319.44" width="2" height="2" fill="#15821a"/>
<rect x="130.32" y="314.84" width="2" height="2" fill="#15821a"/>
<rect x="126.36" y="312.97" width="2" height="2" fill="#15821a"/>
<rect x="244.35" y="318.2" width="2" height="2" fill="#15821a"/>
<rect x="193.06" y="322.86" width="2" height="2" fill="#15821a"/>
<rect x="227.65" y="322.63" width="2" height="2" fill="#15821a"/>
<rect x="223.28" y="319.09" width="2" height="2" fill="#15821a"/>
<rect x="116.68" y="312.66" width="2" height="2" fill="#15821a"/>
<rect x="134.39" y="314.14" width="2" height="2" fill="#15821a"/>
<rect x="93.13" y="308.75" width="2" height="2" fill="#15821a"/>
<rect x="163.49" y="316.15" width="2" height="2" fill="#15821a"/>
<rect x="99.81" y="311.31" width="2" height="2" fill="#15821a"/>
<rect x="256.55" y="323.71" width="2" height="2" fill="#15821a"/>
<rect x="157.71" y="319.77" width="2" height="2" fill="#15821a"/>
<rect x="110.44" y="313.2" width="2" height="2" fill="#15821a"/>
<rect x="276.5" y="317.87" width="2" height="2" fill="#15821a"/>
<rect x="74.76" y="303.09" width="2" height="2" fill="#15821a"/>
<rect x="91.83" y="308.73" width="2" height="2" fill="#15821a"/>
<rect x="204.27" y="321.64" width="2" height="2" fill="#15821a"/>
<rect x="98.49" y="309.98" width="2" height="2" fill="#15821a"/>
<rect x="103.3" y="309.4" width="2" height="2" fill="#15821a"/>
<rect x="201.62" y="324.75" width="2" height="2" fill="#15821a"/>
<rect x="246.17" y="321.95" width="2" height="2" fill="#15821a"/>
<rect x="103.37" y="310.03" width="2" height="2" fill="#15821a"/>
<rect x="104.81" y="311.06" width="2" height="2" fill="#15821a"/>
<rect x="79.95" y="305.75" width="2" height="2" fill="#15821a"/>
<rect x="220.52" y="320.79" width="2" height="2" fill="#15821a"/>
<rect x="178.93" y="320.13" width="2" height="2" fill="#15821a"/>
<rect x="253.49" y="323.04" width="2" height="2" fill="#15821a"/>
<rect x="247.25" y="319.53" width="2" height="2" fill="#15821a"/>
<rect x="148.16" y="314.4" width="2" height="2" fill="#15821a"/>
<rect x="238.31" y="321.82" width="2" height="2" fill="#15821a"/>
<rect x="286.08" y="319.99" width="2" height="2" fill="#15821a"/>
<rect x="166.61" y="319.61" width="2" height="2" fill="#15821a"/>
<rect x="282.31" y="320.89" width="2" height="2" fill="#15821a"/>
<rect x="263.74" y="324.94" width="2" height="2" fill="#15821a"/>
<rect x="132.3" y="314.2" width="2" height="2" fill="#15821a"/>
<rect x="87.53" y="307.24" width="2" height="2" fill="#15821a"/>
<rect x="278.79" y="319.33" width="2" height="2" fill="#15821a"/>
<rect x="105.22" y="311.45" width="2" height="2" fill="#15821a"/>
<rect x="87.93" y="306.74" width="2" height="2" fill="#15821a"/>
<rect x="91.09" y="307.4" width="2" height="2" fill="#15821a"/>
<rect x="249.82" y="322.12" width="2" height="2" fill="#15821a"/>
<rect x="257.49" y="322.05" width="2" height="2" fill="#15821a"/>
<rect x="168.75" y="316.38" width="2" height="2" fill="#15821a"/>
<rect x="243.63" y="320.49" width="2" height="2" fill="#15821a"/>
<rect x="161.62" y="316.47" width="2" height="2" fill="#15821a"/>
<rect x="172.51" y="316.56" width="2" height="2" fill="#15821a"/>
<rect x="99.66" y="308.37" width="2" height="2" fill="#15821a"/>
<rect x="165.28" y="316.58" width="2" height="2" fill="#15821a"/>
<rect x="251.85" y="321.87" width="2" height="2" fill="#15821a"/>
<rect x="260.37" y="322.88" width="2" height="2" fill="#15821a"/>
<rect x="108.2" y="311.09" width="2" height="2" fill="#15821a"/>
<rect x="254.49" y="322.15" width="2" height="2" fill="#15821a"/>
<rect x="212.89" y="318.78" width="2" height="2" fill="#15821a"/>
<rect x="84.19" y="305.13" width="2" height="2" fill="#15821a"/>
<rect x="166.69" y="319.53" width="2" height="2" fill="#15821a"/>
<rect x="276.85" y="319.24" width="2" height="2" fill="#15821a"/>
<rect x="129.68" y="311.89" width="2" height="2" fill="#15821a"/>
<rect x="194.08" y="322.61" width="2" height="2" fill="#15821a"/>
<rect x="274.11" y="318.6" width="2" height="2" fill="#15821a"/>
<rect x="117.92" y="310.96" width="2" height="2" fill="#15821a"/>
<rect x="80.02" y="305.63" width="2" height="2" fill="#15821a"/>
<rect x="261.3" y="321.33" width="2" height="2" fill="#15821a"/>
<rect x="77.15" y="304.45" width="2" height="2" fill="#15821a"/>
<rect x="126.88" y="313.84" width="2" height="2" fill="#15821a"/>
<rect x="270.03" y="322.42" width="2" height="2" fill="#15821a"/>
<rect x="134.09" y="314.29" width="2" height="2" fill="#15821a"/>
<rect x="136.15" y="315.2" width="2" height="2" fill="#15821a"/>
<rect x="129.39" y="314.96" width="2" height="2" fill="#15821a"/>
<rect x="219.8" y="320.97" width="2" height="2" fill="#15821a"/>
<rect x="148.23" y="318.02" width="2" height="2" fill="#15821a"/>
<rect x="199.12" y="322.82" width="2" height="2" fill="#15821a"/>
<rect x="213.03" y="317.66" width="2" height="2" fill="#15821a"/>
<rect x="98.24" y="307.91" width="2" height="2" fill="#15821a"/>
<rect x="205.19" y="318.16" width="2" height="2" fill="#15821a"/>
<rect x="95.38" y="309.6" width="2" height="2" fill="#15821a"/>
<rect x="104.4" y="311.91" width="2" height="2" fill="#15821a"/>
<rect x="132.59" y="313.27" width="2" height="2" fill="#15821a"/>
<rect x="274.49" y="320.62" width="2" height="2" fill="#15821a"/>
<rect x="253.42" y="323.67" width="2" height="2" fill="#15821a"/>
<rect x="203.73" y="325.05" width="2" height="2" fill="#15821a"/>
<rect x="207.79" y="317.7" width="2" height="2" fill="#15821a"/>
<rect x="143.53" y="314.95" width="2" height="2" fill="#15821a"/>
<rect x="196.44" y="322.51" width="2" height="2" fill="#15821a"/>
<rect x="211.98" y="319.43" width="2" height="2" fill="#15821a"/>
<rect x="228.84" y="320.02" width="2" height="2" fill="#15821a"/>
<rect x="79.82" y="304.6" width="2" height="2" fill="#15821a"/>
<rect x="167.25" y="319.55" width="2" height="2" fill="#15821a"/>
<rect x="191.55" y="322.31" width="2" height="2" fill="#15821a"/>
<rect x="204.18" y="322.18" width="2" height="2" fill="#15821a"/>
<rect x="219.76" y="319.73" width="2" height="2" fill="#15821a"/>
<rect x="192.76" y="321.44" width="2" height="2" fill="#15821a"/>
<rect x="100.43" y="309.78" width="2" height="2" fill="#15821a"/>
<rect x="264.61" y="325.17" width="2" height="2" fill="#15821a"/>
<rect x="136.93" y="314.64" width="2" height="2" fill="#15821a"/>
<rect x="185.38" y="320.12" width="2" height="2" fill="#15821a"/>
<rect x="112.2" y="313.56" width="2" height="2" fill="#15821a"/>
<rect x="92.2" y="307.11" width="2" height="2" fill="#15821a"/>
<rect x="133.81" y="312.75" width="2" height="2" fill="#15821a"/>
<rect x="115.46" y="311.04" width="2" height="2" fill="#15821a"/>
<rect x="186.49" y="319.39" width="2" height="2" fill="#15821a"/>
<rect x="212.11" y="318.52" width="2" height="2" fill="#15821a"/>
<rect x="208.25" y="317.43" width="2" height="2" fill="#15821a"/>
<rect x="205.62" y="317.15" width="2" height="2" fill="#15821a"/>
<rect x="173.68" y="319.1" width="2" height="2" fill="#15821a"/>
<rect x="120.18" y="313.85" width="2" height="2" fill="#15821a"/>
<rect x="199.81" y="326.11" width="2" height="2" fill="#15821a"/>
<rect x="206.45" y="317.35" width="2" height="2" fill="#15821a"/>
<rect x="239.13" y="321.25" width="2" height="2" fill="#15821a"/>
<rect x="154.01" y="316.85" width="2" height="2" fill="#15821a"/>
<rect x="231.9" y="322.17" width="2" height="2" fill="#15821a"/>
<rect x="113.7" y="314.29" width="2" height="2" fill="#15821a"/>
<rect x="285.15" y="320.54" width="2" height="2" fill="#15821a"/>
<rect x="288.04" y="321.32" width="2" height="2" fill="#15821a"/>
<rect x="156.6" y="315.82" width="2" height="2" fill="#15821a"/>
<rect x="77.58" y="304.58" width="2" height="2" fill="#15821a"/>
<rect x="228.45" y="321.49" width="2" height="2" fill="#15821a"/>
<rect x="242.28" y="320.25" width="2" height="2" fill="#15821a"/>
<rect x="233.51" y="321.87" width="2" height="2" fill="#15821a"/>
<rect x="210.31" y="318.02" width="2" height="2" fill="#15821a"/>
<rect x="217.38" y="319.32" width="2" height="2" fill="#15821a"/>
<rect x="93.33" y="308.74" width="2" height="2" fill="#15821a"/>
<rect x="225.25" y="320.2" width="2" height="2" fill="#15821a"/>
<rect x="282.54" y="319.98" width="2" height="2" fill="#15821a"/>
<rect x="109.64" y="312.32" width="2" height="2" fill="#15821a"/>
<rect x="150.89" y="315.26" width="2" height="2" fill="#15821a"/>
<rect x="265.03" y="321.97" width="2" height="2" fill="#15821a"/>
<rect x="227.1" y="319.53" width="2" height="2" fill="#15821a"/>
<rect x="185.1" y="322.07" width="2" height="2" fill="#15821a"/>
<rect x="92.95" y="309.2" width="2" height="2" fill="#15821a"/>
<rect x="75.13" y="304.7" width="2" height="2" fill="#15821a"/>
<rect x="269.32" y="321.57" width="2" height="2" fill="#15821a"/>
<rect x="211.05" y="317.85" width="2" height="2" fill="#15821a"/>
<rect x="109.08" y="311.6" width="2" height="2" fill="#15821a"/>
<rect x="168.76" y="323.89" width="2" height="2" fill="#15821a"/>
<rect x="98.4" y="313.42" width="2" height="2" fill="#15821a"/>
<rect x="175.29" y="322.71" width="2" height="2" fill="#15821a"/>
<rect x="244.32" y="324.95" width="2" height="2" fill="#15821a"/>
<rect x="143.43" y="321.41" width="2" height="2" fill="#15821a"/>
<rect x="202.71" y="327.5" width="2" height="2" fill="#15821a"/>
<rect x="191.64" y="328.08" width="2" height="2" fill="#15821a"/>
<rect x="83.84" y="309.85" width="2" height="2" fill="#15821a"/>
<rect x="178.76" y="321.68" width="2" height="2" fill="#15821a"/>
<rect x="108.15" y="314.82" width="2" height="2" fill="#15821a"/>
<rect x="167.99" y="321.98" width="2" height="2" fill="#15821a"/>
<rect x="203.25" y="327.53" width="2" height="2" fill="#15821a"/>
<rect x="207.25" y="321.03" width="2" height="2" fill="#15821a"/>
<rect x="245.03" y="325.92" width="2" height="2" fill="#15821a"/>
<rect x="124.88" y="319.3" width="2" height="2" fill="#15821a"/>
<rect x="191.41" y="325.75" width="2" height="2" fill="#15821a"/>
<rect x="128.63" y="318.41" width="2" height="2" fill="#15821a"/>
<rect x="167.82" y="323.08" width="2" height="2" fill="#15821a"/>
<rect x="128.92" y="319.06" width="2" height="2" fill="#15821a"/>
<rect x="130.75" y="319.21" width="2" height="2" fill="#15821a"/>
<rect x="168.19" y="321.9" width="2" height="2" fill="#15821a"/>
<rect x="198.12" y="328.35" width="2" height="2" fill="#15821a"/>
<rect x="191.75" y="326.82" width="2" height="2" fill="#15821a"/>
<rect x="278.25" y="324.05" width="2" height="2" fill="#15821a"/>
<rect x="93.72" y="314.02" width="2" height="2" fill="#15821a"/>
<rect x="77.19" y="305.52" width="2" height="2" fill="#15821a"/>
<rect x="249.95" y="324.4" width="2" height="2" fill="#15821a"/>
<rect x="80.17" y="306.85" width="2" height="2" fill="#15821a"/>
<rect x="180.4" y="324.43" width="2" height="2" fill="#15821a"/>
<rect x="78.11" y="306.25" width="2" height="2" fill="#15821a"/>
<rect x="80.92" y="298.19" width="2.2" height="2.2" fill="#ec1c24"/>
<rect x="144.63" y="307.12" width="2.2" height="2.2" fill="#ec1c24"/>
<rect x="282.31" y="318.23" width="2.2" height="2.2" fill="#ec1c24"/>
<rect x="258.3" y="315.35" width="2.2" height="2.2" fill="#ec1c24"/>
<rect x="270.03" y="317.3" width="2.2" height="2.2" fill="#ec1c24"/>
<rect x="128.8" y="303.99" width="2.2" height="2.2" fill="#ec1c24"/>
<rect x="179.29" y="302.01" width="2.2" height="2.2" fill="#ec1c24"/>
<rect x="272.93" y="316.74" width="2.2" height="2.2" fill="#ec1c24"/>
<rect x="120.43" y="302.83" width="2.2" height="2.2" fill="#ec1c24"/>
<rect x="247.88" y="312.83" width="2.2" height="2.2" fill="#ec1c24"/>
<rect x="202.02" y="304.54" width="2.2" height="2.2" fill="#ec1c24"/>
<rect x="129.09" y="303.47" width="2.2" height="2.2" fill="#ec1c24"/>
<rect x="184.73" y="304.26" width="2.2" height="2.2" fill="#ec1c24"/>
<rect x="126.14" y="304.48" width="2.2" height="2.2" fill="#ec1c24"/>
<rect x="201.7" y="306.18" width="2.2" height="2.2" fill="#ec1c24"/>
<rect x="287.99" y="316.98" width="2.2" height="2.2" fill="#ec1c24"/>
<rect x="288.15" y="317.6" width="2.2" height="2.2" fill="#ec1c24"/>
<rect x="185.61" y="303.08" width="2.2" height="2.2" fill="#ec1c24"/>
<rect x="96.13" y="300.86" width="2.2" height="2.2" fill="#ec1c24"/>
<rect x="99.95" y="299.63" width="2.2" height="2.2" fill="#ec1c24"/>
<rect x="95.98" y="300.59" width="2.2" height="2.2" fill="#ec1c24"/>
<rect x="119.53" y="302" width="2.2" height="2.2" fill="#ec1c24"/>
<rect x="239.84" y="312.13" width="2.2" height="2.2" fill="#ec1c24"/>
<rect x="109.26" y="302.12" width="2.2" height="2.2" fill="#ec1c24"/>
<rect x="287.81" y="318.45" width="2.2" height="2.2" fill="#ec1c24"/>
<rect x="172" y="302.03" width="2.2" height="2.2" fill="#ec1c24"/>
<rect x="226.29" y="310.99" width="2.2" height="2.2" fill="#ec1c24"/>
<rect x="243.75" y="312.11" width="2.2" height="2.2" fill="#ec1c24"/>
<rect x="242.58" y="311.46" width="2.2" height="2.2" fill="#ec1c24"/>
<rect x="105.28" y="301.3" width="2.2" height="2.2" fill="#ec1c24"/>
<rect x="117.13" y="302.48" width="2.2" height="2.2" fill="#ec1c24"/>
<rect x="138.07" y="307.55" width="2.2" height="2.2" fill="#ec1c24"/>
<rect x="169.52" y="311.39" width="2.2" height="2.2" fill="#ec1c24"/>
<rect x="277.28" y="316.91" width="2.2" height="2.2" fill="#ec1c24"/>
<rect x="240.16" y="312.32" width="2.2" height="2.2" fill="#ec1c24"/>
<rect x="162.38" y="308.31" width="2.2" height="2.2" fill="#ec1c24"/>
<rect x="216.99" y="309.27" width="2.2" height="2.2" fill="#ec1c24"/>
<rect x="223.14" y="308.87" width="2.2" height="2.2" fill="#ec1c24"/>
<rect x="188.87" y="303.87" width="2.2" height="2.2" fill="#ec1c24"/>
<rect x="160.68" y="310.02" width="2.2" height="2.2" fill="#ec1c24"/>
<rect x="79.66" y="299.04" width="2.2" height="2.2" fill="#ec1c24"/>
<rect x="186.08" y="303.05" width="2.2" height="2.2" fill="#ec1c24"/>
<rect x="232.49" y="310.38" width="2.2" height="2.2" fill="#ec1c24"/>
<rect x="163.22" y="308.79" width="2.2" height="2.2" fill="#ec1c24"/>
<rect x="204.1" y="305.61" width="2.2" height="2.2" fill="#ec1c24"/>
<rect x="222.3" y="309" width="2.2" height="2.2" fill="#ec1c24"/>
<rect x="243.33" y="313.02" width="2.2" height="2.2" fill="#ec1c24"/>
<rect x="100.37" y="300.84" width="2.2" height="2.2" fill="#ec1c24"/>
<rect x="131.54" y="304.25" width="2.2" height="2.2" fill="#ec1c24"/>
<rect x="277.97" y="317.09" width="2.2" height="2.2" fill="#ec1c24"/>
<rect x="233.89" y="310.31" width="2.2" height="2.2" fill="#ec1c24"/>
<rect x="210.88" y="305.89" width="2.2" height="2.2" fill="#ec1c24"/>
<rect x="124.92" y="302.55" width="2.2" height="2.2" fill="#ec1c24"/>
<rect x="83.47" y="300.34" width="2.2" height="2.2" fill="#ec1c24"/>
<rect x="281.44" y="316.79" width="2.2" height="2.2" fill="#ec1c24"/>
<rect x="80.91" y="299.72" width="2.2" height="2.2" fill="#ec1c24"/>
<rect x="217.88" y="307.08" width="2.2" height="2.2" fill="#ec1c24"/>
<rect x="239.74" y="310.92" width="2.2" height="2.2" fill="#ec1c24"/>
<rect x="127.35" y="304.98" width="2.2" height="2.2" fill="#ec1c24"/>
<rect x="239.87" y="311.46" width="2.2" height="2.2" fill="#ec1c24"/>
<rect x="185.32" y="304.63" width="2.2" height="2.2" fill="#ec1c24"/>
<rect x="205.41" y="305.98" width="2.2" height="2.2" fill="#ec1c24"/>
<rect x="117.2" y="301.07" width="2.2" height="2.2" fill="#ec1c24"/>
<rect x="117.83" y="302.45" width="2.2" height="2.2" fill="#ec1c24"/>
<rect x="203.8" y="305.65" width="2.2" height="2.2" fill="#ec1c24"/>
<rect x="212.24" y="307.33" width="2.2" height="2.2" fill="#ec1c24"/>
<rect x="214.24" y="307.33" width="2.2" height="2.2" fill="#ec1c24"/>
<rect x="255.63" y="314.77" width="2.2" height="2.2" fill="#ec1c24"/>
<rect x="263.71" y="317.71" width="2.2" height="2.2" fill="#ec1c24"/>
<rect x="252.64" y="315.23" width="2.2" height="2.2" fill="#ec1c24"/>
<rect x="223.61" y="309.62" width="2.2" height="2.2" fill="#ec1c24"/>
<rect x="130.41" y="303.44" width="2.2" height="2.2" fill="#ec1c24"/>
<rect x="217.5" y="307.55" width="2.2" height="2.2" fill="#ec1c24"/>
<rect x="207.25" y="306.27" width="2.2" height="2.2" fill="#ec1c24"/>
<rect x="206.16" y="305.82" width="2.2" height="2.2" fill="#ec1c24"/>
<rect x="128.69" y="303.76" width="2.2" height="2.2" fill="#ec1c24"/>
<rect x="225.04" y="310.86" width="2.2" height="2.2" fill="#ec1c24"/>
<rect x="145.41" y="306.63" width="2.2" height="2.2" fill="#ec1c24"/>
<rect x="172.58" y="301.84" width="2.2" height="2.2" fill="#ec1c24"/>
<rect x="211.46" y="307.67" width="2.2" height="2.2" fill="#ec1c24"/>
<rect x="239.97" y="313.29" width="2.2" height="2.2" fill="#ec1c24"/>
<rect x="231.07" y="312.27" width="2.2" height="2.2" fill="#ec1c24"/>
<rect x="172.76" y="301.91" width="2.2" height="2.2" fill="#ec1c24"/>
<rect x="215.48" y="307.32" width="2.2" height="2.2" fill="#ec1c24"/>
<rect x="252.97" y="314.02" width="2.2" height="2.2" fill="#ec1c24"/>
<rect x="195.56" y="304.97" width="2.2" height="2.2" fill="#ec1c24"/>
<rect x="154.96" y="306.95" width="2.2" height="2.2" fill="#ec1c24"/>
<rect x="136.86" y="305.79" width="2.2" height="2.2" fill="#ec1c24"/>
<rect x="278.63" y="315.49" width="2.2" height="2.2" fill="#ec1c24"/>
<rect x="268.44" y="318.39" width="2.2" height="2.2" fill="#ec1c24"/>
<rect x="244.91" y="312.39" width="2.2" height="2.2" fill="#ec1c24"/>
<rect x="82.29" y="300.17" width="2.2" height="2.2" fill="#ec1c24"/>
<rect x="92.66" y="299.71" width="2.2" height="2.2" fill="#ec1c24"/>
<rect x="276.02" y="317.87" width="2.2" height="2.2" fill="#ec1c24"/>
<rect x="251.78" y="315.32" width="2.2" height="2.2" fill="#ec1c24"/>
<rect x="115.79" y="302.2" width="2.2" height="2.2" fill="#ec1c24"/>
<rect x="98.15" y="300.36" width="2.2" height="2.2" fill="#ec1c24"/>
<rect x="182.69" y="304.3" width="2.2" height="2.2" fill="#ec1c24"/>
<rect x="139.18" y="306.85" width="2.2" height="2.2" fill="#ec1c24"/>
<rect x="107.95" y="300.85" width="2.2" height="2.2" fill="#ec1c24"/>
<rect x="90.59" y="300.22" width="2.2" height="2.2" fill="#ec1c24"/>
<rect x="201.74" y="306.09" width="2.2" height="2.2" fill="#ec1c24"/>
<rect x="166.67" y="311.23" width="2.2" height="2.2" fill="#ec1c24"/>
<rect x="230.45" y="310.99" width="2.2" height="2.2" fill="#ec1c24"/>
<rect x="262.26" y="314.22" width="2.2" height="2.2" fill="#ec1c24"/>
<rect x="139.8" y="306.58" width="2.2" height="2.2" fill="#ec1c24"/>
<rect x="204.51" y="306.98" width="2.2" height="2.2" fill="#ec1c24"/>
<rect x="221.32" y="307.76" width="2.2" height="2.2" fill="#ec1c24"/>
<rect x="277.17" y="316.98" width="2.2" height="2.2" fill="#ec1c24"/>
<rect x="121.55" y="303.84" width="2.2" height="2.2" fill="#ec1c24"/>
<rect x="210.59" y="307.75" width="2.2" height="2.2" fill="#ec1c24"/>
<rect x="194.39" y="304.18" width="2.2" height="2.2" fill="#ec1c24"/>
<rect x="177.35" y="302.63" width="2.2" height="2.2" fill="#ec1c24"/>
<rect x="152.39" y="308.4" width="2.2" height="2.2" fill="#ec1c24"/>
<rect x="109.68" y="300.99" width="2.2" height="2.2" fill="#ec1c24"/>
<rect x="103.2" y="299.86" width="2.2" height="2.2" fill="#ec1c24"/>
<rect x="188.91" y="304.84" width="2.2" height="2.2" fill="#ec1c24"/>
<rect x="163.06" y="310.7" width="2.2" height="2.2" fill="#ec1c24"/>
<rect x="206.42" y="306.42" width="2.2" height="2.2" fill="#ec1c24"/>
<rect x="138.54" y="307.5" width="2.2" height="2.2" fill="#ec1c24"/>
<rect x="151.54" y="309.14" width="2.2" height="2.2" fill="#ec1c24"/>
<rect x="129.67" y="305.96" width="2.2" height="2.2" fill="#ec1c24"/>
<rect x="222.14" y="308.29" width="2.2" height="2.2" fill="#ec1c24"/>
<rect x="232.37" y="310.07" width="2.2" height="2.2" fill="#ec1c24"/>
<rect x="159.44" y="308.68" width="2.2" height="2.2" fill="#ec1c24"/>
<rect x="148.76" y="307.23" width="2.2" height="2.2" fill="#ec1c24"/>
<rect x="112.08" y="301.59" width="2.2" height="2.2" fill="#ec1c24"/>
<rect x="97.93" y="301.4" width="2.2" height="2.2" fill="#ec1c24"/>
<rect x="152.78" y="308.87" width="2.2" height="2.2" fill="#ec1c24"/>
<rect x="168.4" y="311.62" width="2.2" height="2.2" fill="#ec1c24"/>
<rect x="263.53" y="316.53" width="2.2" height="2.2" fill="#ec1c24"/>
<rect x="255.4" y="316.15" width="2.2" height="2.2" fill="#ec1c24"/>
<rect x="274.23" y="316.51" width="2.2" height="2.2" fill="#ec1c24"/>
<rect x="203.15" y="304.6" width="2.2" height="2.2" fill="#ec1c24"/>
<rect x="155.01" y="307.94" width="2.2" height="2.2" fill="#ec1c24"/>
<rect x="209.32" y="305.3" width="2.2" height="2.2" fill="#ec1c24"/>
<rect x="237.12" y="310.55" width="2.2" height="2.2" fill="#ec1c24"/>
<rect x="167.32" y="310.07" width="2.2" height="2.2" fill="#ec1c24"/>
<rect x="255.61" y="315.14" width="2.2" height="2.2" fill="#ec1c24"/>
<rect x="109.36" y="302.09" width="2.2" height="2.2" fill="#ec1c24"/>
<rect x="127.77" y="304.56" width="2.2" height="2.2" fill="#ec1c24"/>
<rect x="165.34" y="311.12" width="2.2" height="2.2" fill="#ec1c24"/>
<rect x="172.84" y="301.48" width="2.2" height="2.2" fill="#ec1c24"/>
<rect x="143.57" y="308.55" width="2.2" height="2.2" fill="#ec1c24"/>
<rect x="151.65" y="307.23" width="2.2" height="2.2" fill="#ec1c24"/>
<rect x="190.96" y="304.88" width="2.2" height="2.2" fill="#ec1c24"/>
<rect x="276.39" y="315.09" width="2.2" height="2.2" fill="#ec1c24"/>
<rect x="147.64" y="308.27" width="2.2" height="2.2" fill="#ec1c24"/>
<rect x="182.59" y="303.96" width="2.2" height="2.2" fill="#ec1c24"/>
<rect x="220.34" y="307.69" width="2.2" height="2.2" fill="#ec1c24"/>
<rect x="88.84" y="299.1" width="2.2" height="2.2" fill="#ec1c24"/>
<rect x="142.29" y="305.78" width="2.2" height="2.2" fill="#ec1c24"/>
<rect x="138.68" y="304.92" width="2.2" height="2.2" fill="#ec1c24"/>
<rect x="83.75" y="299.49" width="2.2" height="2.2" fill="#ec1c24"/>
<rect x="237.9" y="310.93" width="2.2" height="2.2" fill="#ec1c24"/>
<rect x="98.09" y="301.25" width="2.2" height="2.2" fill="#ec1c24"/>
<rect x="94.97" y="299.5" width="2.2" height="2.2" fill="#ec1c24"/>
<rect x="181.6" y="302.82" width="2.2" height="2.2" fill="#ec1c24"/>
<rect x="243.61" y="312.92" width="2.2" height="2.2" fill="#ec1c24"/>
<rect x="188.49" y="303.88" width="2.2" height="2.2" fill="#ec1c24"/>
<rect x="84.08" y="300.2" width="2.2" height="2.2" fill="#ec1c24"/>
<rect x="160.3" y="310.14" width="2.2" height="2.2" fill="#ec1c24"/>
<rect x="100.56" y="300.7" width="2.2" height="2.2" fill="#ec1c24"/>
<rect x="191.93" y="303.67" width="2.2" height="2.2" fill="#ec1c24"/>
<rect x="93.89" y="301.38" width="2.2" height="2.2" fill="#ec1c24"/>
<rect x="275.95" y="319.4" width="2.2" height="2.2" fill="#ec1c24"/>
<rect x="192.93" y="305.24" width="2.2" height="2.2" fill="#ec1c24"/>
<rect x="204.93" y="305.81" width="2.2" height="2.2" fill="#ec1c24"/>
<rect x="114.44" y="302.47" width="2.2" height="2.2" fill="#ec1c24"/>
<rect x="171.6" y="302.33" width="2.2" height="2.2" fill="#ec1c24"/>
<rect x="124.33" y="305.19" width="2.2" height="2.2" fill="#ec1c24"/>
<rect x="158.83" y="312.6" width="2.2" height="2.2" fill="#ec1c24"/>
<rect x="159.72" y="312.97" width="2.2" height="2.2" fill="#ec1c24"/>
<rect x="141.1" y="308.33" width="2.2" height="2.2" fill="#ec1c24"/>
<rect x="124.08" y="307.7" width="2.2" height="2.2" fill="#ec1c24"/>
<rect x="148.37" y="315.21" width="2.2" height="2.2" fill="#ec1c24"/>
<rect x="154.94" y="310.67" width="2.2" height="2.2" fill="#ec1c24"/>
<rect x="151.56" y="313.06" width="2.2" height="2.2" fill="#ec1c24"/>
<rect x="138.75" y="309.01" width="2.2" height="2.2" fill="#ec1c24"/>
<rect x="145.75" y="311.38" width="2.2" height="2.2" fill="#ec1c24"/>
<rect x="124.96" y="305.8" width="2.2" height="2.2" fill="#ec1c24"/>
<rect x="130.27" y="308.76" width="2.2" height="2.2" fill="#ec1c24"/>
<rect x="151.5" y="316.88" width="2.2" height="2.2" fill="#ec1c24"/>
<rect x="168.66" y="314.62" width="2.2" height="2.2" fill="#ec1c24"/>
<rect x="158.44" y="310.62" width="2.2" height="2.2" fill="#ec1c24"/>
<rect x="135.31" y="310.11" width="2.2" height="2.2" fill="#ec1c24"/>
<rect x="163.53" y="317.03" width="2.2" height="2.2" fill="#ec1c24"/>
<rect x="126.11" y="307.8" width="2.2" height="2.2" fill="#ec1c24"/>
<rect x="151.77" y="312.89" width="2.2" height="2.2" fill="#ec1c24"/>
<rect x="142.03" y="308.84" width="2.2" height="2.2" fill="#ec1c24"/>
<rect x="160.35" y="310.98" width="2.2" height="2.2" fill="#ec1c24"/>
<rect x="151.75" y="316.64" width="2.2" height="2.2" fill="#ec1c24"/>
<rect x="130.95" y="307.33" width="2.2" height="2.2" fill="#ec1c24"/>
<rect x="146.65" y="309.9" width="2.2" height="2.2" fill="#ec1c24"/>
<rect x="135.09" y="307.38" width="2.2" height="2.2" fill="#ec1c24"/>
<rect x="124.29" y="306.46" width="2.2" height="2.2" fill="#ec1c24"/>
<rect x="134.36" y="309.75" width="2.2" height="2.2" fill="#ec1c24"/>
<rect x="144.16" y="314.93" width="2.2" height="2.2" fill="#ec1c24"/>
<rect x="144.61" y="314.57" width="2.2" height="2.2" fill="#ec1c24"/>
<rect x="137.07" y="307.94" width="2.2" height="2.2" fill="#ec1c24"/>
<rect x="158.11" y="311.47" width="2.2" height="2.2" fill="#ec1c24"/>
<rect x="157.94" y="312.49" width="2.2" height="2.2" fill="#ec1c24"/>
<rect x="152.08" y="310.32" width="2.2" height="2.2" fill="#ec1c24"/>
<rect x="139.79" y="308.78" width="2.2" height="2.2" fill="#ec1c24"/>
<rect x="124.17" y="306.17" width="2.2" height="2.2" fill="#ec1c24"/>
<rect x="152.46" y="309.99" width="2.2" height="2.2" fill="#ec1c24"/>
<rect x="162.37" y="320.75" width="2.2" height="2.2" fill="#ec1c24"/>
<rect x="132.22" y="306.65" width="2.2" height="2.2" fill="#ec1c24"/>
<rect x="130.57" y="307.96" width="2.2" height="2.2" fill="#ec1c24"/>
<rect x="124.02" y="305.39" width="2.2" height="2.2" fill="#ec1c24"/>
<rect x="158.8" y="310.8" width="2.2" height="2.2" fill="#ec1c24"/>
<rect x="163.18" y="325.94" width="2.2" height="2.2" fill="#ec1c24"/>
<rect x="149.41" y="310.14" width="2.2" height="2.2" fill="#ec1c24"/>
<rect x="153.4" y="318.37" width="2.2" height="2.2" fill="#ec1c24"/>
<rect x="146.38" y="314" width="2.2" height="2.2" fill="#ec1c24"/>
<rect x="143.67" y="313.76" width="2.2" height="2.2" fill="#ec1c24"/>
<rect x="150.44" y="312.68" width="2.2" height="2.2" fill="#ec1c24"/>
<rect x="165.22" y="316.61" width="2.2" height="2.2" fill="#ec1c24"/>
<rect x="123.69" y="306.08" width="2.2" height="2.2" fill="#ec1c24"/>
<rect x="168.25" y="319.23" width="2.2" height="2.2" fill="#ec1c24"/>
<rect x="158.67" y="312.19" width="2.2" height="2.2" fill="#ec1c24"/>
<rect x="143.3" y="309.25" width="2.2" height="2.2" fill="#ec1c24"/>
<rect x="139.68" y="311.56" width="2.2" height="2.2" fill="#ec1c24"/>
<rect x="137.66" y="308.01" width="2.2" height="2.2" fill="#ec1c24"/>
<rect x="158.4" y="320.47" width="2.2" height="2.2" fill="#ec1c24"/>
<rect x="125.35" y="305.75" width="2.2" height="2.2" fill="#ec1c24"/>
<rect x="136.53" y="308.71" width="2.2" height="2.2" fill="#ec1c24"/>
<rect x="123.02" y="304.89" width="2.2" height="2.2" fill="#ec1c24"/>
<rect x="123.69" y="306.06" width="2.2" height="2.2" fill="#ec1c24"/>
<rect x="148.27" y="309.71" width="2.2" height="2.2" fill="#ec1c24"/>
<rect x="147.34" y="309.91" width="2.2" height="2.2" fill="#ec1c24"/>
<rect x="129.78" y="307.05" width="2.2" height="2.2" fill="#ec1c24"/>
<rect x="150.34" y="311.8" width="2.2" height="2.2" fill="#ec1c24"/>
<rect x="151.38" y="312.07" width="2.2" height="2.2" fill="#ec1c24"/>
<rect x="132.09" y="309.2" width="2.2" height="2.2" fill="#ec1c24"/>
<rect x="160.58" y="318.45" width="2.2" height="2.2" fill="#ec1c24"/>
<rect x="169.51" y="317.31" width="2.2" height="2.2" fill="#ec1c24"/>
<rect x="135.08" y="307.73" width="2.2" height="2.2" fill="#ec1c24"/>
<rect x="130.79" y="306.67" width="2.2" height="2.2" fill="#ec1c24"/>
<rect x="140.85" y="315.02" width="2.2" height="2.2" fill="#ec1c24"/>
<rect x="137.46" y="306.89" width="2.2" height="2.2" fill="#ec1c24"/>
<rect x="122.87" y="302.19" width="2.2" height="2.2" fill="#ec1c24"/>
<rect x="108.39" y="306.25" width="2.2" height="2.2" fill="#ec1c24"/>
<rect x="121.33" y="301.6" width="2.2" height="2.2" fill="#ec1c24"/>
<rect x="168.44" y="311.64" width="2.2" height="2.2" fill="#ec1c24"/>
<rect x="154.25" y="310.15" width="2.2" height="2.2" fill="#ec1c24"/>
<rect x="167.63" y="309.36" width="2.2" height="2.2" fill="#ec1c24"/>
<rect x="133.43" y="308.45" width="2.2" height="2.2" fill="#ec1c24"/>
<rect x="102.42" y="306.01" width="2.2" height="2.2" fill="#ec1c24"/>
<rect x="124.11" y="306.93" width="2.2" height="2.2" fill="#ec1c24"/>
<rect x="106.19" y="300.56" width="2.2" height="2.2" fill="#ec1c24"/>
<rect x="106.71" y="305.52" width="2.2" height="2.2" fill="#ec1c24"/>
<rect x="165.82" y="314.94" width="2.2" height="2.2" fill="#ec1c24"/>
<rect x="137.39" y="305.01" width="2.2" height="2.2" fill="#ec1c24"/>
<rect x="154.43" y="310.57" width="2.2" height="2.2" fill="#ec1c24"/>
<rect x="154.79" y="311.55" width="2.2" height="2.2" fill="#ec1c24"/>
<rect x="139.85" y="306.04" width="2.2" height="2.2" fill="#ec1c24"/>
<rect x="110.61" y="300.93" width="2.2" height="2.2" fill="#ec1c24"/>
<rect x="130.59" y="305.28" width="2.2" height="2.2" fill="#ec1c24"/>
<rect x="166.65" y="308.89" width="2.2" height="2.2" fill="#ec1c24"/>
<rect x="153.18" y="307.55" width="2.2" height="2.2" fill="#ec1c24"/>
<rect x="107.87" y="306.56" width="2.2" height="2.2" fill="#ec1c24"/>
<rect x="115.91" y="304.98" width="2.2" height="2.2" fill="#ec1c24"/>
<rect x="141.13" y="308" width="2.2" height="2.2" fill="#ec1c24"/>
<rect x="124.91" y="303.18" width="2.2" height="2.2" fill="#ec1c24"/>
<rect x="148.79" y="308.84" width="2.2" height="2.2" fill="#ec1c24"/>
<rect x="142.24" y="311.39" width="2.2" height="2.2" fill="#ec1c24"/>
<rect x="105.98" y="302.93" width="2.2" height="2.2" fill="#ec1c24"/>
<rect x="125.11" y="308.97" width="2.2" height="2.2" fill="#ec1c24"/>
<rect x="143.63" y="306.84" width="2.2" height="2.2" fill="#ec1c24"/>
<rect x="132.41" y="303.57" width="2.2" height="2.2" fill="#ec1c24"/>
<rect x="136.25" y="304.65" width="2.2" height="2.2" fill="#ec1c24"/>
<rect x="110.27" y="303.89" width="2.2" height="2.2" fill="#ec1c24"/>
<rect x="137.9" y="306.01" width="2.2" height="2.2" fill="#ec1c24"/>
<rect x="141.03" y="307.32" width="2.2" height="2.2" fill="#ec1c24"/>
<rect x="149.28" y="306.52" width="2.2" height="2.2" fill="#ec1c24"/>
<rect x="158.86" y="310.72" width="2.2" height="2.2" fill="#ec1c24"/>
<rect x="112.68" y="302.57" width="2.2" height="2.2" fill="#ec1c24"/>
<rect x="144.11" y="306.13" width="2.2" height="2.2" fill="#ec1c24"/>
<rect x="163.76" y="309.72" width="2.2" height="2.2" fill="#ec1c24"/>
<rect x="129.1" y="303.42" width="2.2" height="2.2" fill="#ec1c24"/>
<rect x="132.25" y="310.56" width="2.2" height="2.2" fill="#ec1c24"/>
<rect x="113.64" y="301.85" width="2.2" height="2.2" fill="#ec1c24"/>
<rect x="138.51" y="309.34" width="2.2" height="2.2" fill="#ec1c24"/>
<rect x="110.61" y="301.9" width="2.2" height="2.2" fill="#ec1c24"/>
<rect x="142.47" y="307.01" width="2.2" height="2.2" fill="#ec1c24"/>
<rect x="102.65" y="304.51" width="2.2" height="2.2" fill="#ec1c24"/>
<rect x="160.73" y="313.54" width="2.2" height="2.2" fill="#ec1c24"/>
<rect x="159.81" y="309.13" width="2.2" height="2.2" fill="#ec1c24"/>
<rect x="122.15" y="306.01" width="2.2" height="2.2" fill="#ec1c24"/>
<rect x="143.28" y="310.05" width="2.2" height="2.2" fill="#ec1c24"/>
<rect x="138.94" y="306.35" width="2.2" height="2.2" fill="#ec1c24"/>
<rect x="117.21" y="301.47" width="2.2" height="2.2" fill="#ec1c24"/>
<rect x="104.71" y="303.91" width="2.2" height="2.2" fill="#ec1c24"/>
<rect x="106.7" y="306.13" width="2.2" height="2.2" fill="#ec1c24"/>
<rect x="169.8" y="315.1" width="2.3" height="2.3" fill="#ec1c24"/>
<rect x="169.86" y="322.96" width="2.3" height="2.3" fill="#ec1c24"/>
<rect x="155.82" y="313.19" width="2.3" height="2.3" fill="#ec1c24"/>
<rect x="163.95" y="315.81" width="2.3" height="2.3" fill="#ec1c24"/>
<rect x="158.66" y="313.76" width="2.3" height="2.3" fill="#ec1c24"/>
<rect x="156.69" y="313.69" width="2.3" height="2.3" fill="#ec1c24"/>
<rect x="165.39" y="315.39" width="2.3" height="2.3" fill="#ec1c24"/>
<rect x="169.53" y="326.95" width="2.3" height="2.3" fill="#ec1c24"/>
<rect x="165.59" y="322.18" width="2.3" height="2.3" fill="#ec1c24"/>
<rect x="163.85" y="320.19" width="2.3" height="2.3" fill="#ec1c24"/>
<rect x="168.3" y="317.9" width="2.3" height="2.3" fill="#ec1c24"/>
<rect x="167.97" y="317.76" width="2.3" height="2.3" fill="#ec1c24"/>
<rect x="161.09" y="315.62" width="2.3" height="2.3" fill="#ec1c24"/>
<rect x="159.87" y="316.75" width="2.3" height="2.3" fill="#ec1c24"/>
<rect x="162.42" y="316.88" width="2.3" height="2.3" fill="#ec1c24"/>
<rect x="168.57" y="321.71" width="2.3" height="2.3" fill="#ec1c24"/>
<rect x="169.4" y="324.28" width="2.3" height="2.3" fill="#ec1c24"/>
<rect x="167.53" y="323.02" width="2.3" height="2.3" fill="#ec1c24"/>
<rect x="167.51" y="325.48" width="2.3" height="2.3" fill="#ec1c24"/>
<rect x="166.58" y="321.23" width="2.3" height="2.3" fill="#ec1c24"/>
<rect x="166.13" y="319.33" width="2.3" height="2.3" fill="#ec1c24"/>
<rect x="169.66" y="317.57" width="2.3" height="2.3" fill="#ec1c24"/>
<rect x="161.4" y="316.36" width="2.3" height="2.3" fill="#ec1c24"/>
<rect x="163.29" y="319.37" width="2.3" height="2.3" fill="#ec1c24"/>
<rect x="166.99" y="312.73" width="2.3" height="2.3" fill="#ec1c24"/>
<rect x="161.72" y="317.44" width="2.3" height="2.3" fill="#ec1c24"/>
<rect x="164.39" y="319.86" width="2.3" height="2.3" fill="#ec1c24"/>
<rect x="165.26" y="313.98" width="2.3" height="2.3" fill="#ec1c24"/>
<rect x="273.31" y="323.28" width="2.2" height="2.2" fill="#ec1c24"/>
<rect x="245.35" y="317.42" width="2.2" height="2.2" fill="#ec1c24"/>
<rect x="269.75" y="321.31" width="2.2" height="2.2" fill="#ec1c24"/>
<rect x="264.7" y="320.07" width="2.2" height="2.2" fill="#ec1c24"/>
<rect x="287.33" y="324.05" width="2.2" height="2.2" fill="#ec1c24"/>
<rect x="261.39" y="320.84" width="2.2" height="2.2" fill="#ec1c24"/>
<rect x="272.28" y="322.48" width="2.2" height="2.2" fill="#ec1c24"/>
<rect x="287.73" y="320.67" width="2.2" height="2.2" fill="#ec1c24"/>
<rect x="250.98" y="316.76" width="2.2" height="2.2" fill="#ec1c24"/>
<rect x="279.34" y="323.61" width="2.2" height="2.2" fill="#ec1c24"/>
<rect x="251.64" y="317.93" width="2.2" height="2.2" fill="#ec1c24"/>
<rect x="282.66" y="323.06" width="2.2" height="2.2" fill="#ec1c24"/>
<rect x="268.51" y="322.3" width="2.2" height="2.2" fill="#ec1c24"/>
<rect x="284.26" y="320.53" width="2.2" height="2.2" fill="#ec1c24"/>
<rect x="286.23" y="321.55" width="2.2" height="2.2" fill="#ec1c24"/>
<rect x="269.79" y="321.91" width="2.2" height="2.2" fill="#ec1c24"/>
<rect x="254.8" y="317.67" width="2.2" height="2.2" fill="#ec1c24"/>
<rect x="283.41" y="323.41" width="2.2" height="2.2" fill="#ec1c24"/>
<rect x="286.73" y="320.76" width="2.2" height="2.2" fill="#ec1c24"/>
<rect x="270.35" y="321.94" width="2.2" height="2.2" fill="#ec1c24"/>
<rect x="285.79" y="323.35" width="2.2" height="2.2" fill="#ec1c24"/>
<rect x="254.16" y="316.7" width="2.2" height="2.2" fill="#ec1c24"/>
<rect x="249.15" y="316.57" width="2.2" height="2.2" fill="#ec1c24"/>
<rect x="267.74" y="319.77" width="2.2" height="2.2" fill="#ec1c24"/>
<rect x="248.01" y="315.64" width="2.2" height="2.2" fill="#ec1c24"/>
<rect x="71.9" y="300.86" width="2.3" height="2.3" fill="#12127f"/>
<rect x="72.32" y="300.74" width="2.3" height="2.3" fill="#12127f"/>
<rect x="72.73" y="300.61" width="2.3" height="2.3" fill="#12127f"/>
<rect x="73.15" y="300.49" width="2.3" height="2.3" fill="#12127f"/>
<rect x="73.56" y="300.37" width="2.3" height="2.3" fill="#12127f"/>
<rect x="73.98" y="300.25" width="2.3" height="2.3" fill="#12127f"/>
<rect x="74.39" y="300.13" width="2.3" height="2.3" fill="#12127f"/>
<rect x="74.81" y="300.02" width="2.3" height="2.3" fill="#12127f"/>
<rect x="75.22" y="300.13" width="2.3" height="2.3" fill="#12127f"/>
<rect x="75.64" y="300.25" width="2.3" height="2.3" fill="#12127f"/>
<rect x="76.05" y="300.36" width="2.3" height="2.3" fill="#12127f"/>
<rect x="76.47" y="300.48" width="2.3" height="2.3" fill="#12127f"/>
<rect x="76.88" y="300.59" width="2.3" height="2.3" fill="#12127f"/>
<rect x="77.3" y="300.7" width="2.3" height="2.3" fill="#12127f"/>
<rect x="77.71" y="300.82" width="2.3" height="2.3" fill="#12127f"/>
<rect x="78.13" y="300.93" width="2.3" height="2.3" fill="#12127f"/>
<rect x="78.54" y="301.04" width="2.3" height="2.3" fill="#12127f"/>
<rect x="78.96" y="301.16" width="2.3" height="2.3" fill="#12127f"/>
<rect x="79.37" y="301.39" width="2.3" height="2.3" fill="#12127f"/>
<rect x="79.79" y="301.67" width="2.3" height="2.3" fill="#12127f"/>
<rect x="80.2" y="301.96" width="2.3" height="2.3" fill="#12127f"/>
<rect x="80.62" y="302.25" width="2.3" height="2.3" fill="#12127f"/>
<rect x="81.03" y="302.53" width="2.3" height="2.3" fill="#12127f"/>
<rect x="81.45" y="302.82" width="2.3" height="2.3" fill="#12127f"/>
<rect x="81.86" y="303.1" width="2.3" height="2.3" fill="#12127f"/>
<rect x="82.28" y="303.39" width="2.3" height="2.3" fill="#12127f"/>
<rect x="82.69" y="303.68" width="2.3" height="2.3" fill="#12127f"/>
<rect x="83.11" y="303.96" width="2.3" height="2.3" fill="#12127f"/>
<rect x="83.52" y="304.25" width="2.3" height="2.3" fill="#12127f"/>
<rect x="83.94" y="304.53" width="2.3" height="2.3" fill="#12127f"/>
<rect x="84.35" y="304.82" width="2.3" height="2.3" fill="#12127f"/>
<rect x="84.77" y="305.12" width="2.3" height="2.3" fill="#12127f"/>
<rect x="85.18" y="305.71" width="2.3" height="2.3" fill="#12127f"/>
<rect x="85.6" y="306.3" width="2.3" height="2.3" fill="#12127f"/>
<rect x="86.02" y="306.89" width="2.3" height="2.3" fill="#12127f"/>
<rect x="86.43" y="307.47" width="2.3" height="2.3" fill="#12127f"/>
<rect x="86.85" y="308.06" width="2.3" height="2.3" fill="#12127f"/>
<rect x="87.26" y="308.65" width="2.3" height="2.3" fill="#12127f"/>
<rect x="87.68" y="309.24" width="2.3" height="2.3" fill="#12127f"/>
<rect x="88.09" y="309.82" width="2.3" height="2.3" fill="#12127f"/>
<rect x="88.14" y="309.38" width="2.2" height="2.2" fill="#12127f"/>
<rect x="88.99" y="311.26" width="2.2" height="2.2" fill="#12127f"/>
<rect x="89.85" y="312.72" width="2.2" height="2.2" fill="#12127f"/>
<rect x="90.7" y="313.28" width="2.2" height="2.2" fill="#12127f"/>
<rect x="91.55" y="314.49" width="2.2" height="2.2" fill="#12127f"/>
<rect x="92.41" y="315.67" width="2.2" height="2.2" fill="#12127f"/>
<rect x="93.26" y="317.56" width="2.2" height="2.2" fill="#12127f"/>
<rect x="94.11" y="320.24" width="2.2" height="2.2" fill="#12127f"/>
<rect x="94.97" y="322.14" width="2.2" height="2.2" fill="#12127f"/>
<rect x="95.82" y="323.79" width="2.2" height="2.2" fill="#12127f"/>
<rect x="96.67" y="326.47" width="2.2" height="2.2" fill="#12127f"/>
<rect x="97.53" y="328.74" width="2.2" height="2.2" fill="#12127f"/>
<rect x="98.38" y="331.85" width="2.2" height="2.2" fill="#12127f"/>
<rect x="99.23" y="334.46" width="2.2" height="2.2" fill="#12127f"/>
<rect x="100.09" y="336.91" width="2.2" height="2.2" fill="#12127f"/>
<rect x="100.94" y="339.94" width="2.2" height="2.2" fill="#12127f"/>
<rect x="101.79" y="342.92" width="2.2" height="2.2" fill="#12127f"/>
<rect x="102.65" y="345.43" width="2.2" height="2.2" fill="#12127f"/>
<rect x="103.5" y="348.05" width="2.2" height="2.2" fill="#12127f"/>
<rect x="104.36" y="350.52" width="2.2" height="2.2" fill="#12127f"/>
<rect x="105.21" y="353.13" width="2.2" height="2.2" fill="#12127f"/>
<rect x="106.06" y="355.41" width="2.2" height="2.2" fill="#12127f"/>
<rect x="106.92" y="357.83" width="2.2" height="2.2" fill="#12127f"/>
<rect x="107.77" y="360.96" width="2.2" height="2.2" fill="#12127f"/>
<rect x="108.62" y="364.3" width="2.2" height="2.2" fill="#12127f"/>
<rect x="109.48" y="366.97" width="2.2" height="2.2" fill="#12127f"/>
<rect x="110.33" y="369.94" width="2.2" height="2.2" fill="#12127f"/>
<rect x="111.18" y="373.06" width="2.2" height="2.2" fill="#12127f"/>
<rect x="112.04" y="376.2" width="2.2" height="2.2" fill="#12127f"/>
<rect x="112.89" y="379.9" width="2.2" height="2.2" fill="#12127f"/>
<rect x="113.74" y="383.34" width="2.2" height="2.2" fill="#12127f"/>
<rect x="114.6" y="386.4" width="2.2" height="2.2" fill="#12127f"/>
<rect x="115.45" y="389.83" width="2.2" height="2.2" fill="#12127f"/>
<rect x="116.3" y="393.5" width="2.2" height="2.2" fill="#12127f"/>
<rect x="117.16" y="396.54" width="2.2" height="2.2" fill="#12127f"/>
<rect x="118.01" y="399.97" width="2.2" height="2.2" fill="#12127f"/>
<rect x="118.86" y="403.31" width="2.2" height="2.2" fill="#12127f"/>
<rect x="119.72" y="407.17" width="2.2" height="2.2" fill="#12127f"/>
<rect x="120.57" y="410.68" width="2.2" height="2.2" fill="#12127f"/>
<rect x="121.42" y="413.95" width="2.2" height="2.2" fill="#12127f"/>
<rect x="122.28" y="417.39" width="2.2" height="2.2" fill="#12127f"/>
<rect x="123.13" y="419.01" width="2.2" height="2.2" fill="#12127f"/>
<rect x="123.98" y="421.23" width="2.2" height="2.2" fill="#12127f"/>
<rect x="124.84" y="424.03" width="2.2" height="2.2" fill="#12127f"/>
<rect x="125.69" y="425.56" width="2.2" height="2.2" fill="#12127f"/>
<rect x="126.54" y="428.71" width="2.2" height="2.2" fill="#12127f"/>
<rect x="127.4" y="431.72" width="2.2" height="2.2" fill="#12127f"/>
<rect x="128.25" y="434.07" width="2.2" height="2.2" fill="#12127f"/>
<rect x="129.1" y="438.04" width="2.2" height="2.2" fill="#12127f"/>
<rect x="129.96" y="440.64" width="2.2" height="2.2" fill="#12127f"/>
<rect x="130.81" y="443.71" width="2.2" height="2.2" fill="#12127f"/>
<rect x="131.66" y="446.74" width="2.2" height="2.2" fill="#12127f"/>
<rect x="132.52" y="449.95" width="2.2" height="2.2" fill="#12127f"/>
<rect x="133.37" y="452.02" width="2.2" height="2.2" fill="#12127f"/>
<rect x="134.22" y="453.21" width="2.2" height="2.2" fill="#12127f"/>
<rect x="135.08" y="455.14" width="2.2" height="2.2" fill="#12127f"/>
<rect x="135.93" y="456.61" width="2.2" height="2.2" fill="#12127f"/>
<rect x="136.78" y="458.06" width="2.2" height="2.2" fill="#12127f"/>
<rect x="137.64" y="459.76" width="2.2" height="2.2" fill="#12127f"/>
<rect x="138.49" y="460.45" width="2.2" height="2.2" fill="#12127f"/>
<rect x="139.34" y="460.68" width="2.2" height="2.2" fill="#12127f"/>
<rect x="140.2" y="461.14" width="2.2" height="2.2" fill="#12127f"/>
<rect x="141.05" y="461.96" width="2.2" height="2.2" fill="#12127f"/>
<rect x="141.9" y="462.71" width="2.2" height="2.2" fill="#12127f"/>
<rect x="142.76" y="463.37" width="2.2" height="2.2" fill="#12127f"/>
<rect x="143.61" y="463.91" width="2.2" height="2.2" fill="#12127f"/>
<rect x="144.46" y="464.47" width="2.2" height="2.2" fill="#12127f"/>
<rect x="145.32" y="465.05" width="2.2" height="2.2" fill="#12127f"/>
<rect x="146.17" y="465.26" width="2.2" height="2.2" fill="#12127f"/>
<rect x="147.02" y="465.37" width="2.2" height="2.2" fill="#12127f"/>
<rect x="147.88" y="465.12" width="2.2" height="2.2" fill="#12127f"/>
<rect x="148.73" y="465.82" width="2.2" height="2.2" fill="#12127f"/>
<rect x="149.58" y="465.64" width="2.2" height="2.2" fill="#12127f"/>
<rect x="150.44" y="465.41" width="2.2" height="2.2" fill="#12127f"/>
<rect x="151.29" y="465.79" width="2.2" height="2.2" fill="#12127f"/>
<rect x="152.14" y="465.87" width="2.2" height="2.2" fill="#12127f"/>
<rect x="153" y="465.7" width="2.2" height="2.2" fill="#12127f"/>
<rect x="153.85" y="465.93" width="2.2" height="2.2" fill="#12127f"/>
<rect x="154.7" y="466.23" width="2.2" height="2.2" fill="#12127f"/>
<rect x="155.56" y="466.02" width="2.2" height="2.2" fill="#12127f"/>
<rect x="156.41" y="465.98" width="2.2" height="2.2" fill="#12127f"/>
<rect x="157.26" y="466.64" width="2.2" height="2.2" fill="#12127f"/>
<rect x="158.12" y="466.06" width="2.2" height="2.2" fill="#12127f"/>
<rect x="158.97" y="466.79" width="2.2" height="2.2" fill="#12127f"/>
<rect x="159.82" y="466.26" width="2.2" height="2.2" fill="#12127f"/>
<rect x="160.68" y="466.84" width="2.2" height="2.2" fill="#12127f"/>
<rect x="161.53" y="466.5" width="2.2" height="2.2" fill="#12127f"/>
<rect x="162.38" y="466.57" width="2.2" height="2.2" fill="#12127f"/>
<rect x="163.24" y="466.31" width="2.2" height="2.2" fill="#12127f"/>
<rect x="164.09" y="466.6" width="2.2" height="2.2" fill="#12127f"/>
<rect x="164.94" y="466.69" width="2.2" height="2.2" fill="#12127f"/>
<rect x="165.8" y="466.78" width="2.2" height="2.2" fill="#12127f"/>
<rect x="166.65" y="466.55" width="2.2" height="2.2" fill="#12127f"/>
<rect x="167.5" y="466.67" width="2.2" height="2.2" fill="#12127f"/>
<rect x="168.36" y="466.4" width="2.2" height="2.2" fill="#12127f"/>
<rect x="169.21" y="466.52" width="2.2" height="2.2" fill="#12127f"/>
<rect x="170.06" y="466.32" width="2.2" height="2.2" fill="#12127f"/>
<rect x="170.92" y="466.46" width="2.2" height="2.2" fill="#12127f"/>
<rect x="171.77" y="466.6" width="2.2" height="2.2" fill="#12127f"/>
<rect x="172.62" y="466.67" width="2.2" height="2.2" fill="#12127f"/>
<rect x="173.48" y="466.51" width="2.2" height="2.2" fill="#12127f"/>
<rect x="174.33" y="466.48" width="2.2" height="2.2" fill="#12127f"/>
<rect x="175.18" y="467.01" width="2.2" height="2.2" fill="#12127f"/>
<rect x="176.04" y="466.59" width="2.2" height="2.2" fill="#12127f"/>
<rect x="176.89" y="466.78" width="2.2" height="2.2" fill="#12127f"/>
<rect x="177.75" y="466.62" width="2.2" height="2.2" fill="#12127f"/>
<rect x="178.6" y="466.51" width="2.2" height="2.2" fill="#12127f"/>
<rect x="179.45" y="467.2" width="2.2" height="2.2" fill="#12127f"/>
<rect x="180.31" y="466.73" width="2.2" height="2.2" fill="#12127f"/>
<rect x="181.16" y="466.41" width="2.2" height="2.2" fill="#12127f"/>
<rect x="182.01" y="467.06" width="2.2" height="2.2" fill="#12127f"/>
<rect x="182.87" y="466.53" width="2.2" height="2.2" fill="#12127f"/>
<rect x="183.72" y="466.55" width="2.2" height="2.2" fill="#12127f"/>
<rect x="184.57" y="466.66" width="2.2" height="2.2" fill="#12127f"/>
<rect x="185.43" y="466.25" width="2.2" height="2.2" fill="#12127f"/>
<rect x="186.28" y="466.21" width="2.2" height="2.2" fill="#12127f"/>
<rect x="187.13" y="466.39" width="2.2" height="2.2" fill="#12127f"/>
<rect x="187.99" y="466.01" width="2.2" height="2.2" fill="#12127f"/>
<rect x="188.84" y="465.96" width="2.2" height="2.2" fill="#12127f"/>
<rect x="189.69" y="466.23" width="2.2" height="2.2" fill="#12127f"/>
<rect x="190.55" y="466.04" width="2.2" height="2.2" fill="#12127f"/>
<rect x="191.4" y="465.99" width="2.2" height="2.2" fill="#12127f"/>
<rect x="192.25" y="465.74" width="2.2" height="2.2" fill="#12127f"/>
<rect x="193.11" y="465.93" width="2.2" height="2.2" fill="#12127f"/>
<rect x="193.96" y="465.92" width="2.2" height="2.2" fill="#12127f"/>
<rect x="194.81" y="466.03" width="2.2" height="2.2" fill="#12127f"/>
<rect x="195.67" y="465.84" width="2.2" height="2.2" fill="#12127f"/>
<rect x="196.52" y="465.58" width="2.2" height="2.2" fill="#12127f"/>
<rect x="197.37" y="465.96" width="2.2" height="2.2" fill="#12127f"/>
<rect x="198.23" y="465.93" width="2.2" height="2.2" fill="#12127f"/>
<rect x="199.08" y="466.12" width="2.2" height="2.2" fill="#12127f"/>
<rect x="199.93" y="465.24" width="2.2" height="2.2" fill="#12127f"/>
<rect x="200.79" y="465.99" width="2.2" height="2.2" fill="#12127f"/>
<rect x="201.64" y="466.02" width="2.2" height="2.2" fill="#12127f"/>
<rect x="202.49" y="466.05" width="2.2" height="2.2" fill="#12127f"/>
<rect x="203.35" y="465.62" width="2.2" height="2.2" fill="#12127f"/>
<rect x="204.2" y="465.83" width="2.2" height="2.2" fill="#12127f"/>
<rect x="205.05" y="466.44" width="2.2" height="2.2" fill="#12127f"/>
<rect x="205.91" y="465.9" width="2.2" height="2.2" fill="#12127f"/>
<rect x="206.76" y="465.49" width="2.2" height="2.2" fill="#12127f"/>
<rect x="207.61" y="465.97" width="2.2" height="2.2" fill="#12127f"/>
<rect x="208.47" y="465.94" width="2.2" height="2.2" fill="#12127f"/>
<rect x="209.32" y="465.25" width="2.2" height="2.2" fill="#12127f"/>
<rect x="210.17" y="466.04" width="2.2" height="2.2" fill="#12127f"/>
<rect x="211.03" y="466.04" width="2.2" height="2.2" fill="#12127f"/>
<rect x="211.88" y="465.84" width="2.2" height="2.2" fill="#12127f"/>
<rect x="212.73" y="465.4" width="2.2" height="2.2" fill="#12127f"/>
<rect x="213.59" y="465.91" width="2.2" height="2.2" fill="#12127f"/>
<rect x="214.44" y="466.43" width="2.2" height="2.2" fill="#12127f"/>
<rect x="215.29" y="466.07" width="2.2" height="2.2" fill="#12127f"/>
<rect x="216.15" y="466.1" width="2.2" height="2.2" fill="#12127f"/>
<rect x="217" y="465.88" width="2.2" height="2.2" fill="#12127f"/>
<rect x="217.85" y="466.18" width="2.2" height="2.2" fill="#12127f"/>
<rect x="218.71" y="466.07" width="2.2" height="2.2" fill="#12127f"/>
<rect x="219.56" y="466.45" width="2.2" height="2.2" fill="#12127f"/>
<rect x="220.41" y="466.46" width="2.2" height="2.2" fill="#12127f"/>
<rect x="221.27" y="466.15" width="2.2" height="2.2" fill="#12127f"/>
<rect x="222.12" y="465.77" width="2.2" height="2.2" fill="#12127f"/>
<rect x="222.97" y="466.45" width="2.2" height="2.2" fill="#12127f"/>
<rect x="223.83" y="466.63" width="2.2" height="2.2" fill="#12127f"/>
<rect x="224.68" y="465.95" width="2.2" height="2.2" fill="#12127f"/>
<rect x="225.53" y="466.17" width="2.2" height="2.2" fill="#12127f"/>
<rect x="226.39" y="466.08" width="2.2" height="2.2" fill="#12127f"/>
<rect x="227.24" y="466.35" width="2.2" height="2.2" fill="#12127f"/>
<rect x="228.09" y="466.26" width="2.2" height="2.2" fill="#12127f"/>
<rect x="228.95" y="466.37" width="2.2" height="2.2" fill="#12127f"/>
<rect x="229.8" y="466.37" width="2.2" height="2.2" fill="#12127f"/>
<rect x="230.65" y="465.94" width="2.2" height="2.2" fill="#12127f"/>
<rect x="231.51" y="466.51" width="2.2" height="2.2" fill="#12127f"/>
<rect x="232.36" y="466.52" width="2.2" height="2.2" fill="#12127f"/>
<rect x="233.21" y="466.44" width="2.2" height="2.2" fill="#12127f"/>
<rect x="234.07" y="466.51" width="2.2" height="2.2" fill="#12127f"/>
<rect x="234.92" y="466.06" width="2.2" height="2.2" fill="#12127f"/>
<rect x="235.77" y="466.55" width="2.2" height="2.2" fill="#12127f"/>
<rect x="236.63" y="466.43" width="2.2" height="2.2" fill="#12127f"/>
<rect x="237.48" y="466.85" width="2.2" height="2.2" fill="#12127f"/>
<rect x="238.33" y="466.43" width="2.2" height="2.2" fill="#12127f"/>
<rect x="239.19" y="466.42" width="2.2" height="2.2" fill="#12127f"/>
<rect x="240.04" y="466.44" width="2.2" height="2.2" fill="#12127f"/>
<rect x="240.89" y="467.03" width="2.2" height="2.2" fill="#12127f"/>
<rect x="241.75" y="466.8" width="2.2" height="2.2" fill="#12127f"/>
<rect x="242.6" y="467.33" width="2.2" height="2.2" fill="#12127f"/>
<rect x="243.45" y="466.26" width="2.2" height="2.2" fill="#12127f"/>
<rect x="244.31" y="466.73" width="2.2" height="2.2" fill="#12127f"/>
<rect x="245.16" y="466.31" width="2.2" height="2.2" fill="#12127f"/>
<rect x="246.01" y="466.26" width="2.2" height="2.2" fill="#12127f"/>
<rect x="246.87" y="466.51" width="2.2" height="2.2" fill="#12127f"/>
<rect x="247.72" y="466.95" width="2.2" height="2.2" fill="#12127f"/>
<rect x="248.57" y="466.86" width="2.2" height="2.2" fill="#12127f"/>
<rect x="249.43" y="466.63" width="2.2" height="2.2" fill="#12127f"/>
<rect x="250.28" y="467.34" width="2.2" height="2.2" fill="#12127f"/>
<rect x="251.14" y="466.52" width="2.2" height="2.2" fill="#12127f"/>
<rect x="251.99" y="466.51" width="2.2" height="2.2" fill="#12127f"/>
<rect x="252.84" y="466.69" width="2.2" height="2.2" fill="#12127f"/>
<rect x="253.7" y="467.01" width="2.2" height="2.2" fill="#12127f"/>
<rect x="254.55" y="466.87" width="2.2" height="2.2" fill="#12127f"/>
<rect x="255.4" y="467.39" width="2.2" height="2.2" fill="#12127f"/>
<rect x="256.26" y="467.25" width="2.2" height="2.2" fill="#12127f"/>
<rect x="257.11" y="467.14" width="2.2" height="2.2" fill="#12127f"/>
<rect x="257.96" y="467.25" width="2.2" height="2.2" fill="#12127f"/>
<rect x="258.82" y="466.66" width="2.2" height="2.2" fill="#12127f"/>
<rect x="259.67" y="466.99" width="2.2" height="2.2" fill="#12127f"/>
<rect x="260.52" y="467.74" width="2.2" height="2.2" fill="#12127f"/>
<rect x="261.38" y="466.86" width="2.2" height="2.2" fill="#12127f"/>
<rect x="262.23" y="467.05" width="2.2" height="2.2" fill="#12127f"/>
<rect x="263.08" y="467.26" width="2.2" height="2.2" fill="#12127f"/>
<rect x="263.94" y="467.41" width="2.2" height="2.2" fill="#12127f"/>
<rect x="264.79" y="466.73" width="2.2" height="2.2" fill="#12127f"/>
<rect x="265.64" y="467.21" width="2.2" height="2.2" fill="#12127f"/>
<rect x="266.5" y="467.23" width="2.2" height="2.2" fill="#12127f"/>
<rect x="267.35" y="467.72" width="2.2" height="2.2" fill="#12127f"/>
<rect x="268.2" y="467.49" width="2.2" height="2.2" fill="#12127f"/>
<rect x="269.06" y="467.14" width="2.2" height="2.2" fill="#12127f"/>
<rect x="269.91" y="467.36" width="2.2" height="2.2" fill="#12127f"/>
<rect x="270.76" y="467.53" width="2.2" height="2.2" fill="#12127f"/>
<rect x="271.62" y="467.52" width="2.2" height="2.2" fill="#12127f"/>
<rect x="272.47" y="467.87" width="2.2" height="2.2" fill="#12127f"/>
<rect x="273.32" y="468.11" width="2.2" height="2.2" fill="#12127f"/>
<rect x="274.18" y="467.38" width="2.2" height="2.2" fill="#12127f"/>
<rect x="275.03" y="467.9" width="2.2" height="2.2" fill="#12127f"/>
<rect x="275.88" y="467.96" width="2.2" height="2.2" fill="#12127f"/>
<rect x="276.74" y="467.51" width="2.2" height="2.2" fill="#12127f"/>
<rect x="277.59" y="467.38" width="2.2" height="2.2" fill="#12127f"/>
<rect x="278.44" y="467.72" width="2.2" height="2.2" fill="#12127f"/>
<rect x="279.3" y="467.38" width="2.2" height="2.2" fill="#12127f"/>
<rect x="280.15" y="467.67" width="2.2" height="2.2" fill="#12127f"/>
<rect x="281" y="468.5" width="2.2" height="2.2" fill="#12127f"/>
<rect x="281.86" y="467.32" width="2.2" height="2.2" fill="#12127f"/>
<rect x="282.71" y="468.03" width="2.2" height="2.2" fill="#12127f"/>
<rect x="283.56" y="467.38" width="2.2" height="2.2" fill="#12127f"/>
<rect x="284.42" y="467.88" width="2.2" height="2.2" fill="#12127f"/>
<rect x="285.27" y="467.85" width="2.2" height="2.2" fill="#12127f"/>
<rect x="286.12" y="467.97" width="2.2" height="2.2" fill="#12127f"/>
<rect x="286.98" y="468.13" width="2.2" height="2.2" fill="#12127f"/>
<rect x="287.83" y="467.75" width="2.2" height="2.2" fill="#12127f"/>
<defs><linearGradient id="cyl" x1="0" y1="0" x2="1" y2="0"><stop offset="0" stop-color="#aeaba3"/><stop offset="0.12" stop-color="#c3c0b7"/><stop offset="0.5" stop-color="#cac7be"/><stop offset="0.88" stop-color="#c5c2b9"/><stop offset="1" stop-color="#acaaa2"/></linearGradient><linearGradient id="cylv" x1="0" y1="0" x2="0" y2="1"><stop offset="0" stop-color="#7f7f7a" stop-opacity="0.7"/><stop offset="0.12" stop-color="#ffffff" stop-opacity="0"/><stop offset="1" stop-color="#ffffff" stop-opacity="0"/></linearGradient></defs>
<rect x="55.3" y="272.05" width="251.45" height="201.15" fill="none" stroke="#4d4d4d" stroke-width="1.3"/>
<rect x="152" y="258.6" width="50.2" height="34.6" fill="#9f9e99"/>
<path d="M154.8,259.2 H200.2 V280 Q177.5,283.5 154.8,280.5 Z" fill="url(#cyl)"/>
<rect x="154.8" y="259.2" width="45.4" height="21" fill="url(#cylv)"/>
<rect x="152" y="258.6" width="50.2" height="1.6" fill="#7c7b77"/>
<path d="M154.8,281 Q177.5,284 200.2,280.5 L200.2,292.5 L154.8,292.5 Z" fill="#abaaa5"/>
<path d="M170.5,282 Q177,279.5 184,281.5 Q180,284.5 175,284 Z" fill="#2a2a2a"/>
<path d="M172,283.5 L176,288.5 L179,287 L177,283.5 Z" fill="#5c5c5c"/>
<ellipse cx="181" cy="288.8" rx="4.5" ry="2.3" fill="#c6c6c4"/>
<ellipse cx="185.3" cy="290" rx="2.2" ry="1.3" fill="#f2f2f2"/>
<line x1="165.6" y1="307.5" x2="165.6" y2="289" stroke="#ec1c24" stroke-width="1.7" stroke-linecap="butt"/>
<path d="M161.9,290 L165.6,282.6 L169.3,290 Z" fill="#ec1c24"/>
<line x1="73.05" y1="473.2" x2="73.05" y2="470.2" stroke="#4d4d4d" stroke-width="1.2" />
<text x="73.05" y="489.3" font-size="14.6" text-anchor="middle" fill="#1c1c1c" stroke="#1c1c1c" stroke-width="0.3" font-weight="normal" font-family="Liberation Sans, sans-serif" >0</text>
<line x1="109.03" y1="473.2" x2="109.03" y2="470.2" stroke="#4d4d4d" stroke-width="1.2" />
<text x="109.03" y="489.3" font-size="14.6" text-anchor="middle" fill="#1c1c1c" stroke="#1c1c1c" stroke-width="0.3" font-weight="normal" font-family="Liberation Sans, sans-serif" >10</text>
<line x1="145.01" y1="473.2" x2="145.01" y2="470.2" stroke="#4d4d4d" stroke-width="1.2" />
<text x="145.01" y="489.3" font-size="14.6" text-anchor="middle" fill="#1c1c1c" stroke="#1c1c1c" stroke-width="0.3" font-weight="normal" font-family="Liberation Sans, sans-serif" >20</text>
<line x1="180.99" y1="473.2" x2="180.99" y2="470.2" stroke="#4d4d4d" stroke-width="1.2" />
<text x="180.99" y="489.3" font-size="14.6" text-anchor="middle" fill="#1c1c1c" stroke="#1c1c1c" stroke-width="0.3" font-weight="normal" font-family="Liberation Sans, sans-serif" >30</text>
<line x1="216.97" y1="473.2" x2="216.97" y2="470.2" stroke="#4d4d4d" stroke-width="1.2" />
<text x="216.97" y="489.3" font-size="14.6" text-anchor="middle" fill="#1c1c1c" stroke="#1c1c1c" stroke-width="0.3" font-weight="normal" font-family="Liberation Sans, sans-serif" >40</text>
<line x1="252.95" y1="473.2" x2="252.95" y2="470.2" stroke="#4d4d4d" stroke-width="1.2" />
<text x="252.95" y="489.3" font-size="14.6" text-anchor="middle" fill="#1c1c1c" stroke="#1c1c1c" stroke-width="0.3" font-weight="normal" font-family="Liberation Sans, sans-serif" >50</text>
<line x1="288.93" y1="473.2" x2="288.93" y2="470.2" stroke="#4d4d4d" stroke-width="1.2" />
<text x="288.93" y="489.3" font-size="14.6" text-anchor="middle" fill="#1c1c1c" stroke="#1c1c1c" stroke-width="0.3" font-weight="normal" font-family="Liberation Sans, sans-serif" >60</text>
<line x1="55.3" y1="472.9" x2="58.3" y2="472.9" stroke="#4d4d4d" stroke-width="1.2" />
<text x="51" y="476.5" font-size="15" text-anchor="end" fill="#1c1c1c" stroke="#1c1c1c" stroke-width="0.3" font-weight="normal" font-family="Liberation Sans, sans-serif" >0</text>
<line x1="55.3" y1="439.06" x2="58.3" y2="439.06" stroke="#4d4d4d" stroke-width="1.2" />
<text x="51" y="442.66" font-size="15" text-anchor="end" fill="#1c1c1c" stroke="#1c1c1c" stroke-width="0.3" font-weight="normal" font-family="Liberation Sans, sans-serif" >20</text>
<line x1="55.3" y1="405.22" x2="58.3" y2="405.22" stroke="#4d4d4d" stroke-width="1.2" />
<text x="51" y="408.82" font-size="15" text-anchor="end" fill="#1c1c1c" stroke="#1c1c1c" stroke-width="0.3" font-weight="normal" font-family="Liberation Sans, sans-serif" >40</text>
<line x1="55.3" y1="371.38" x2="58.3" y2="371.38" stroke="#4d4d4d" stroke-width="1.2" />
<text x="51" y="374.98" font-size="15" text-anchor="end" fill="#1c1c1c" stroke="#1c1c1c" stroke-width="0.3" font-weight="normal" font-family="Liberation Sans, sans-serif" >60</text>
<line x1="55.3" y1="337.54" x2="58.3" y2="337.54" stroke="#4d4d4d" stroke-width="1.2" />
<text x="51" y="341.14" font-size="15" text-anchor="end" fill="#1c1c1c" stroke="#1c1c1c" stroke-width="0.3" font-weight="normal" font-family="Liberation Sans, sans-serif" >80</text>
<line x1="55.3" y1="303.7" x2="58.3" y2="303.7" stroke="#4d4d4d" stroke-width="1.2" />
<text x="51" y="307.3" font-size="15" text-anchor="end" fill="#1c1c1c" stroke="#1c1c1c" stroke-width="0.3" font-weight="normal" font-family="Liberation Sans, sans-serif" >100</text>
<text x="62.3" y="288.3" font-size="13.5" fill="#1c1c1c" stroke="#1c1c1c" stroke-width="0.3" font-family="Liberation Sans, sans-serif"><tspan font-weight="bold">(c)</tspan> 1.73 V<tspan font-size="10" dy="3">RHE</tspan></text>
<text x="180" y="515" font-size="16" text-anchor="middle" fill="#1c1c1c" stroke="#1c1c1c" stroke-width="0.3" font-weight="normal" font-family="Liberation Sans, sans-serif" >Time (min)</text>
<text transform="translate(18,361.3) rotate(-90)" font-size="16" text-anchor="middle" fill="#1c1c1c" stroke="#1c1c1c" stroke-width="0.3" font-family="Liberation Sans, sans-serif"><tspan font-family="Liberation Serif, serif" font-style="italic" font-weight="normal" font-size="18">i</tspan><tspan font-family="Liberation Serif, serif" font-style="italic" font-size="18"> / </tspan><tspan font-family="Liberation Serif, serif" font-style="italic" font-weight="normal" font-size="18">i</tspan><tspan font-size="10.5" dy="3">0</tspan><tspan dy="-3"> (%)</tspan></text>
<text transform="translate(222,298.5)" font-size="12.8" text-anchor="start" fill="#ec1c24" stroke="#ec1c24" stroke-width="0.25" font-weight="normal" font-family="Liberation Sans, sans-serif"><tspan font-weight="bold">RuO</tspan><tspan font-weight="bold" font-size="8.8" dy="2.5">2</tspan><tspan font-weight="bold" dy="-2.5">@C</tspan> (28)</text>
<rect x="280" y="322" width="8" height="11" fill="#fff"/>
<text transform="translate(279.5,332.3)" font-size="13.3" text-anchor="start" fill="#15821a" stroke="#15821a" stroke-width="0.25" font-weight="normal" font-family="Liberation Sans, sans-serif"><tspan font-family="Liberation Serif, serif" font-style="italic" font-weight="bold" font-size="14.5">x</tspan><tspan font-weight="bold">-</tspan><tspan font-weight="bold">RuO</tspan><tspan font-weight="bold" font-size="9" dy="2.5">2</tspan><tspan dy="-2.5">(22)</tspan></text>
<text transform="translate(225,368)" font-size="13.3" text-anchor="start" fill="#f7941d" stroke="#f7941d" stroke-width="0.25" font-weight="normal" font-family="Liberation Sans, sans-serif"><tspan font-family="Liberation Serif, serif" font-style="italic" font-weight="bold" font-size="14.5">ah</tspan><tspan font-weight="bold">-</tspan><tspan font-weight="bold">RuO</tspan><tspan font-weight="bold" font-size="9" dy="2.5">2</tspan><tspan dy="-2.5"> (15)</tspan></text>
<text transform="translate(197,418)" font-size="13" text-anchor="start" fill="#8a8a8a" stroke="#8a8a8a" stroke-width="0.25" font-weight="normal" font-family="Liberation Sans, sans-serif"><tspan font-weight="bold" fill="#7a7a7a">Pt/C</tspan> (3.8)</text>
<text transform="translate(218.7,457.3)" font-size="12.8" text-anchor="start" fill="#12127f" stroke="#12127f" stroke-width="0.25" font-weight="normal" font-family="Liberation Sans, sans-serif"><tspan font-family="Liberation Serif, serif" font-style="italic" font-weight="bold" font-size="14">h</tspan><tspan font-weight="bold">-</tspan><tspan font-weight="bold">RuO</tspan><tspan font-weight="bold" font-size="8.5" dy="2.5">2</tspan><tspan dy="-2.5"> (15)</tspan></text>
<line x1="383" y1="296" x2="383.2" y2="368" stroke="#8a8a8a" stroke-width="1.6" />
<rect x="385.77" y="432.32" width="3" height="3" fill="#ec1c24"/>
<rect x="390.47" y="430.12" width="3" height="3" fill="#ec1c24"/>
<rect x="395.18" y="428.57" width="3" height="3" fill="#ec1c24"/>
<rect x="399.88" y="427.92" width="3" height="3" fill="#ec1c24"/>
<rect x="404.59" y="427.53" width="3" height="3" fill="#ec1c24"/>
<rect x="409.29" y="427.54" width="3" height="3" fill="#ec1c24"/>
<rect x="414" y="428.11" width="3" height="3" fill="#ec1c24"/>
<rect x="418.7" y="426.61" width="3" height="3" fill="#ec1c24"/>
<rect x="423.41" y="427.55" width="3" height="3" fill="#ec1c24"/>
<rect x="428.11" y="427.41" width="3" height="3" fill="#ec1c24"/>
<rect x="432.82" y="426.86" width="3" height="3" fill="#ec1c24"/>
<rect x="437.52" y="426.65" width="3" height="3" fill="#ec1c24"/>
<rect x="442.23" y="426.87" width="3" height="3" fill="#ec1c24"/>
<rect x="446.93" y="427.21" width="3" height="3" fill="#ec1c24"/>
<rect x="451.64" y="427.22" width="3" height="3" fill="#ec1c24"/>
<rect x="456.34" y="426.78" width="3" height="3" fill="#ec1c24"/>
<rect x="461.05" y="427.58" width="3" height="3" fill="#ec1c24"/>
<rect x="465.75" y="426.43" width="3" height="3" fill="#ec1c24"/>
<rect x="470.46" y="426.67" width="3" height="3" fill="#ec1c24"/>
<rect x="475.16" y="426.82" width="3" height="3" fill="#ec1c24"/>
<rect x="479.87" y="426.39" width="3" height="3" fill="#ec1c24"/>
<rect x="484.58" y="426.38" width="3" height="3" fill="#ec1c24"/>
<rect x="489.28" y="429.42" width="3" height="3" fill="#ec1c24"/>
<rect x="493.99" y="428.47" width="3" height="3" fill="#ec1c24"/>
<rect x="498.69" y="428.65" width="3" height="3" fill="#ec1c24"/>
<rect x="503.4" y="427.45" width="3" height="3" fill="#ec1c24"/>
<rect x="508.1" y="427.3" width="3" height="3" fill="#ec1c24"/>
<rect x="512.81" y="427.06" width="3" height="3" fill="#ec1c24"/>
<rect x="517.51" y="427.05" width="3" height="3" fill="#ec1c24"/>
<rect x="522.22" y="426.95" width="3" height="3" fill="#ec1c24"/>
<rect x="526.92" y="426.27" width="3" height="3" fill="#ec1c24"/>
<rect x="531.63" y="426.16" width="3" height="3" fill="#ec1c24"/>
<rect x="536.33" y="425.4" width="3" height="3" fill="#ec1c24"/>
<rect x="541.04" y="424.88" width="3" height="3" fill="#ec1c24"/>
<rect x="545.74" y="424.44" width="3" height="3" fill="#ec1c24"/>
<rect x="550.45" y="423.24" width="3" height="3" fill="#ec1c24"/>
<rect x="555.15" y="423.52" width="3" height="3" fill="#ec1c24"/>
<rect x="559.86" y="422.94" width="3" height="3" fill="#ec1c24"/>
<rect x="564.56" y="421.66" width="3" height="3" fill="#ec1c24"/>
<rect x="569.27" y="421.5" width="3" height="3" fill="#ec1c24"/>
<rect x="573.97" y="420.88" width="3" height="3" fill="#ec1c24"/>
<rect x="578.68" y="420.81" width="3" height="3" fill="#ec1c24"/>
<rect x="583.38" y="419.9" width="3" height="3" fill="#ec1c24"/>
<rect x="588.09" y="418.99" width="3" height="3" fill="#ec1c24"/>
<rect x="592.8" y="419.16" width="3" height="3" fill="#ec1c24"/>
<rect x="597.5" y="418.74" width="3" height="3" fill="#ec1c24"/>
<rect x="602.21" y="418.16" width="3" height="3" fill="#ec1c24"/>
<rect x="606.91" y="418.15" width="3" height="3" fill="#ec1c24"/>
<rect x="611.62" y="417.63" width="3" height="3" fill="#ec1c24"/>
<rect x="616.32" y="418.34" width="3" height="3" fill="#ec1c24"/>
<circle cx="384.29" cy="426.68" r="1.3" fill="none" stroke="#15821a" stroke-width="0.9"/>
<circle cx="386.32" cy="425.19" r="1.3" fill="none" stroke="#15821a" stroke-width="0.9"/>
<circle cx="388.35" cy="423.97" r="1.3" fill="none" stroke="#15821a" stroke-width="0.9"/>
<circle cx="390.38" cy="424.07" r="1.3" fill="none" stroke="#15821a" stroke-width="0.9"/>
<circle cx="392.41" cy="424.28" r="1.3" fill="none" stroke="#15821a" stroke-width="0.9"/>
<circle cx="394.44" cy="421.93" r="1.3" fill="none" stroke="#15821a" stroke-width="0.9"/>
<circle cx="396.47" cy="421.73" r="1.3" fill="none" stroke="#15821a" stroke-width="0.9"/>
<circle cx="398.5" cy="422.19" r="1.3" fill="none" stroke="#15821a" stroke-width="0.9"/>
<circle cx="400.53" cy="421.8" r="1.3" fill="none" stroke="#15821a" stroke-width="0.9"/>
<circle cx="402.56" cy="421.37" r="1.3" fill="none" stroke="#15821a" stroke-width="0.9"/>
<circle cx="404.59" cy="420.22" r="1.3" fill="none" stroke="#15821a" stroke-width="0.9"/>
<circle cx="406.62" cy="419.91" r="1.3" fill="none" stroke="#15821a" stroke-width="0.9"/>
<circle cx="408.65" cy="419.62" r="1.3" fill="none" stroke="#15821a" stroke-width="0.9"/>
<circle cx="410.68" cy="418.57" r="1.3" fill="none" stroke="#15821a" stroke-width="0.9"/>
<circle cx="412.71" cy="419.21" r="1.3" fill="none" stroke="#15821a" stroke-width="0.9"/>
<circle cx="414.74" cy="418.95" r="1.3" fill="none" stroke="#15821a" stroke-width="0.9"/>
<circle cx="416.77" cy="417.91" r="1.3" fill="none" stroke="#15821a" stroke-width="0.9"/>
<circle cx="418.8" cy="417.5" r="1.3" fill="none" stroke="#15821a" stroke-width="0.9"/>
<circle cx="420.83" cy="416.98" r="1.3" fill="none" stroke="#15821a" stroke-width="0.9"/>
<circle cx="422.86" cy="416.38" r="1.3" fill="none" stroke="#15821a" stroke-width="0.9"/>
<circle cx="424.89" cy="416.5" r="1.3" fill="none" stroke="#15821a" stroke-width="0.9"/>
<circle cx="426.92" cy="414.07" r="1.3" fill="none" stroke="#15821a" stroke-width="0.9"/>
<circle cx="428.95" cy="414.87" r="1.3" fill="none" stroke="#15821a" stroke-width="0.9"/>
<circle cx="430.98" cy="412.94" r="1.3" fill="none" stroke="#15821a" stroke-width="0.9"/>
<circle cx="433.01" cy="412.06" r="1.3" fill="none" stroke="#15821a" stroke-width="0.9"/>
<circle cx="435.04" cy="410.94" r="1.3" fill="none" stroke="#15821a" stroke-width="0.9"/>
<circle cx="437.07" cy="410.37" r="1.3" fill="none" stroke="#15821a" stroke-width="0.9"/>
<circle cx="439.1" cy="410.01" r="1.3" fill="none" stroke="#15821a" stroke-width="0.9"/>
<circle cx="442.67" cy="398.36" r="1.5" fill="none" stroke="#15821a" stroke-width="0.9"/>
<circle cx="445.3" cy="382.1" r="1.5" fill="none" stroke="#15821a" stroke-width="0.9"/>
<path d="M449,374 Q455,368 467,366 L468,369.5 Q457,371 450,376 Z" fill="#15821a"/>
<path d="M464.4,369.9 L479.6,343.4 L482,369.9 Z" fill="#148414"/>
<circle cx="463.78" cy="367.59" r="1.3" fill="none" stroke="#15821a" stroke-width="0.9"/>
<circle cx="465.19" cy="366.01" r="1.3" fill="none" stroke="#15821a" stroke-width="0.9"/>
<circle cx="465.37" cy="365.19" r="1.3" fill="none" stroke="#15821a" stroke-width="0.9"/>
<circle cx="467.64" cy="361.92" r="1.3" fill="none" stroke="#15821a" stroke-width="0.9"/>
<circle cx="470.36" cy="359.31" r="1.3" fill="none" stroke="#15821a" stroke-width="0.9"/>
<circle cx="470.54" cy="356.39" r="1.3" fill="none" stroke="#15821a" stroke-width="0.9"/>
<circle cx="471.69" cy="354.35" r="1.3" fill="none" stroke="#15821a" stroke-width="0.9"/>
<circle cx="473.48" cy="352.98" r="1.3" fill="none" stroke="#15821a" stroke-width="0.9"/>
<circle cx="475.11" cy="351.13" r="1.3" fill="none" stroke="#15821a" stroke-width="0.9"/>
<circle cx="476.63" cy="348.1" r="1.3" fill="none" stroke="#15821a" stroke-width="0.9"/>
<circle cx="475.6" cy="345.59" r="1.3" fill="none" stroke="#15821a" stroke-width="0.9"/>
<circle cx="480.1" cy="353.91" r="0.7" fill="#55a855"/>
<circle cx="474.92" cy="368.31" r="0.7" fill="#55a855"/>
<circle cx="472.62" cy="366.9" r="0.7" fill="#55a855"/>
<circle cx="471.68" cy="366.97" r="0.7" fill="#55a855"/>
<circle cx="479.63" cy="343.4" r="1.3" fill="none" stroke="#15821a" stroke-width="0.9"/>
<circle cx="480.06" cy="346.52" r="1.3" fill="none" stroke="#15821a" stroke-width="0.9"/>
<circle cx="480.91" cy="349.65" r="1.3" fill="none" stroke="#15821a" stroke-width="0.9"/>
<circle cx="481.18" cy="352.77" r="1.3" fill="none" stroke="#15821a" stroke-width="0.9"/>
<circle cx="481.68" cy="355.9" r="1.3" fill="none" stroke="#15821a" stroke-width="0.9"/>
<circle cx="481.02" cy="359.02" r="1.3" fill="none" stroke="#15821a" stroke-width="0.9"/>
<circle cx="481.58" cy="362.15" r="1.3" fill="none" stroke="#15821a" stroke-width="0.9"/>
<circle cx="481.9" cy="365.27" r="1.3" fill="none" stroke="#15821a" stroke-width="0.9"/>
<circle cx="464.46" cy="368.33" r="1.3" fill="none" stroke="#15821a" stroke-width="0.9"/>
<circle cx="467.33" cy="368.49" r="1.3" fill="none" stroke="#15821a" stroke-width="0.9"/>
<circle cx="470.51" cy="365.66" r="1.3" fill="none" stroke="#15821a" stroke-width="0.9"/>
<circle cx="472.14" cy="362.49" r="1.3" fill="none" stroke="#15821a" stroke-width="0.9"/>
<circle cx="474.28" cy="357.26" r="1.3" fill="none" stroke="#15821a" stroke-width="0.9"/>
<circle cx="477.97" cy="352.24" r="1.3" fill="none" stroke="#15821a" stroke-width="0.9"/>
<path d="M488,369.9 L500.4,346 L502.7,369.9 Z" fill="#148414"/>
<circle cx="487.59" cy="367.35" r="1.3" fill="none" stroke="#15821a" stroke-width="0.9"/>
<circle cx="488.52" cy="365.56" r="1.3" fill="none" stroke="#15821a" stroke-width="0.9"/>
<circle cx="488.53" cy="363.31" r="1.3" fill="none" stroke="#15821a" stroke-width="0.9"/>
<circle cx="491.08" cy="361.62" r="1.3" fill="none" stroke="#15821a" stroke-width="0.9"/>
<circle cx="491.12" cy="359.83" r="1.3" fill="none" stroke="#15821a" stroke-width="0.9"/>
<circle cx="493.5" cy="356.53" r="1.3" fill="none" stroke="#15821a" stroke-width="0.9"/>
<circle cx="496.02" cy="354.55" r="1.3" fill="none" stroke="#15821a" stroke-width="0.9"/>
<circle cx="496.36" cy="353.64" r="1.3" fill="none" stroke="#15821a" stroke-width="0.9"/>
<circle cx="497.48" cy="350.43" r="1.3" fill="none" stroke="#15821a" stroke-width="0.9"/>
<circle cx="499.35" cy="347.99" r="1.3" fill="none" stroke="#15821a" stroke-width="0.9"/>
<circle cx="498.57" cy="362.32" r="0.7" fill="#55a855"/>
<circle cx="494.15" cy="363.92" r="0.7" fill="#55a855"/>
<circle cx="501.01" cy="352.18" r="0.7" fill="#55a855"/>
<circle cx="500.65" cy="346" r="1.3" fill="none" stroke="#15821a" stroke-width="0.9"/>
<circle cx="500.94" cy="349.2" r="1.3" fill="none" stroke="#15821a" stroke-width="0.9"/>
<circle cx="500.48" cy="352.4" r="1.3" fill="none" stroke="#15821a" stroke-width="0.9"/>
<circle cx="501.8" cy="355.6" r="1.3" fill="none" stroke="#15821a" stroke-width="0.9"/>
<circle cx="501.62" cy="358.8" r="1.3" fill="none" stroke="#15821a" stroke-width="0.9"/>
<circle cx="500.82" cy="362" r="1.3" fill="none" stroke="#15821a" stroke-width="0.9"/>
<circle cx="502.71" cy="365.2" r="1.3" fill="none" stroke="#15821a" stroke-width="0.9"/>
<circle cx="487.56" cy="368.33" r="1.3" fill="none" stroke="#15821a" stroke-width="0.9"/>
<circle cx="489.58" cy="366.68" r="1.3" fill="none" stroke="#15821a" stroke-width="0.9"/>
<circle cx="492.9" cy="365.81" r="1.3" fill="none" stroke="#15821a" stroke-width="0.9"/>
<circle cx="494.75" cy="361.11" r="1.3" fill="none" stroke="#15821a" stroke-width="0.9"/>
<path d="M505,369.9 L513,354.5 L515.3,369.9 Z" fill="#148414"/>
<circle cx="504.64" cy="368.11" r="1.3" fill="none" stroke="#15821a" stroke-width="0.9"/>
<circle cx="504.59" cy="366.52" r="1.3" fill="none" stroke="#15821a" stroke-width="0.9"/>
<circle cx="508.43" cy="363.78" r="1.3" fill="none" stroke="#15821a" stroke-width="0.9"/>
<circle cx="508.08" cy="361.94" r="1.3" fill="none" stroke="#15821a" stroke-width="0.9"/>
<circle cx="510.68" cy="358.88" r="1.3" fill="none" stroke="#15821a" stroke-width="0.9"/>
<circle cx="510.88" cy="357.17" r="1.3" fill="none" stroke="#15821a" stroke-width="0.9"/>
<circle cx="515.1" cy="367" r="0.7" fill="#55a855"/>
<circle cx="512.85" cy="354.5" r="1.3" fill="none" stroke="#15821a" stroke-width="0.9"/>
<circle cx="513.42" cy="357.98" r="1.3" fill="none" stroke="#15821a" stroke-width="0.9"/>
<circle cx="513.67" cy="361.45" r="1.3" fill="none" stroke="#15821a" stroke-width="0.9"/>
<circle cx="515.1" cy="364.92" r="1.3" fill="none" stroke="#15821a" stroke-width="0.9"/>
<circle cx="504.73" cy="368.03" r="1.3" fill="none" stroke="#15821a" stroke-width="0.9"/>
<circle cx="507.69" cy="367.48" r="1.3" fill="none" stroke="#15821a" stroke-width="0.9"/>
<circle cx="509.64" cy="363.65" r="1.3" fill="none" stroke="#15821a" stroke-width="0.9"/>
<path d="M517.8,369.9 L525,355 L527.1,369.9 Z" fill="#148414"/>
<circle cx="517.2" cy="368.49" r="1.3" fill="none" stroke="#15821a" stroke-width="0.9"/>
<circle cx="518.41" cy="365.92" r="1.3" fill="none" stroke="#15821a" stroke-width="0.9"/>
<circle cx="518.01" cy="363.58" r="1.3" fill="none" stroke="#15821a" stroke-width="0.9"/>
<circle cx="521.74" cy="361.51" r="1.3" fill="none" stroke="#15821a" stroke-width="0.9"/>
<circle cx="522.23" cy="359.84" r="1.3" fill="none" stroke="#15821a" stroke-width="0.9"/>
<circle cx="522.61" cy="357.28" r="1.3" fill="none" stroke="#15821a" stroke-width="0.9"/>
<circle cx="520.84" cy="366.62" r="0.7" fill="#55a855"/>
<circle cx="524.9" cy="355" r="1.3" fill="none" stroke="#15821a" stroke-width="0.9"/>
<circle cx="525.61" cy="358.35" r="1.3" fill="none" stroke="#15821a" stroke-width="0.9"/>
<circle cx="526.06" cy="361.7" r="1.3" fill="none" stroke="#15821a" stroke-width="0.9"/>
<circle cx="526.29" cy="365.05" r="1.3" fill="none" stroke="#15821a" stroke-width="0.9"/>
<circle cx="518.14" cy="369.08" r="1.3" fill="none" stroke="#15821a" stroke-width="0.9"/>
<circle cx="519.49" cy="367.01" r="1.3" fill="none" stroke="#15821a" stroke-width="0.9"/>
<path d="M528.2,369.9 L534.4,358 L536.5,369.9 Z" fill="#148414"/>
<circle cx="528.85" cy="367.76" r="1.3" fill="none" stroke="#15821a" stroke-width="0.9"/>
<circle cx="530.18" cy="365.68" r="1.3" fill="none" stroke="#15821a" stroke-width="0.9"/>
<circle cx="530.57" cy="362.58" r="1.3" fill="none" stroke="#15821a" stroke-width="0.9"/>
<circle cx="532.49" cy="359.86" r="1.3" fill="none" stroke="#15821a" stroke-width="0.9"/>
<circle cx="534.53" cy="358" r="1.3" fill="none" stroke="#15821a" stroke-width="0.9"/>
<circle cx="534.95" cy="361.47" r="1.3" fill="none" stroke="#15821a" stroke-width="0.9"/>
<circle cx="535.42" cy="364.93" r="1.3" fill="none" stroke="#15821a" stroke-width="0.9"/>
<circle cx="527.27" cy="368.26" r="1.3" fill="none" stroke="#15821a" stroke-width="0.9"/>
<circle cx="530.56" cy="366.52" r="1.3" fill="none" stroke="#15821a" stroke-width="0.9"/>
<path d="M538.5,369.9 L543.7,360.7 L545.8,369.9 Z" fill="#148414"/>
<circle cx="538.36" cy="368.76" r="1.3" fill="none" stroke="#15821a" stroke-width="0.9"/>
<circle cx="540.39" cy="365.65" r="1.3" fill="none" stroke="#15821a" stroke-width="0.9"/>
<circle cx="542.78" cy="362.2" r="1.3" fill="none" stroke="#15821a" stroke-width="0.9"/>
<circle cx="543.58" cy="360.7" r="1.3" fill="none" stroke="#15821a" stroke-width="0.9"/>
<circle cx="544.39" cy="364.55" r="1.3" fill="none" stroke="#15821a" stroke-width="0.9"/>
<circle cx="538.48" cy="367.69" r="1.3" fill="none" stroke="#15821a" stroke-width="0.9"/>
<circle cx="541.56" cy="366.59" r="1.3" fill="none" stroke="#15821a" stroke-width="0.9"/>
<path d="M561.4,369.9 L565.5,361 L567,369.9 Z" fill="#148414"/>
<circle cx="560.2" cy="367.71" r="1.3" fill="none" stroke="#15821a" stroke-width="0.9"/>
<circle cx="561.97" cy="365.66" r="1.3" fill="none" stroke="#15821a" stroke-width="0.9"/>
<circle cx="562.96" cy="363.2" r="1.3" fill="none" stroke="#15821a" stroke-width="0.9"/>
<circle cx="565.21" cy="361" r="1.3" fill="none" stroke="#15821a" stroke-width="0.9"/>
<circle cx="565.63" cy="364.7" r="1.3" fill="none" stroke="#15821a" stroke-width="0.9"/>
<circle cx="561.53" cy="368.96" r="1.3" fill="none" stroke="#15821a" stroke-width="0.9"/>
<path d="M569.7,369.9 L572.8,362 L574.9,369.9 Z" fill="#148414"/>
<circle cx="569.13" cy="369.93" r="1.3" fill="none" stroke="#15821a" stroke-width="0.9"/>
<circle cx="569.99" cy="365.24" r="1.3" fill="none" stroke="#15821a" stroke-width="0.9"/>
<circle cx="573.48" cy="362" r="1.3" fill="none" stroke="#15821a" stroke-width="0.9"/>
<circle cx="573.7" cy="365.2" r="1.3" fill="none" stroke="#15821a" stroke-width="0.9"/>
<circle cx="570.07" cy="367.85" r="1.3" fill="none" stroke="#15821a" stroke-width="0.9"/>
<circle cx="486.01" cy="368.17" r="1.3" fill="none" stroke="#15821a" stroke-width="0.9"/>
<circle cx="527" cy="368.64" r="1.3" fill="none" stroke="#15821a" stroke-width="0.9"/>
<circle cx="534.64" cy="366.2" r="1.3" fill="none" stroke="#15821a" stroke-width="0.9"/>
<circle cx="546.9" cy="368.68" r="1.3" fill="none" stroke="#15821a" stroke-width="0.9"/>
<circle cx="491.88" cy="368.92" r="1.3" fill="none" stroke="#15821a" stroke-width="0.9"/>
<circle cx="544.38" cy="369.49" r="1.3" fill="none" stroke="#15821a" stroke-width="0.9"/>
<circle cx="528.44" cy="367.58" r="1.3" fill="none" stroke="#15821a" stroke-width="0.9"/>
<circle cx="568.67" cy="368.43" r="1.3" fill="none" stroke="#15821a" stroke-width="0.9"/>
<circle cx="555.91" cy="369.29" r="1.3" fill="none" stroke="#15821a" stroke-width="0.9"/>
<circle cx="504.52" cy="368.68" r="1.3" fill="none" stroke="#15821a" stroke-width="0.9"/>
<circle cx="554.39" cy="367.08" r="1.3" fill="none" stroke="#15821a" stroke-width="0.9"/>
<circle cx="611.68" cy="368.71" r="1.3" fill="none" stroke="#15821a" stroke-width="0.9"/>
<circle cx="578.3" cy="367.7" r="1.3" fill="none" stroke="#15821a" stroke-width="0.9"/>
<circle cx="483.97" cy="367.76" r="1.3" fill="none" stroke="#15821a" stroke-width="0.9"/>
<circle cx="576.56" cy="368.66" r="1.3" fill="none" stroke="#15821a" stroke-width="0.9"/>
<circle cx="554.6" cy="369.14" r="1.3" fill="none" stroke="#15821a" stroke-width="0.9"/>
<circle cx="506.72" cy="369.06" r="1.3" fill="none" stroke="#15821a" stroke-width="0.9"/>
<circle cx="612.91" cy="367.64" r="1.3" fill="none" stroke="#15821a" stroke-width="0.9"/>
<circle cx="470.34" cy="367.71" r="1.3" fill="none" stroke="#15821a" stroke-width="0.9"/>
<circle cx="553.24" cy="368.56" r="1.3" fill="none" stroke="#15821a" stroke-width="0.9"/>
<circle cx="564.22" cy="366.8" r="1.3" fill="none" stroke="#15821a" stroke-width="0.9"/>
<circle cx="533.12" cy="367.37" r="1.3" fill="none" stroke="#15821a" stroke-width="0.9"/>
<circle cx="522.56" cy="368.4" r="1.3" fill="none" stroke="#15821a" stroke-width="0.9"/>
<circle cx="507.33" cy="367.38" r="1.3" fill="none" stroke="#15821a" stroke-width="0.9"/>
<circle cx="605.23" cy="368.45" r="1.3" fill="none" stroke="#15821a" stroke-width="0.9"/>
<circle cx="547.7" cy="368.71" r="1.3" fill="none" stroke="#15821a" stroke-width="0.9"/>
<circle cx="603.58" cy="369.3" r="1.3" fill="none" stroke="#15821a" stroke-width="0.9"/>
<circle cx="558.6" cy="367.23" r="1.3" fill="none" stroke="#15821a" stroke-width="0.9"/>
<circle cx="543.66" cy="368.28" r="1.3" fill="none" stroke="#15821a" stroke-width="0.9"/>
<circle cx="533.44" cy="368.86" r="1.3" fill="none" stroke="#15821a" stroke-width="0.9"/>
<circle cx="591.97" cy="366.27" r="1.3" fill="none" stroke="#15821a" stroke-width="0.9"/>
<circle cx="586.99" cy="367.65" r="1.3" fill="none" stroke="#15821a" stroke-width="0.9"/>
<circle cx="548.52" cy="367.7" r="1.3" fill="none" stroke="#15821a" stroke-width="0.9"/>
<circle cx="603.05" cy="367.95" r="1.3" fill="none" stroke="#15821a" stroke-width="0.9"/>
<circle cx="591.92" cy="369.15" r="1.3" fill="none" stroke="#15821a" stroke-width="0.9"/>
<circle cx="568.57" cy="369.95" r="1.3" fill="none" stroke="#15821a" stroke-width="0.9"/>
<circle cx="521.02" cy="368.37" r="1.3" fill="none" stroke="#15821a" stroke-width="0.9"/>
<circle cx="571.07" cy="367.56" r="1.3" fill="none" stroke="#15821a" stroke-width="0.9"/>
<circle cx="542.7" cy="367.17" r="1.3" fill="none" stroke="#15821a" stroke-width="0.9"/>
<circle cx="600.57" cy="367.08" r="1.3" fill="none" stroke="#15821a" stroke-width="0.9"/>
<circle cx="539.04" cy="367.44" r="1.3" fill="none" stroke="#15821a" stroke-width="0.9"/>
<circle cx="567.07" cy="369.22" r="1.3" fill="none" stroke="#15821a" stroke-width="0.9"/>
<circle cx="481.28" cy="367.75" r="1.3" fill="none" stroke="#15821a" stroke-width="0.9"/>
<circle cx="564.2" cy="368.36" r="1.3" fill="none" stroke="#15821a" stroke-width="0.9"/>
<circle cx="492.06" cy="368.22" r="1.3" fill="none" stroke="#15821a" stroke-width="0.9"/>
<circle cx="509.06" cy="368.98" r="1.3" fill="none" stroke="#15821a" stroke-width="0.9"/>
<circle cx="551.85" cy="369.15" r="1.3" fill="none" stroke="#15821a" stroke-width="0.9"/>
<circle cx="563.98" cy="367.53" r="1.3" fill="none" stroke="#15821a" stroke-width="0.9"/>
<circle cx="581.24" cy="367.75" r="1.3" fill="none" stroke="#15821a" stroke-width="0.9"/>
<circle cx="564.71" cy="368.94" r="1.3" fill="none" stroke="#15821a" stroke-width="0.9"/>
<circle cx="498" cy="368.44" r="1.3" fill="none" stroke="#15821a" stroke-width="0.9"/>
<circle cx="599.12" cy="366.6" r="1.3" fill="none" stroke="#15821a" stroke-width="0.9"/>
<circle cx="476.77" cy="368.89" r="1.3" fill="none" stroke="#15821a" stroke-width="0.9"/>
<circle cx="486.52" cy="368.11" r="1.3" fill="none" stroke="#15821a" stroke-width="0.9"/>
<circle cx="559.57" cy="368.11" r="1.3" fill="none" stroke="#15821a" stroke-width="0.9"/>
<circle cx="558.21" cy="368.81" r="1.3" fill="none" stroke="#15821a" stroke-width="0.9"/>
<circle cx="547.47" cy="367.47" r="1.3" fill="none" stroke="#15821a" stroke-width="0.9"/>
<circle cx="559.51" cy="368.18" r="1.3" fill="none" stroke="#15821a" stroke-width="0.9"/>
<circle cx="583.61" cy="368.17" r="1.3" fill="none" stroke="#15821a" stroke-width="0.9"/>
<circle cx="591.12" cy="367.17" r="1.3" fill="none" stroke="#15821a" stroke-width="0.9"/>
<circle cx="537.53" cy="368.15" r="1.3" fill="none" stroke="#15821a" stroke-width="0.9"/>
<circle cx="479.25" cy="368.1" r="1.3" fill="none" stroke="#15821a" stroke-width="0.9"/>
<circle cx="534.9" cy="368.15" r="1.3" fill="none" stroke="#15821a" stroke-width="0.9"/>
<circle cx="610.92" cy="367.87" r="1.3" fill="none" stroke="#15821a" stroke-width="0.9"/>
<circle cx="510.39" cy="367.5" r="1.3" fill="none" stroke="#15821a" stroke-width="0.9"/>
<circle cx="612.62" cy="368.45" r="1.3" fill="none" stroke="#15821a" stroke-width="0.9"/>
<circle cx="490.05" cy="368.39" r="1.3" fill="none" stroke="#15821a" stroke-width="0.9"/>
<circle cx="521.33" cy="369.53" r="1.3" fill="none" stroke="#15821a" stroke-width="0.9"/>
<circle cx="518.48" cy="369.61" r="1.3" fill="none" stroke="#15821a" stroke-width="0.9"/>
<circle cx="533.33" cy="369.71" r="1.3" fill="none" stroke="#15821a" stroke-width="0.9"/>
<circle cx="553.78" cy="368.46" r="1.3" fill="none" stroke="#15821a" stroke-width="0.9"/>
<circle cx="482.88" cy="370.27" r="1.3" fill="none" stroke="#15821a" stroke-width="0.9"/>
<circle cx="571.63" cy="369.3" r="1.3" fill="none" stroke="#15821a" stroke-width="0.9"/>
<circle cx="515.77" cy="368.8" r="1.3" fill="none" stroke="#15821a" stroke-width="0.9"/>
<circle cx="609.63" cy="366.98" r="1.3" fill="none" stroke="#15821a" stroke-width="0.9"/>
<circle cx="471.39" cy="368.97" r="1.3" fill="none" stroke="#15821a" stroke-width="0.9"/>
<circle cx="502.39" cy="369.17" r="1.3" fill="none" stroke="#15821a" stroke-width="0.9"/>
<circle cx="472.75" cy="368.33" r="1.3" fill="none" stroke="#15821a" stroke-width="0.9"/>
<circle cx="505.93" cy="367.76" r="1.3" fill="none" stroke="#15821a" stroke-width="0.9"/>
<circle cx="524.25" cy="369.14" r="1.3" fill="none" stroke="#15821a" stroke-width="0.9"/>
<circle cx="512.71" cy="367.51" r="1.3" fill="none" stroke="#15821a" stroke-width="0.9"/>
<circle cx="494.45" cy="368.54" r="1.3" fill="none" stroke="#15821a" stroke-width="0.9"/>
<circle cx="544.72" cy="367.47" r="1.3" fill="none" stroke="#15821a" stroke-width="0.9"/>
<circle cx="578" cy="367.92" r="1.3" fill="none" stroke="#15821a" stroke-width="0.9"/>
<circle cx="534.97" cy="368.84" r="1.3" fill="none" stroke="#15821a" stroke-width="0.9"/>
<circle cx="484.68" cy="370.26" r="1.3" fill="none" stroke="#15821a" stroke-width="0.9"/>
<circle cx="512.56" cy="367.68" r="1.3" fill="none" stroke="#15821a" stroke-width="0.9"/>
<circle cx="498.63" cy="368.81" r="1.3" fill="none" stroke="#15821a" stroke-width="0.9"/>
<circle cx="596.12" cy="368.07" r="1.3" fill="none" stroke="#15821a" stroke-width="0.9"/>
<circle cx="558.39" cy="369.35" r="1.3" fill="none" stroke="#15821a" stroke-width="0.9"/>
<circle cx="486.58" cy="368.01" r="1.3" fill="none" stroke="#15821a" stroke-width="0.9"/>
<circle cx="548.35" cy="368.58" r="1.3" fill="none" stroke="#15821a" stroke-width="0.9"/>
<circle cx="576.54" cy="369.55" r="1.3" fill="none" stroke="#15821a" stroke-width="0.9"/>
<circle cx="484" cy="366.9" r="1.3" fill="none" stroke="#15821a" stroke-width="0.9"/>
<circle cx="535.81" cy="368.01" r="1.3" fill="none" stroke="#15821a" stroke-width="0.9"/>
<circle cx="608.64" cy="367.73" r="1.3" fill="none" stroke="#15821a" stroke-width="0.9"/>
<circle cx="541.17" cy="368.6" r="1.3" fill="none" stroke="#15821a" stroke-width="0.9"/>
<circle cx="525.3" cy="368.18" r="1.3" fill="none" stroke="#15821a" stroke-width="0.9"/>
<circle cx="571.47" cy="368.89" r="1.3" fill="none" stroke="#15821a" stroke-width="0.9"/>
<circle cx="595.77" cy="367.6" r="1.3" fill="none" stroke="#15821a" stroke-width="0.9"/>
<circle cx="462.2" cy="366.19" r="1.3" fill="none" stroke="#15821a" stroke-width="0.9"/>
<circle cx="457.33" cy="371.08" r="1.3" fill="none" stroke="#15821a" stroke-width="0.9"/>
<circle cx="449.25" cy="376.14" r="1.3" fill="none" stroke="#15821a" stroke-width="0.9"/>
<circle cx="464.84" cy="365.78" r="1.3" fill="none" stroke="#15821a" stroke-width="0.9"/>
<circle cx="451.7" cy="372.25" r="1.3" fill="none" stroke="#15821a" stroke-width="0.9"/>
<circle cx="457" cy="369.48" r="1.3" fill="none" stroke="#15821a" stroke-width="0.9"/>
<circle cx="453.05" cy="369.99" r="1.3" fill="none" stroke="#15821a" stroke-width="0.9"/>
<circle cx="458" cy="369.45" r="1.3" fill="none" stroke="#15821a" stroke-width="0.9"/>
<circle cx="455.68" cy="370.6" r="1.3" fill="none" stroke="#15821a" stroke-width="0.9"/>
<circle cx="452.56" cy="369.43" r="1.3" fill="none" stroke="#15821a" stroke-width="0.9"/>
<circle cx="450.97" cy="372.73" r="1.3" fill="none" stroke="#15821a" stroke-width="0.9"/>
<circle cx="455.5" cy="371.96" r="1.3" fill="none" stroke="#15821a" stroke-width="0.9"/>
<circle cx="457.08" cy="370.31" r="1.3" fill="none" stroke="#15821a" stroke-width="0.9"/>
<circle cx="452.22" cy="367.38" r="1.3" fill="none" stroke="#15821a" stroke-width="0.9"/>
<circle cx="452.9" cy="371.44" r="1.3" fill="none" stroke="#15821a" stroke-width="0.9"/>
<circle cx="459.7" cy="369.01" r="1.3" fill="none" stroke="#15821a" stroke-width="0.9"/>
<circle cx="447.75" cy="372.78" r="1.3" fill="none" stroke="#15821a" stroke-width="0.9"/>
<circle cx="454.66" cy="369.71" r="1.3" fill="none" stroke="#15821a" stroke-width="0.9"/>
<circle cx="466.81" cy="366.94" r="1.3" fill="none" stroke="#15821a" stroke-width="0.9"/>
<circle cx="449.14" cy="373.99" r="1.3" fill="none" stroke="#15821a" stroke-width="0.9"/>
<circle cx="451.81" cy="371.91" r="1.3" fill="none" stroke="#15821a" stroke-width="0.9"/>
<circle cx="454.08" cy="368.52" r="1.3" fill="none" stroke="#15821a" stroke-width="0.9"/>
<circle cx="464.66" cy="368.25" r="1.3" fill="none" stroke="#15821a" stroke-width="0.9"/>
<circle cx="458.42" cy="370.37" r="1.3" fill="none" stroke="#15821a" stroke-width="0.9"/>
<circle cx="457.66" cy="369.99" r="1.3" fill="none" stroke="#15821a" stroke-width="0.9"/>
<circle cx="465.03" cy="366.22" r="1.3" fill="none" stroke="#15821a" stroke-width="0.9"/>
<rect x="389.04" y="389.58" width="2.4" height="2.4" fill="#f7941d"/>
<rect x="390.93" y="390.45" width="2.4" height="2.4" fill="#f7941d"/>
<rect x="392.81" y="390.92" width="2.4" height="2.4" fill="#f7941d"/>
<rect x="394.69" y="391.46" width="2.4" height="2.4" fill="#f7941d"/>
<rect x="396.57" y="393.04" width="2.4" height="2.4" fill="#f7941d"/>
<rect x="398.45" y="392.52" width="2.4" height="2.4" fill="#f7941d"/>
<rect x="400.33" y="391.65" width="2.4" height="2.4" fill="#f7941d"/>
<rect x="402.21" y="392.51" width="2.4" height="2.4" fill="#f7941d"/>
<rect x="404.1" y="393.02" width="2.4" height="2.4" fill="#f7941d"/>
<rect x="405.98" y="392.1" width="2.4" height="2.4" fill="#f7941d"/>
<rect x="407.86" y="392.19" width="2.4" height="2.4" fill="#f7941d"/>
<rect x="409.74" y="393" width="2.4" height="2.4" fill="#f7941d"/>
<rect x="411.62" y="390.89" width="2.4" height="2.4" fill="#f7941d"/>
<rect x="413.5" y="389.76" width="2.4" height="2.4" fill="#f7941d"/>
<rect x="415.38" y="389.31" width="2.4" height="2.4" fill="#f7941d"/>
<rect x="417.26" y="388.61" width="2.4" height="2.4" fill="#f7941d"/>
<rect x="419.15" y="386.5" width="2.4" height="2.4" fill="#f7941d"/>
<rect x="421.03" y="386.24" width="2.4" height="2.4" fill="#f7941d"/>
<rect x="422.91" y="384.69" width="2.4" height="2.4" fill="#f7941d"/>
<rect x="424.79" y="384.83" width="2.4" height="2.4" fill="#f7941d"/>
<path d="M424,387 L427,378 L433,371 L440,361 L446.5,347 L448,350 L444,358 L441,365 L434,374 L428,382 L425.5,388 Z" fill="#f7941d"/>
<rect x="434.78" y="363.73" width="2.2" height="2.2" fill="#f7941d"/>
<rect x="443.52" y="351.52" width="2.2" height="2.2" fill="#f7941d"/>
<rect x="436.75" y="362.14" width="2.2" height="2.2" fill="#f7941d"/>
<rect x="442.9" y="349.31" width="2.2" height="2.2" fill="#f7941d"/>
<rect x="440.44" y="354.15" width="2.2" height="2.2" fill="#f7941d"/>
<rect x="430.36" y="373.4" width="2.2" height="2.2" fill="#f7941d"/>
<rect x="444.95" y="347.26" width="2.2" height="2.2" fill="#f7941d"/>
<rect x="435.09" y="364.58" width="2.2" height="2.2" fill="#f7941d"/>
<rect x="433.09" y="367.46" width="2.2" height="2.2" fill="#f7941d"/>
<rect x="443.35" y="349.67" width="2.2" height="2.2" fill="#f7941d"/>
<rect x="434.28" y="367.22" width="2.2" height="2.2" fill="#f7941d"/>
<rect x="442.98" y="349.94" width="2.2" height="2.2" fill="#f7941d"/>
<rect x="435.64" y="362.3" width="2.2" height="2.2" fill="#f7941d"/>
<rect x="444.16" y="348.56" width="2.2" height="2.2" fill="#f7941d"/>
<rect x="436" y="361.85" width="2.2" height="2.2" fill="#f7941d"/>
<rect x="433.74" y="367.15" width="2.2" height="2.2" fill="#f7941d"/>
<rect x="429.71" y="373.31" width="2.2" height="2.2" fill="#f7941d"/>
<rect x="425.55" y="382.45" width="2.2" height="2.2" fill="#f7941d"/>
<rect x="431.75" y="373.64" width="2.2" height="2.2" fill="#f7941d"/>
<rect x="425.94" y="381.75" width="2.2" height="2.2" fill="#f7941d"/>
<rect x="443.36" y="349.92" width="2.2" height="2.2" fill="#f7941d"/>
<rect x="435.72" y="365.32" width="2.2" height="2.2" fill="#f7941d"/>
<rect x="430.17" y="373.56" width="2.2" height="2.2" fill="#f7941d"/>
<rect x="443.7" y="348.38" width="2.2" height="2.2" fill="#f7941d"/>
<rect x="424.8" y="386.81" width="2.2" height="2.2" fill="#f7941d"/>
<rect x="438.7" y="360.04" width="2.2" height="2.2" fill="#f7941d"/>
<rect x="429.56" y="373.83" width="2.2" height="2.2" fill="#f7941d"/>
<rect x="434.83" y="364.26" width="2.2" height="2.2" fill="#f7941d"/>
<rect x="429.81" y="371.93" width="2.2" height="2.2" fill="#f7941d"/>
<rect x="442.09" y="352.1" width="2.2" height="2.2" fill="#f7941d"/>
<path d="M444.6,348 L445.5,330 L447.5,325 L449,327 L448.2,348 Z" fill="#f7941d"/>
<rect x="448.2" y="320.1" width="2.8" height="2.8" fill="#f7941d"/>
<rect x="448.8" y="315.1" width="2.8" height="2.8" fill="#f7941d"/>
<rect x="449.1" y="309.6" width="2.8" height="2.8" fill="#f7941d"/>
<rect x="449.4" y="305.1" width="2.8" height="2.8" fill="#f7941d"/>
<rect x="449.8" y="300.5" width="2.8" height="2.8" fill="#f7941d"/>
<rect x="450.1" y="295.1" width="2.8" height="2.8" fill="#f7941d"/>
<rect x="450.5" y="288.6" width="2.8" height="2.8" fill="#f7941d"/>
<circle cx="385.8" cy="272" r="1.25" fill="none" stroke="#12127f" stroke-width="0.9"/>
<circle cx="385.76" cy="275.9" r="1.25" fill="none" stroke="#12127f" stroke-width="0.9"/>
<circle cx="385.72" cy="279.8" r="1.25" fill="none" stroke="#12127f" stroke-width="0.9"/>
<circle cx="385.68" cy="283.7" r="1.25" fill="none" stroke="#12127f" stroke-width="0.9"/>
<circle cx="385.64" cy="287.6" r="1.25" fill="none" stroke="#12127f" stroke-width="0.9"/>
<circle cx="385.61" cy="291.5" r="1.25" fill="none" stroke="#12127f" stroke-width="0.9"/>
<circle cx="385.57" cy="295.4" r="1.25" fill="none" stroke="#12127f" stroke-width="0.9"/>
<circle cx="385.53" cy="299.3" r="1.25" fill="none" stroke="#12127f" stroke-width="0.9"/>
<circle cx="385.49" cy="303.2" r="1.25" fill="none" stroke="#12127f" stroke-width="0.9"/>
<circle cx="385.45" cy="307.1" r="1.25" fill="none" stroke="#12127f" stroke-width="0.9"/>
<circle cx="385.41" cy="311" r="1.25" fill="none" stroke="#12127f" stroke-width="0.9"/>
<circle cx="385.37" cy="314.9" r="1.25" fill="none" stroke="#12127f" stroke-width="0.9"/>
<circle cx="385.33" cy="318.8" r="1.25" fill="none" stroke="#12127f" stroke-width="0.9"/>
<circle cx="385.29" cy="322.7" r="1.25" fill="none" stroke="#12127f" stroke-width="0.9"/>
<circle cx="385.25" cy="326.6" r="1.25" fill="none" stroke="#12127f" stroke-width="0.9"/>
<circle cx="385.22" cy="330.5" r="1.25" fill="none" stroke="#12127f" stroke-width="0.9"/>
<circle cx="385.18" cy="334.4" r="1.25" fill="none" stroke="#12127f" stroke-width="0.9"/>
<circle cx="385.14" cy="338.3" r="1.25" fill="none" stroke="#12127f" stroke-width="0.9"/>
<circle cx="385.2" cy="342" r="1.25" fill="none" stroke="#12127f" stroke-width="0.9"/>
<circle cx="385.2" cy="344.4" r="1.25" fill="none" stroke="#12127f" stroke-width="0.9"/>
<circle cx="385.2" cy="346.8" r="1.25" fill="none" stroke="#12127f" stroke-width="0.9"/>
<circle cx="385.2" cy="349.2" r="1.25" fill="none" stroke="#12127f" stroke-width="0.9"/>
<circle cx="385.2" cy="351.6" r="1.25" fill="none" stroke="#12127f" stroke-width="0.9"/>
<circle cx="385.2" cy="354" r="1.25" fill="none" stroke="#12127f" stroke-width="0.9"/>
<circle cx="385.2" cy="356.4" r="1.25" fill="none" stroke="#12127f" stroke-width="0.9"/>
<circle cx="385.2" cy="358.8" r="1.25" fill="none" stroke="#12127f" stroke-width="0.9"/>
<circle cx="385.2" cy="361.2" r="1.25" fill="none" stroke="#12127f" stroke-width="0.9"/>
<circle cx="385.2" cy="363.6" r="1.25" fill="none" stroke="#12127f" stroke-width="0.9"/>
<circle cx="385.2" cy="366" r="1.25" fill="none" stroke="#12127f" stroke-width="0.9"/>
<circle cx="385.2" cy="368.4" r="1.25" fill="none" stroke="#12127f" stroke-width="0.9"/>
<path d="M383,370 L386.8,370 L387,380 L386.5,392 L385.8,400 L385.5,406.5 L382.3,406.5 L382.8,392 Z" fill="#12127f"/>
<rect x="382" y="406.2" width="3.2" height="2.6" fill="none" stroke="#12127f" stroke-width="1"/>
<rect x="382" y="409.4" width="3.2" height="2.6" fill="none" stroke="#12127f" stroke-width="1"/>
<rect x="382" y="412.6" width="3.2" height="2.6" fill="none" stroke="#12127f" stroke-width="1"/>
<rect x="382" y="415.8" width="3.2" height="2.6" fill="none" stroke="#12127f" stroke-width="1"/>
<rect x="382" y="419" width="3.2" height="2.6" fill="none" stroke="#12127f" stroke-width="1"/>
<rect x="382" y="422.2" width="3.2" height="2.6" fill="none" stroke="#12127f" stroke-width="1"/>
<circle cx="383.3" cy="426.5" r="1.25" fill="none" stroke="#12127f" stroke-width="0.9"/>
<circle cx="383.3" cy="430.25" r="1.25" fill="none" stroke="#12127f" stroke-width="0.9"/>
<circle cx="383.3" cy="434" r="1.25" fill="none" stroke="#12127f" stroke-width="0.9"/>
<circle cx="383.3" cy="437.75" r="1.25" fill="none" stroke="#12127f" stroke-width="0.9"/>
<circle cx="383.3" cy="441.5" r="1.25" fill="none" stroke="#12127f" stroke-width="0.9"/>
<circle cx="383.3" cy="445.25" r="1.25" fill="none" stroke="#12127f" stroke-width="0.9"/>
<circle cx="383.3" cy="449" r="1.25" fill="none" stroke="#12127f" stroke-width="0.9"/>
<circle cx="383.3" cy="452.75" r="1.25" fill="none" stroke="#12127f" stroke-width="0.9"/>
<circle cx="383.3" cy="456.5" r="1.25" fill="none" stroke="#12127f" stroke-width="0.9"/>
<circle cx="383.3" cy="460.25" r="1.25" fill="none" stroke="#12127f" stroke-width="0.9"/>
<circle cx="383.3" cy="464" r="1.25" fill="none" stroke="#12127f" stroke-width="0.9"/>
<circle cx="383.3" cy="467.75" r="1.25" fill="none" stroke="#12127f" stroke-width="0.9"/>
<rect x="371.8" y="271.2" width="249" height="199.55" fill="none" stroke="#4d4d4d" stroke-width="1.3"/>
<line x1="382.5" y1="470.75" x2="382.5" y2="467.75" stroke="#4d4d4d" stroke-width="1.2" />
<text x="382.5" y="489" font-size="16.5" text-anchor="middle" fill="#1c1c1c" stroke="#1c1c1c" stroke-width="0.3" font-weight="normal" font-family="Liberation Sans, sans-serif" >0</text>
<line x1="442.07" y1="470.75" x2="442.07" y2="467.75" stroke="#4d4d4d" stroke-width="1.2" />
<text x="442.07" y="489" font-size="16.5" text-anchor="middle" fill="#1c1c1c" stroke="#1c1c1c" stroke-width="0.3" font-weight="normal" font-family="Liberation Sans, sans-serif" >10</text>
<line x1="501.65" y1="470.75" x2="501.65" y2="467.75" stroke="#4d4d4d" stroke-width="1.2" />
<text x="501.65" y="489" font-size="16.5" text-anchor="middle" fill="#1c1c1c" stroke="#1c1c1c" stroke-width="0.3" font-weight="normal" font-family="Liberation Sans, sans-serif" >20</text>
<line x1="561.23" y1="470.75" x2="561.23" y2="467.75" stroke="#4d4d4d" stroke-width="1.2" />
<text x="561.23" y="489" font-size="16.5" text-anchor="middle" fill="#1c1c1c" stroke="#1c1c1c" stroke-width="0.3" font-weight="normal" font-family="Liberation Sans, sans-serif" >30</text>
<line x1="620.8" y1="470.75" x2="620.8" y2="467.75" stroke="#4d4d4d" stroke-width="1.2" />
<text x="620.8" y="489" font-size="16.5" text-anchor="middle" fill="#1c1c1c" stroke="#1c1c1c" stroke-width="0.3" font-weight="normal" font-family="Liberation Sans, sans-serif" >40</text>
<line x1="371.8" y1="470.5" x2="374.8" y2="470.5" stroke="#4d4d4d" stroke-width="1.2" />
<text x="367" y="476.4" font-size="16.5" text-anchor="end" fill="#1c1c1c" stroke="#1c1c1c" stroke-width="0.3" font-weight="normal" font-family="Liberation Sans, sans-serif" >1.4</text>
<line x1="371.8" y1="404.32" x2="374.8" y2="404.32" stroke="#4d4d4d" stroke-width="1.2" />
<text x="367" y="410.22" font-size="16.5" text-anchor="end" fill="#1c1c1c" stroke="#1c1c1c" stroke-width="0.3" font-weight="normal" font-family="Liberation Sans, sans-serif" >1.6</text>
<line x1="371.8" y1="338.14" x2="374.8" y2="338.14" stroke="#4d4d4d" stroke-width="1.2" />
<text x="367" y="344.04" font-size="16.5" text-anchor="end" fill="#1c1c1c" stroke="#1c1c1c" stroke-width="0.3" font-weight="normal" font-family="Liberation Sans, sans-serif" >1.8</text>
<line x1="371.8" y1="271.96" x2="374.8" y2="271.96" stroke="#4d4d4d" stroke-width="1.2" />
<text x="367" y="277.86" font-size="16.5" text-anchor="end" fill="#1c1c1c" stroke="#1c1c1c" stroke-width="0.3" font-weight="normal" font-family="Liberation Sans, sans-serif" >2.0</text>
<line x1="371.8" y1="437.41" x2="374.3" y2="437.41" stroke="#4d4d4d" stroke-width="1.2" />
<line x1="371.8" y1="371.23" x2="374.3" y2="371.23" stroke="#4d4d4d" stroke-width="1.2" />
<line x1="371.8" y1="305.05" x2="374.3" y2="305.05" stroke="#4d4d4d" stroke-width="1.2" />
<text x="499.5" y="514.2" font-size="16.5" text-anchor="middle" fill="#1c1c1c" stroke="#1c1c1c" stroke-width="0.3" font-weight="normal" font-family="Liberation Sans, sans-serif" >Time (h)</text>
<text transform="translate(334.3,364.5) rotate(-90)" font-size="17" text-anchor="middle" fill="#1c1c1c" stroke="#1c1c1c" stroke-width="0.3" font-family="Liberation Sans, sans-serif">E (V<tspan font-size="11" dy="3">RHE</tspan><tspan dy="-3">)</tspan></text>
<text x="530.8" y="291" font-size="14.2" fill="#1c1c1c" stroke="#1c1c1c" stroke-width="0.3" font-family="Liberation Sans, sans-serif"><tspan font-weight="bold">(d)</tspan> 5 mA cm<tspan font-size="9.5" dy="-5.5">-2</tspan></text>
<rect x="567.6" y="305.6" width="104.8" height="83.8" fill="#fff" stroke="#4d4d4d" stroke-width="1.2"/>
<clipPath id="cd"><rect x="568" y="306" width="104" height="83"/></clipPath><g clip-path="url(#cd)">
<path d="M576.4,389 C576.5,385.83 576.82,376.83 577,370 C577.18,363.17 577,352.83 577.5,348 C578,343.17 578.9,342.67 580,341 C581.1,339.33 580.47,339.33 584.1,338 C587.73,336.67 594.45,334.45 601.8,333 C609.15,331.55 622.33,330.47 628.2,329.3 C634.07,328.13 634.05,328.05 637,326 C639.95,323.95 643.68,320.33 645.9,317 C648.12,313.67 649.57,307.83 650.3,306" fill="none" stroke="#7d7d7d" stroke-width="1.7" stroke-linejoin="round" stroke-linecap="round" />
<path d="M577.3,389 C577.67,387.83 578.92,384.43 579.5,382 C580.08,379.57 580.4,377.4 580.8,374.4 C581.2,371.4 581.28,366.48 581.9,364 C582.52,361.52 583.15,360.67 584.5,359.5 C585.85,358.33 587.85,357.58 590,357 C592.15,356.42 592.87,356.37 597.4,356 C601.93,355.63 610.6,355.55 617.2,354.8 C623.8,354.05 632.37,352.63 637,351.5 C641.63,350.37 643.12,349.42 645,348 C646.88,346.58 647.55,345.17 648.3,343 C649.05,340.83 649.18,338.83 649.5,335 C649.82,331.17 649.88,324.83 650.2,320 C650.52,315.17 651.2,308.33 651.4,306" fill="none" stroke="#12127f" stroke-width="2.3" stroke-linejoin="round" stroke-linecap="round" />
</g>
<line x1="575.3" y1="389.4" x2="575.3" y2="387.4" stroke="#4d4d4d" stroke-width="1.2" />
<line x1="597" y1="389.4" x2="597" y2="387.4" stroke="#4d4d4d" stroke-width="1.2" />
<line x1="618.9" y1="389.4" x2="618.9" y2="387.4" stroke="#4d4d4d" stroke-width="1.2" />
<line x1="640.7" y1="389.4" x2="640.7" y2="387.4" stroke="#4d4d4d" stroke-width="1.2" />
<line x1="662.4" y1="389.4" x2="662.4" y2="387.4" stroke="#4d4d4d" stroke-width="1.2" />
<line x1="567.6" y1="311.5" x2="569.6" y2="311.5" stroke="#4d4d4d" stroke-width="1.2" />
<line x1="567.6" y1="347.4" x2="569.6" y2="347.4" stroke="#4d4d4d" stroke-width="1.2" />
<line x1="567.6" y1="383.2" x2="569.6" y2="383.2" stroke="#4d4d4d" stroke-width="1.2" />
<text x="563" y="316.3" font-size="13" text-anchor="end" fill="#3a3a3a" stroke="#3a3a3a" stroke-width="0.25" font-family="Liberation Sans, sans-serif">2.0</text>
<text x="563" y="388" font-size="13" text-anchor="end" fill="#3a3a3a" stroke="#3a3a3a" stroke-width="0.25" font-family="Liberation Sans, sans-serif">1.4</text>
<text x="575.3" y="404" font-size="13" text-anchor="middle" fill="#3a3a3a" stroke="#3a3a3a" stroke-width="0.25" font-family="Liberation Sans, sans-serif">0.0</text>
<text x="662.4" y="404" font-size="13" text-anchor="middle" fill="#3a3a3a" stroke="#3a3a3a" stroke-width="0.25" font-family="Liberation Sans, sans-serif">0.5</text>
<path d="M561.4,369.9 L565.5,361 L567,369.9 Z" fill="#148414"/>
<path d="M569.7,369.9 L572.8,362 L574.9,369.9 Z" fill="#148414"/>
<circle cx="578.78" cy="367.46" r="1.3" fill="none" stroke="#15821a" stroke-width="0.9"/>
<circle cx="607.21" cy="367.96" r="1.3" fill="none" stroke="#15821a" stroke-width="0.9"/>
<circle cx="589.09" cy="369.6" r="1.3" fill="none" stroke="#15821a" stroke-width="0.9"/>
<circle cx="585.78" cy="367.03" r="1.3" fill="none" stroke="#15821a" stroke-width="0.9"/>
<circle cx="585.67" cy="369.43" r="1.3" fill="none" stroke="#15821a" stroke-width="0.9"/>
<circle cx="591.41" cy="368.2" r="1.3" fill="none" stroke="#15821a" stroke-width="0.9"/>
<circle cx="602.77" cy="367.63" r="1.3" fill="none" stroke="#15821a" stroke-width="0.9"/>
<circle cx="597.27" cy="367.81" r="1.3" fill="none" stroke="#15821a" stroke-width="0.9"/>
<circle cx="579.04" cy="368.32" r="1.3" fill="none" stroke="#15821a" stroke-width="0.9"/>
<circle cx="600.15" cy="368.47" r="1.3" fill="none" stroke="#15821a" stroke-width="0.9"/>
<circle cx="604.9" cy="368.21" r="1.3" fill="none" stroke="#15821a" stroke-width="0.9"/>
<circle cx="601.76" cy="366.27" r="1.3" fill="none" stroke="#15821a" stroke-width="0.9"/>
<circle cx="571.93" cy="367.62" r="1.3" fill="none" stroke="#15821a" stroke-width="0.9"/>
<circle cx="571.94" cy="370.03" r="1.3" fill="none" stroke="#15821a" stroke-width="0.9"/>
<circle cx="607.39" cy="368.53" r="1.3" fill="none" stroke="#15821a" stroke-width="0.9"/>
<circle cx="576.64" cy="367.97" r="1.3" fill="none" stroke="#15821a" stroke-width="0.9"/>
<circle cx="600.66" cy="368.29" r="1.3" fill="none" stroke="#15821a" stroke-width="0.9"/>
<circle cx="591.36" cy="368.24" r="1.3" fill="none" stroke="#15821a" stroke-width="0.9"/>
<circle cx="575.68" cy="369.02" r="1.3" fill="none" stroke="#15821a" stroke-width="0.9"/>
<circle cx="567.61" cy="367.63" r="1.3" fill="none" stroke="#15821a" stroke-width="0.9"/>
<circle cx="585.19" cy="370.14" r="1.3" fill="none" stroke="#15821a" stroke-width="0.9"/>
<circle cx="607.81" cy="368.51" r="1.3" fill="none" stroke="#15821a" stroke-width="0.9"/>
<circle cx="600.03" cy="370.29" r="1.3" fill="none" stroke="#15821a" stroke-width="0.9"/>
<circle cx="579.14" cy="368.43" r="1.3" fill="none" stroke="#15821a" stroke-width="0.9"/>
<circle cx="596.93" cy="368.49" r="1.3" fill="none" stroke="#15821a" stroke-width="0.9"/>
<circle cx="572.33" cy="367.38" r="1.3" fill="none" stroke="#15821a" stroke-width="0.9"/>
<circle cx="578.3" cy="368.35" r="1.3" fill="none" stroke="#15821a" stroke-width="0.9"/>
<circle cx="584.31" cy="367.99" r="1.3" fill="none" stroke="#15821a" stroke-width="0.9"/>
<circle cx="609.88" cy="368.01" r="1.3" fill="none" stroke="#15821a" stroke-width="0.9"/>
<circle cx="596.91" cy="368.65" r="1.3" fill="none" stroke="#15821a" stroke-width="0.9"/>
<circle cx="583.07" cy="368.59" r="1.3" fill="none" stroke="#15821a" stroke-width="0.9"/>
<circle cx="605.13" cy="367.66" r="1.3" fill="none" stroke="#15821a" stroke-width="0.9"/>
<circle cx="604.97" cy="368.84" r="1.3" fill="none" stroke="#15821a" stroke-width="0.9"/>
<circle cx="587.5" cy="369.31" r="1.3" fill="none" stroke="#15821a" stroke-width="0.9"/>
<circle cx="572.65" cy="369.02" r="1.3" fill="none" stroke="#15821a" stroke-width="0.9"/>
<circle cx="595.14" cy="368.02" r="1.3" fill="none" stroke="#15821a" stroke-width="0.9"/>
<circle cx="569.78" cy="370.54" r="1.3" fill="none" stroke="#15821a" stroke-width="0.9"/>
<circle cx="598.47" cy="367.72" r="1.3" fill="none" stroke="#15821a" stroke-width="0.9"/>
<circle cx="573.01" cy="367.93" r="1.3" fill="none" stroke="#15821a" stroke-width="0.9"/>
<circle cx="588.77" cy="367.63" r="1.3" fill="none" stroke="#15821a" stroke-width="0.9"/>
<circle cx="583.05" cy="368.68" r="1.3" fill="none" stroke="#15821a" stroke-width="0.9"/>
<circle cx="584.21" cy="366.64" r="1.3" fill="none" stroke="#15821a" stroke-width="0.9"/>
<circle cx="584.79" cy="365.18" r="1.3" fill="none" stroke="#15821a" stroke-width="0.9"/>
<circle cx="585.29" cy="365.17" r="1.3" fill="none" stroke="#15821a" stroke-width="0.9"/>
<circle cx="586.41" cy="364.29" r="1.3" fill="none" stroke="#15821a" stroke-width="0.9"/>
<circle cx="586.86" cy="362.77" r="1.3" fill="none" stroke="#15821a" stroke-width="0.9"/>
<path d="M582,369.9 L587.5,362.4 L588.5,369.9 Z" fill="#148414"/>
<circle cx="589.9" cy="368.87" r="1.3" fill="none" stroke="#15821a" stroke-width="0.9"/>
<circle cx="591" cy="367.27" r="1.3" fill="none" stroke="#15821a" stroke-width="0.9"/>
<circle cx="591.82" cy="366.09" r="1.3" fill="none" stroke="#15821a" stroke-width="0.9"/>
<circle cx="592.35" cy="365.02" r="1.3" fill="none" stroke="#15821a" stroke-width="0.9"/>
<circle cx="593.69" cy="363.5" r="1.3" fill="none" stroke="#15821a" stroke-width="0.9"/>
<circle cx="594.68" cy="362.38" r="1.3" fill="none" stroke="#15821a" stroke-width="0.9"/>
<path d="M589,369.9 L594.5,362.4 L595.5,369.9 Z" fill="#148414"/>
<circle cx="597.18" cy="367.99" r="1.3" fill="none" stroke="#15821a" stroke-width="0.9"/>
<circle cx="597.91" cy="367.89" r="1.3" fill="none" stroke="#15821a" stroke-width="0.9"/>
<circle cx="598.76" cy="366.07" r="1.3" fill="none" stroke="#15821a" stroke-width="0.9"/>
<circle cx="600.11" cy="365.35" r="1.3" fill="none" stroke="#15821a" stroke-width="0.9"/>
<circle cx="600.36" cy="362.04" r="1.3" fill="none" stroke="#15821a" stroke-width="0.9"/>
<circle cx="601.49" cy="363.26" r="1.3" fill="none" stroke="#15821a" stroke-width="0.9"/>
<path d="M596,369.9 L601.5,362.4 L602.5,369.9 Z" fill="#148414"/>
<circle cx="603.74" cy="368.9" r="1.3" fill="none" stroke="#15821a" stroke-width="0.9"/>
<circle cx="604.83" cy="367.71" r="1.3" fill="none" stroke="#15821a" stroke-width="0.9"/>
<circle cx="606.06" cy="365.8" r="1.3" fill="none" stroke="#15821a" stroke-width="0.9"/>
<circle cx="605.92" cy="365.3" r="1.3" fill="none" stroke="#15821a" stroke-width="0.9"/>
<circle cx="606.9" cy="363.87" r="1.3" fill="none" stroke="#15821a" stroke-width="0.9"/>
<circle cx="608.14" cy="362.3" r="1.3" fill="none" stroke="#15821a" stroke-width="0.9"/>
<path d="M603,369.9 L608.5,362.4 L609.5,369.9 Z" fill="#148414"/>
<circle cx="608.89" cy="367.69" r="1.3" fill="none" stroke="#15821a" stroke-width="0.9"/>
<circle cx="608.87" cy="368.4" r="1.3" fill="none" stroke="#15821a" stroke-width="0.9"/>
<circle cx="611.45" cy="366.53" r="1.3" fill="none" stroke="#15821a" stroke-width="0.9"/>
<circle cx="611.59" cy="364.03" r="1.3" fill="none" stroke="#15821a" stroke-width="0.9"/>
<circle cx="611.94" cy="363.74" r="1.3" fill="none" stroke="#15821a" stroke-width="0.9"/>
<circle cx="614.07" cy="362.6" r="1.3" fill="none" stroke="#15821a" stroke-width="0.9"/>
<path d="M608,369.9 L613.5,362.4 L614.5,369.9 Z" fill="#148414"/>
<text transform="translate(459.5,316)" font-size="13.3" text-anchor="start" fill="#f7941d" stroke="#f7941d" stroke-width="0.25" font-weight="normal" font-family="Liberation Sans, sans-serif"><tspan font-family="Liberation Serif, serif" font-style="italic" font-weight="bold" font-size="14.5">ah</tspan><tspan font-weight="bold">-</tspan><tspan font-weight="bold">RuO</tspan><tspan font-weight="bold" font-size="9" dy="2.5">2</tspan></text>
<text transform="translate(392,316.9)" font-size="13.3" text-anchor="start" fill="#8a8a8a" stroke="#8a8a8a" stroke-width="0.25" font-weight="bold" font-family="Liberation Sans, sans-serif">Pt/C</text>
<text transform="translate(393,345.7)" font-size="13.3" text-anchor="start" fill="#12127f" stroke="#12127f" stroke-width="0.25" font-weight="normal" font-family="Liberation Sans, sans-serif"><tspan font-family="Liberation Serif, serif" font-style="italic" font-weight="bold" font-size="14.5">h</tspan><tspan font-weight="bold">-</tspan><tspan font-weight="bold">RuO</tspan><tspan font-weight="bold" font-size="9" dy="2.5">2</tspan></text>
<text transform="translate(463.3,382.4)" font-size="13" text-anchor="start" fill="#15821a" stroke="#15821a" stroke-width="0.25" font-weight="normal" font-family="Liberation Sans, sans-serif"><tspan font-family="Liberation Serif, serif" font-style="italic" font-weight="bold" font-size="14.5">x</tspan><tspan font-weight="bold">-</tspan><tspan font-weight="bold">RuO</tspan><tspan font-weight="bold" font-size="9" dy="2.5">2</tspan></text>
<text transform="translate(556,446)" font-size="13.3" text-anchor="start" fill="#ec1c24" stroke="#ec1c24" stroke-width="0.25" font-weight="bold" font-family="Liberation Sans, sans-serif"><tspan font-weight="bold">RuO</tspan><tspan font-weight="bold" font-size="9" dy="2.5">2</tspan><tspan font-weight="bold" dy="-2.5">@C</tspan></text>
</svg></body></html>
